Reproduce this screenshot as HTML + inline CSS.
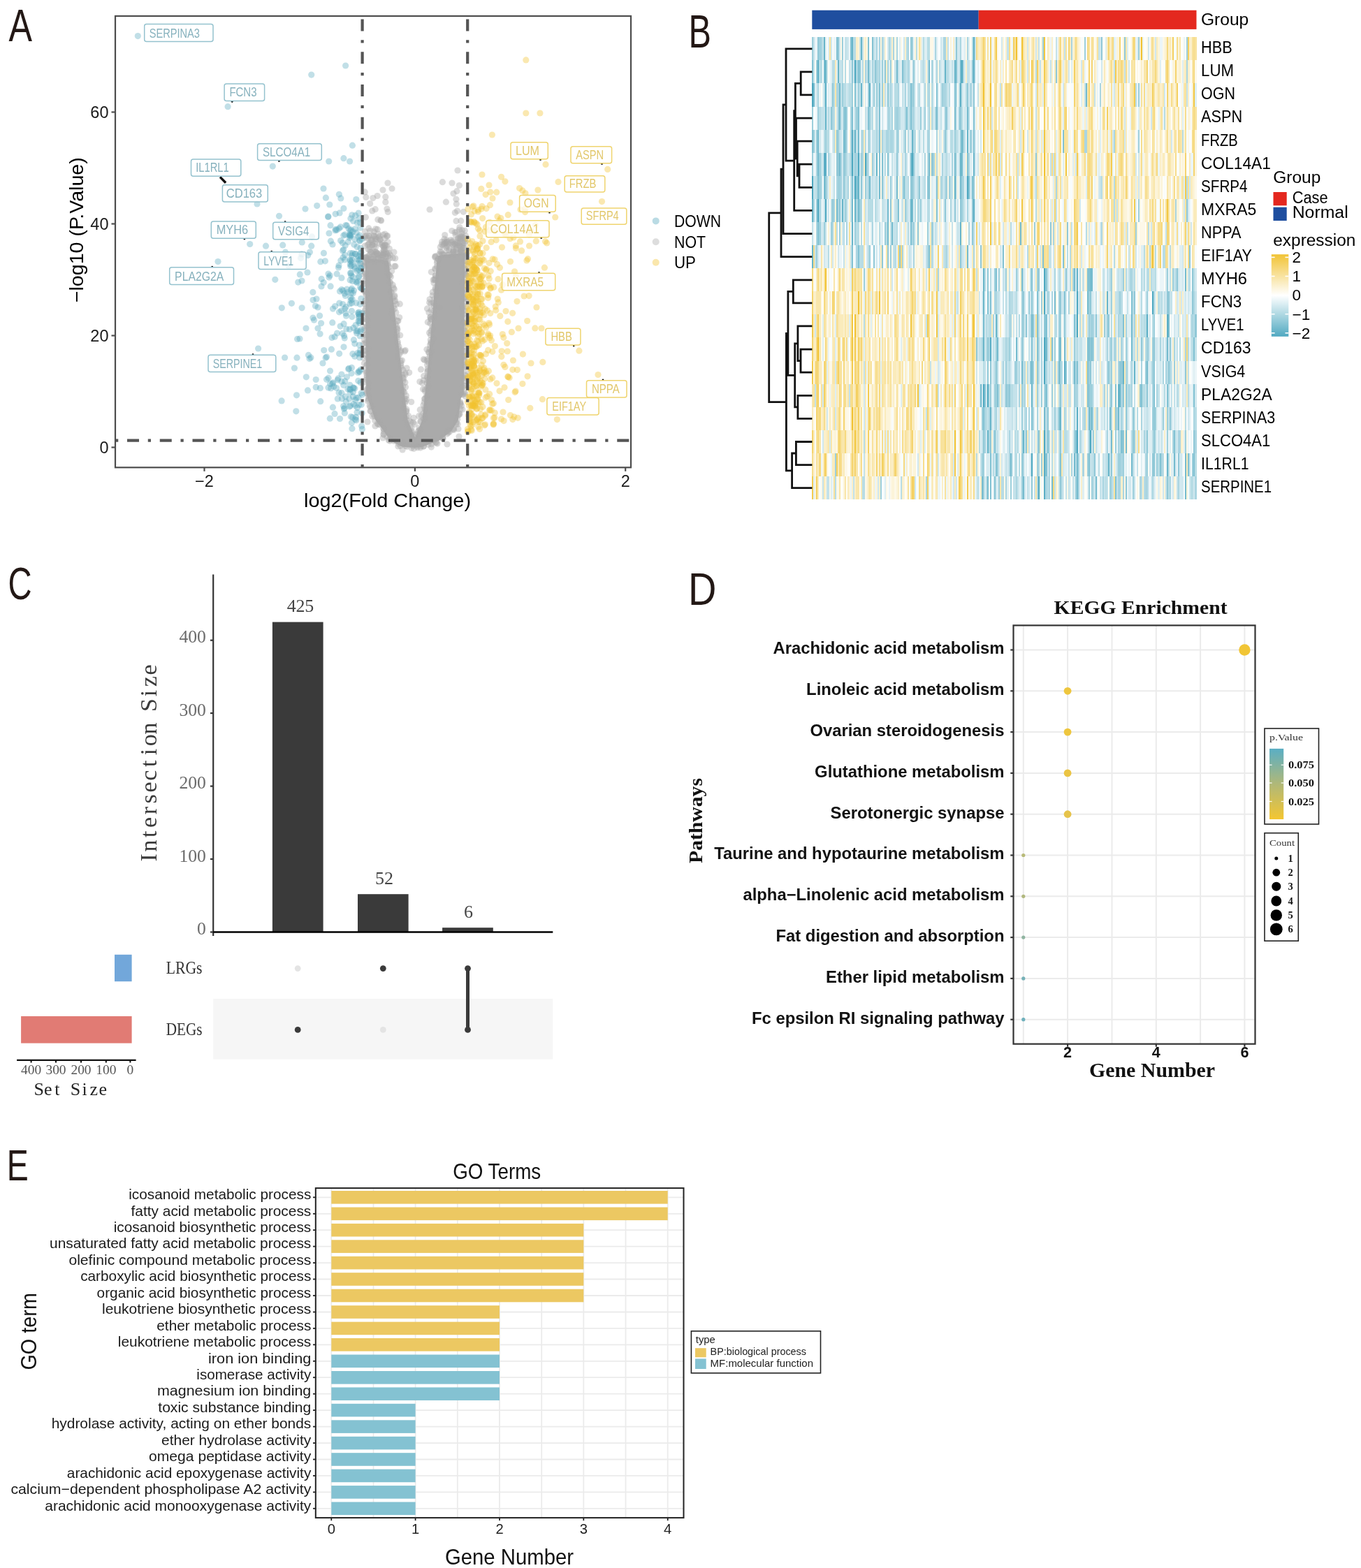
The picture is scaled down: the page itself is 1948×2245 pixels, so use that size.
<!DOCTYPE html>
<html><head><meta charset="utf-8"><title>Figure</title>
<style>html,body{margin:0;padding:0;background:#fff;}body{width:1948px;height:2245px;overflow:hidden;}svg{display:block;}</style>
</head><body>
<svg width="1948" height="2245" viewBox="0 0 1948 2245" font-family="'Liberation Sans', Arial, sans-serif">
<rect width="1948" height="2245" fill="#fff"/>
<g id="pa">
<text x="12.5" y="58.9" font-size="64.2" fill="#231815" textLength="33.5" lengthAdjust="spacingAndGlyphs">A</text>
<clipPath id="clipA"><rect x="165" y="23" width="738" height="646.3"/></clipPath>
<g clip-path="url(#clipA)">
<path d="M522.7 369.7 L530.1 370.5 L544.3 371.5 L553.7 373 L556.2 374.7 L573.5 518.7 L583.6 601 L594 626.5 L604.4 600.9 L613.1 518.5 L625.4 373.3 L627.7 366.1 L635.9 364.4 L650.2 363.5 L665.3 361.9 L663.9 563.5 L659.8 570.2 L655.8 601.7 L646.5 616.4 L629.8 630.2 L604.7 639.7 L593.9 641 L575.5 639.7 L558.6 630.9 L549 616.8 L536.7 600.4 L526.2 570.2 L524 564.1Z" fill="#aaaaaa"/>
<g fill="#a9a9a9" fill-opacity="0.42">
<circle cx="549.6" cy="354" r="4.6"/><circle cx="536.8" cy="602.2" r="4.6"/><circle cx="615.4" cy="509.9" r="4.6"/><circle cx="526.9" cy="554.9" r="4.6"/><circle cx="639.2" cy="358.9" r="4.6"/><circle cx="568" cy="475.5" r="4.6"/><circle cx="524.3" cy="368.9" r="4.6"/><circle cx="579.9" cy="547.6" r="4.6"/><circle cx="653.1" cy="358" r="4.6"/><circle cx="568.9" cy="471.9" r="4.6"/><circle cx="535.8" cy="595.9" r="4.6"/><circle cx="652" cy="336.6" r="4.6"/><circle cx="527.5" cy="572.4" r="4.6"/><circle cx="606.1" cy="639.1" r="4.6"/><circle cx="589" cy="613.1" r="4.6"/><circle cx="527.8" cy="326.9" r="4.6"/><circle cx="638.1" cy="347.4" r="4.6"/><circle cx="617.1" cy="503.6" r="4.6"/><circle cx="590" cy="618.2" r="4.6"/><circle cx="520" cy="377.7" r="4.6"/><circle cx="639.9" cy="621.3" r="4.6"/><circle cx="523.8" cy="282.4" r="4.6"/><circle cx="535.7" cy="337.4" r="4.6"/><circle cx="526" cy="604" r="4.6"/><circle cx="577.1" cy="545.3" r="4.6"/><circle cx="575.5" cy="633.1" r="4.6"/><circle cx="645.3" cy="343.6" r="4.6"/><circle cx="642.5" cy="358.5" r="4.6"/><circle cx="581.9" cy="588.5" r="4.6"/><circle cx="666" cy="474.2" r="4.6"/><circle cx="648" cy="614.9" r="4.6"/><circle cx="611.5" cy="441.9" r="4.6"/><circle cx="615.1" cy="499.4" r="4.6"/><circle cx="574.1" cy="526.5" r="4.6"/><circle cx="594.2" cy="622" r="4.6"/><circle cx="617.2" cy="456.8" r="4.6"/><circle cx="665.1" cy="462.9" r="4.6"/><circle cx="575.5" cy="516" r="4.6"/><circle cx="658.3" cy="347.4" r="4.6"/><circle cx="525" cy="540.4" r="4.6"/><circle cx="543.9" cy="348.9" r="4.6"/><circle cx="524.2" cy="533.8" r="4.6"/><circle cx="665.7" cy="341.9" r="4.6"/><circle cx="611.4" cy="516.8" r="4.6"/><circle cx="592.4" cy="642.3" r="4.6"/><circle cx="538.2" cy="361.2" r="4.6"/><circle cx="588.7" cy="575.5" r="4.6"/><circle cx="549.3" cy="614.3" r="4.6"/><circle cx="532.4" cy="581.3" r="4.6"/><circle cx="534.5" cy="360.8" r="4.6"/><circle cx="635.2" cy="364.5" r="4.6"/><circle cx="661" cy="338.5" r="4.6"/><circle cx="529.6" cy="291.6" r="4.6"/><circle cx="602.5" cy="528.9" r="4.6"/><circle cx="560.7" cy="388.1" r="4.6"/><circle cx="537.8" cy="353.5" r="4.6"/><circle cx="555.1" cy="346.5" r="4.6"/><circle cx="650.9" cy="349.6" r="4.6"/><circle cx="611.7" cy="540.6" r="4.6"/><circle cx="657.2" cy="592.3" r="4.6"/><circle cx="555.4" cy="366.8" r="4.6"/><circle cx="549.2" cy="361.9" r="4.6"/><circle cx="652.8" cy="607.4" r="4.6"/><circle cx="548" cy="272" r="4.6"/><circle cx="536.3" cy="374.2" r="4.6"/><circle cx="521.4" cy="520.3" r="4.6"/><circle cx="668.3" cy="531.1" r="4.6"/><circle cx="592.2" cy="598.4" r="4.6"/><circle cx="641.5" cy="619.6" r="4.6"/><circle cx="581.9" cy="585.9" r="4.6"/><circle cx="606.5" cy="638.9" r="4.6"/><circle cx="562.4" cy="369.4" r="4.6"/><circle cx="551" cy="374.4" r="4.6"/><circle cx="549.2" cy="359" r="4.6"/><circle cx="616.3" cy="486.7" r="4.6"/><circle cx="665.7" cy="563.6" r="4.6"/><circle cx="544.9" cy="367.8" r="4.6"/><circle cx="573.1" cy="638.6" r="4.6"/><circle cx="552.4" cy="367.7" r="4.6"/><circle cx="648.1" cy="344.6" r="4.6"/><circle cx="658.8" cy="360" r="4.6"/><circle cx="537.7" cy="369.4" r="4.6"/><circle cx="664.4" cy="391.3" r="4.6"/><circle cx="569.9" cy="459.5" r="4.6"/><circle cx="608.3" cy="586.2" r="4.6"/><circle cx="553.5" cy="351.7" r="4.6"/><circle cx="611.5" cy="555.4" r="4.6"/><circle cx="585.7" cy="533.6" r="4.6"/><circle cx="666.5" cy="386.1" r="4.6"/><circle cx="521.4" cy="416.8" r="4.6"/><circle cx="577.1" cy="560.8" r="4.6"/><circle cx="603.2" cy="595" r="4.6"/><circle cx="666.1" cy="404.6" r="4.6"/><circle cx="554.6" cy="363.8" r="4.6"/><circle cx="522.5" cy="501.5" r="4.6"/><circle cx="660.3" cy="361.2" r="4.6"/><circle cx="624.4" cy="422.3" r="4.6"/><circle cx="606.9" cy="600.2" r="4.6"/><circle cx="565.7" cy="369.8" r="4.6"/><circle cx="547.9" cy="365.4" r="4.6"/><circle cx="553.9" cy="299.1" r="4.6"/><circle cx="532.8" cy="351.3" r="4.6"/><circle cx="657.4" cy="363.3" r="4.6"/><circle cx="522.1" cy="445.2" r="4.6"/><circle cx="524.2" cy="395.7" r="4.6"/><circle cx="527" cy="357.1" r="4.6"/><circle cx="591.4" cy="625.3" r="4.6"/><circle cx="665.5" cy="445.2" r="4.6"/><circle cx="553.2" cy="363.2" r="4.6"/><circle cx="647.8" cy="346.6" r="4.6"/><circle cx="649.6" cy="613.5" r="4.6"/><circle cx="648.6" cy="360.8" r="4.6"/><circle cx="620.5" cy="485" r="4.6"/><circle cx="626" cy="635.1" r="4.6"/><circle cx="548.7" cy="613.5" r="4.6"/><circle cx="532.8" cy="596.1" r="4.6"/><circle cx="551" cy="363" r="4.6"/><circle cx="538.5" cy="360.9" r="4.6"/><circle cx="621.6" cy="400.5" r="4.6"/><circle cx="526.7" cy="499" r="4.6"/><circle cx="662.7" cy="348.7" r="4.6"/><circle cx="662.8" cy="564.8" r="4.6"/><circle cx="663.3" cy="426.8" r="4.6"/><circle cx="620.4" cy="454.6" r="4.6"/><circle cx="667.7" cy="365.9" r="4.6"/><circle cx="606.3" cy="544.6" r="4.6"/><circle cx="637.1" cy="348.4" r="4.6"/><circle cx="666.3" cy="345.5" r="4.6"/><circle cx="633.6" cy="627.5" r="4.6"/><circle cx="666.3" cy="510.3" r="4.6"/><circle cx="610.6" cy="568.5" r="4.6"/><circle cx="561.3" cy="449.2" r="4.6"/><circle cx="665.5" cy="492.6" r="4.6"/><circle cx="529.8" cy="330.5" r="4.6"/><circle cx="531.9" cy="360.9" r="4.6"/><circle cx="663.2" cy="490.7" r="4.6"/><circle cx="666.4" cy="337.6" r="4.6"/><circle cx="653.7" cy="348.4" r="4.6"/><circle cx="540.5" cy="369.2" r="4.6"/><circle cx="601.7" cy="603.6" r="4.6"/><circle cx="535.9" cy="365.6" r="4.6"/><circle cx="661" cy="334.1" r="4.6"/><circle cx="581.7" cy="571.4" r="4.6"/><circle cx="656" cy="614" r="4.6"/><circle cx="623.5" cy="385.5" r="4.6"/><circle cx="570.4" cy="635.1" r="4.6"/><circle cx="535.2" cy="331.7" r="4.6"/><circle cx="634.1" cy="628" r="4.6"/><circle cx="628.9" cy="364.1" r="4.6"/><circle cx="573.7" cy="502" r="4.6"/><circle cx="573.9" cy="523.8" r="4.6"/><circle cx="524.1" cy="399.3" r="4.6"/><circle cx="526" cy="532" r="4.6"/><circle cx="606.6" cy="538.4" r="4.6"/><circle cx="524.6" cy="523" r="4.6"/><circle cx="655.7" cy="341.3" r="4.6"/><circle cx="664.1" cy="420.3" r="4.6"/><circle cx="523.4" cy="311.1" r="4.6"/><circle cx="549.3" cy="357.5" r="4.6"/><circle cx="617.1" cy="444.1" r="4.6"/><circle cx="623.5" cy="394.7" r="4.6"/><circle cx="568.4" cy="470.6" r="4.6"/><circle cx="577.9" cy="583.2" r="4.6"/><circle cx="665.2" cy="518" r="4.6"/><circle cx="610.9" cy="500.3" r="4.6"/><circle cx="664.4" cy="355" r="4.6"/><circle cx="521.7" cy="456.1" r="4.6"/><circle cx="641" cy="349.6" r="4.6"/><circle cx="556.2" cy="630" r="4.6"/><circle cx="525.4" cy="521.6" r="4.6"/><circle cx="648.9" cy="358.4" r="4.6"/><circle cx="667.2" cy="481.7" r="4.6"/><circle cx="660.8" cy="564.7" r="4.6"/><circle cx="655" cy="244" r="4.6"/><circle cx="632.5" cy="363.8" r="4.6"/><circle cx="558.5" cy="405" r="4.6"/><circle cx="521.8" cy="381.1" r="4.6"/><circle cx="659.2" cy="339.4" r="4.6"/><circle cx="537.3" cy="339.3" r="4.6"/><circle cx="555" cy="373.6" r="4.6"/><circle cx="634" cy="364.5" r="4.6"/><circle cx="619.7" cy="433" r="4.6"/><circle cx="562.3" cy="427" r="4.6"/><circle cx="554.7" cy="337.7" r="4.6"/><circle cx="598.3" cy="621.3" r="4.6"/><circle cx="524.6" cy="467.5" r="4.6"/><circle cx="591.3" cy="604.9" r="4.6"/><circle cx="533.9" cy="283.6" r="4.6"/><circle cx="643.1" cy="354.5" r="4.6"/><circle cx="576.1" cy="644" r="4.6"/><circle cx="581.3" cy="566.6" r="4.6"/><circle cx="661.4" cy="360.5" r="4.6"/><circle cx="661" cy="354.6" r="4.6"/><circle cx="564.3" cy="414.1" r="4.6"/><circle cx="663.8" cy="415.1" r="4.6"/><circle cx="663.4" cy="495.9" r="4.6"/><circle cx="661.6" cy="440.1" r="4.6"/><circle cx="569.2" cy="488.9" r="4.6"/><circle cx="664.2" cy="454.5" r="4.6"/><circle cx="616.7" cy="490.3" r="4.6"/><circle cx="543.4" cy="338.2" r="4.6"/><circle cx="665.1" cy="347.9" r="4.6"/><circle cx="657.4" cy="351.3" r="4.6"/><circle cx="663.2" cy="481.5" r="4.6"/><circle cx="524.7" cy="421.4" r="4.6"/><circle cx="546.9" cy="347.6" r="4.6"/><circle cx="665.3" cy="400.9" r="4.6"/><circle cx="543.7" cy="608.1" r="4.6"/><circle cx="545.9" cy="372.6" r="4.6"/><circle cx="613.9" cy="505.1" r="4.6"/><circle cx="617" cy="491.8" r="4.6"/><circle cx="525.9" cy="458.3" r="4.6"/><circle cx="653.8" cy="346.2" r="4.6"/><circle cx="564.8" cy="424.9" r="4.6"/><circle cx="606" cy="579.9" r="4.6"/><circle cx="530.2" cy="368.8" r="4.6"/><circle cx="577.7" cy="541.9" r="4.6"/><circle cx="665.8" cy="536.9" r="4.6"/><circle cx="537" cy="610" r="4.6"/><circle cx="522.9" cy="417.2" r="4.6"/><circle cx="529.1" cy="580.8" r="4.6"/><circle cx="640.2" cy="346.2" r="4.6"/><circle cx="617.3" cy="640.1" r="4.6"/><circle cx="524.1" cy="507.3" r="4.6"/><circle cx="542.3" cy="340.2" r="4.6"/><circle cx="537.6" cy="345.2" r="4.6"/><circle cx="663.3" cy="303.3" r="4.6"/><circle cx="549.3" cy="622.6" r="4.6"/><circle cx="548.5" cy="336.2" r="4.6"/><circle cx="658.9" cy="342.2" r="4.6"/><circle cx="523.5" cy="430.4" r="4.6"/><circle cx="568.2" cy="480" r="4.6"/><circle cx="529.4" cy="353.4" r="4.6"/><circle cx="653.9" cy="273.7" r="4.6"/><circle cx="645.7" cy="346.9" r="4.6"/><circle cx="662.4" cy="418.9" r="4.6"/><circle cx="668" cy="379.8" r="4.6"/><circle cx="543.8" cy="343.3" r="4.6"/><circle cx="666.6" cy="467.2" r="4.6"/><circle cx="668" cy="374.5" r="4.6"/><circle cx="540.2" cy="606.4" r="4.6"/><circle cx="522.7" cy="490.8" r="4.6"/><circle cx="556.8" cy="394.4" r="4.6"/><circle cx="581.3" cy="589.6" r="4.6"/><circle cx="639.7" cy="346.9" r="4.6"/><circle cx="607.8" cy="583.9" r="4.6"/><circle cx="586.1" cy="602.7" r="4.6"/><circle cx="566.8" cy="447.5" r="4.6"/><circle cx="526.2" cy="372.8" r="4.6"/><circle cx="621.8" cy="427.8" r="4.6"/><circle cx="564.8" cy="381.1" r="4.6"/><circle cx="624.5" cy="634" r="4.6"/><circle cx="550.1" cy="352.5" r="4.6"/><circle cx="656.1" cy="594.6" r="4.6"/><circle cx="662" cy="345.8" r="4.6"/><circle cx="563.9" cy="361.1" r="4.6"/><circle cx="576.6" cy="540.7" r="4.6"/><circle cx="573.8" cy="520" r="4.6"/><circle cx="540.9" cy="314.4" r="4.6"/><circle cx="524.1" cy="437.7" r="4.6"/><circle cx="548" cy="627" r="4.6"/><circle cx="665.6" cy="392.4" r="4.6"/><circle cx="662.9" cy="444.7" r="4.6"/><circle cx="549.1" cy="363" r="4.6"/><circle cx="623.2" cy="414.2" r="4.6"/><circle cx="521.3" cy="473" r="4.6"/><circle cx="523.6" cy="421.4" r="4.6"/><circle cx="525.7" cy="556.7" r="4.6"/><circle cx="521.1" cy="406.5" r="4.6"/><circle cx="524.4" cy="337.5" r="4.6"/><circle cx="598.6" cy="617.8" r="4.6"/><circle cx="579.6" cy="576.9" r="4.6"/><circle cx="524.7" cy="478" r="4.6"/><circle cx="663.6" cy="471.7" r="4.6"/><circle cx="551.1" cy="335" r="4.6"/><circle cx="581.6" cy="595.9" r="4.6"/><circle cx="605.5" cy="557.2" r="4.6"/><circle cx="659.1" cy="338" r="4.6"/><circle cx="653.4" cy="332" r="4.6"/><circle cx="625.4" cy="376.4" r="4.6"/><circle cx="557.7" cy="627.7" r="4.6"/><circle cx="540.7" cy="371" r="4.6"/><circle cx="654.8" cy="361.9" r="4.6"/><circle cx="569.4" cy="492" r="4.6"/><circle cx="634.5" cy="351.7" r="4.6"/><circle cx="606.1" cy="591.8" r="4.6"/><circle cx="555" cy="262" r="4.6"/><circle cx="535" cy="593.5" r="4.6"/><circle cx="659.7" cy="316.2" r="4.6"/><circle cx="522" cy="340.4" r="4.6"/><circle cx="558.5" cy="365.1" r="4.6"/><circle cx="663" cy="354.7" r="4.6"/><circle cx="663.1" cy="339.7" r="4.6"/><circle cx="579.9" cy="534" r="4.6"/><circle cx="625.6" cy="373.4" r="4.6"/><circle cx="523" cy="391.7" r="4.6"/><circle cx="657.8" cy="325.6" r="4.6"/><circle cx="653" cy="316.4" r="4.6"/><circle cx="620.8" cy="445" r="4.6"/><circle cx="661.9" cy="351.5" r="4.6"/><circle cx="553.8" cy="625.3" r="4.6"/><circle cx="529.9" cy="582.4" r="4.6"/><circle cx="659.9" cy="341.7" r="4.6"/><circle cx="631.6" cy="361.2" r="4.6"/><circle cx="658.8" cy="353.2" r="4.6"/><circle cx="611.1" cy="548.5" r="4.6"/><circle cx="613" cy="636.4" r="4.6"/><circle cx="665.5" cy="542" r="4.6"/><circle cx="662.8" cy="461.4" r="4.6"/><circle cx="639.7" cy="351.9" r="4.6"/><circle cx="656" cy="340.8" r="4.6"/><circle cx="611.5" cy="522.2" r="4.6"/><circle cx="659" cy="575.8" r="4.6"/><circle cx="588.2" cy="604.4" r="4.6"/><circle cx="526.4" cy="574.2" r="4.6"/><circle cx="557.8" cy="369.6" r="4.6"/><circle cx="524.9" cy="543.6" r="4.6"/><circle cx="660.9" cy="357.5" r="4.6"/><circle cx="579.3" cy="502.9" r="4.6"/><circle cx="549.3" cy="617.7" r="4.6"/><circle cx="526.2" cy="512.7" r="4.6"/><circle cx="543.1" cy="603.7" r="4.6"/><circle cx="630.2" cy="359.9" r="4.6"/><circle cx="526" cy="563.2" r="4.6"/><circle cx="557.9" cy="631.3" r="4.6"/><circle cx="538.6" cy="342.7" r="4.6"/><circle cx="542.5" cy="370.1" r="4.6"/><circle cx="576.9" cy="529.8" r="4.6"/><circle cx="616.7" cy="435.1" r="4.6"/><circle cx="643.5" cy="618.2" r="4.6"/><circle cx="648.9" cy="360.8" r="4.6"/><circle cx="599.9" cy="612.8" r="4.6"/><circle cx="616.7" cy="473.7" r="4.6"/><circle cx="642.6" cy="363.9" r="4.6"/><circle cx="523.6" cy="369.6" r="4.6"/><circle cx="664.3" cy="383.5" r="4.6"/><circle cx="665.9" cy="365.1" r="4.6"/><circle cx="633.4" cy="260.7" r="4.6"/><circle cx="555.3" cy="380.1" r="4.6"/><circle cx="558.1" cy="403.8" r="4.6"/><circle cx="521.5" cy="486.5" r="4.6"/><circle cx="552.1" cy="371.6" r="4.6"/><circle cx="540.2" cy="328.3" r="4.6"/><circle cx="534.5" cy="337.7" r="4.6"/><circle cx="525.1" cy="537.7" r="4.6"/><circle cx="564.8" cy="423.1" r="4.6"/><circle cx="536.4" cy="349.2" r="4.6"/><circle cx="664.8" cy="523.2" r="4.6"/><circle cx="665.4" cy="502.6" r="4.6"/><circle cx="665.3" cy="330.3" r="4.6"/><circle cx="633.6" cy="627" r="4.6"/><circle cx="523.7" cy="448.3" r="4.6"/><circle cx="524.4" cy="562.9" r="4.6"/><circle cx="562.2" cy="444.5" r="4.6"/><circle cx="558" cy="394" r="4.6"/><circle cx="580.5" cy="638.4" r="4.6"/><circle cx="622.1" cy="451.1" r="4.6"/><circle cx="664.3" cy="462.5" r="4.6"/><circle cx="550.7" cy="356" r="4.6"/><circle cx="549.5" cy="371.3" r="4.6"/><circle cx="563" cy="456" r="4.6"/><circle cx="553.6" cy="338" r="4.6"/><circle cx="623.2" cy="411.7" r="4.6"/><circle cx="662.4" cy="437.6" r="4.6"/><circle cx="541.5" cy="335" r="4.6"/><circle cx="666.5" cy="486" r="4.6"/><circle cx="623.7" cy="366.6" r="4.6"/><circle cx="647.1" cy="363" r="4.6"/><circle cx="666.7" cy="538.1" r="4.6"/><circle cx="667" cy="428.1" r="4.6"/><circle cx="561" cy="270" r="4.6"/><circle cx="580.5" cy="574.4" r="4.6"/><circle cx="530.5" cy="588.8" r="4.6"/><circle cx="655.1" cy="607.2" r="4.6"/><circle cx="663" cy="509.8" r="4.6"/><circle cx="522" cy="368.8" r="4.6"/><circle cx="623.2" cy="401" r="4.6"/><circle cx="615.9" cy="454.4" r="4.6"/><circle cx="653.4" cy="353.9" r="4.6"/><circle cx="557.3" cy="356" r="4.6"/><circle cx="647" cy="262" r="4.6"/><circle cx="523.2" cy="442.5" r="4.6"/><circle cx="661.6" cy="405.2" r="4.6"/><circle cx="563.4" cy="454.9" r="4.6"/><circle cx="665.3" cy="373.3" r="4.6"/><circle cx="613.7" cy="519.8" r="4.6"/><circle cx="578.8" cy="561.7" r="4.6"/><circle cx="615" cy="300" r="4.6"/><circle cx="662.8" cy="449.9" r="4.6"/><circle cx="533" cy="350.4" r="4.6"/><circle cx="521.1" cy="392.9" r="4.6"/><circle cx="576.6" cy="552.9" r="4.6"/><circle cx="546.8" cy="350.4" r="4.6"/><circle cx="602.2" cy="639" r="4.6"/><circle cx="548.3" cy="352.7" r="4.6"/><circle cx="524.3" cy="482.5" r="4.6"/><circle cx="529.1" cy="357.7" r="4.6"/><circle cx="524.5" cy="491" r="4.6"/><circle cx="543.3" cy="365.4" r="4.6"/><circle cx="528.8" cy="347.6" r="4.6"/><circle cx="622.6" cy="367.5" r="4.6"/><circle cx="600.8" cy="546.5" r="4.6"/><circle cx="667.2" cy="524.7" r="4.6"/><circle cx="653.3" cy="604.9" r="4.6"/><circle cx="532.8" cy="301.9" r="4.6"/><circle cx="664.4" cy="552.4" r="4.6"/><circle cx="559.2" cy="418" r="4.6"/><circle cx="622.8" cy="368.4" r="4.6"/><circle cx="522.2" cy="375.4" r="4.6"/><circle cx="564.7" cy="431.6" r="4.6"/><circle cx="664.8" cy="510.5" r="4.6"/><circle cx="664.8" cy="551.8" r="4.6"/><circle cx="620" cy="400.7" r="4.6"/><circle cx="569.8" cy="639" r="4.6"/><circle cx="535.5" cy="352.6" r="4.6"/><circle cx="526.2" cy="350.3" r="4.6"/><circle cx="663.1" cy="502.8" r="4.6"/><circle cx="530.5" cy="360.8" r="4.6"/><circle cx="571" cy="496.6" r="4.6"/><circle cx="608.1" cy="557.8" r="4.6"/><circle cx="606.2" cy="599.7" r="4.6"/><circle cx="611.9" cy="514.1" r="4.6"/><circle cx="562.2" cy="407.9" r="4.6"/><circle cx="568.9" cy="459.4" r="4.6"/><circle cx="522.1" cy="502.8" r="4.6"/><circle cx="662.9" cy="540.7" r="4.6"/><circle cx="548.8" cy="621.4" r="4.6"/><circle cx="596.5" cy="638.9" r="4.6"/><circle cx="648.4" cy="350.2" r="4.6"/><circle cx="638.9" cy="354.4" r="4.6"/><circle cx="616.2" cy="453.4" r="4.6"/><circle cx="590.8" cy="638.6" r="4.6"/><circle cx="606.3" cy="514.4" r="4.6"/><circle cx="551" cy="351.1" r="4.6"/><circle cx="617.3" cy="389.5" r="4.6"/><circle cx="524.5" cy="406.6" r="4.6"/><circle cx="551.8" cy="281.9" r="4.6"/><circle cx="522.2" cy="352.1" r="4.6"/><circle cx="552.3" cy="361" r="4.6"/><circle cx="612.3" cy="461.2" r="4.6"/><circle cx="522.7" cy="390.1" r="4.6"/><circle cx="527.8" cy="548.7" r="4.6"/><circle cx="597.6" cy="640.8" r="4.6"/><circle cx="551.4" cy="350.4" r="4.6"/><circle cx="647.9" cy="350.7" r="4.6"/><circle cx="607.1" cy="575.7" r="4.6"/><circle cx="602.5" cy="603.8" r="4.6"/><circle cx="662.3" cy="554.5" r="4.6"/><circle cx="665.2" cy="425.9" r="4.6"/><circle cx="619.1" cy="423" r="4.6"/><circle cx="665.3" cy="525.4" r="4.6"/><circle cx="657.4" cy="329" r="4.6"/><circle cx="660" cy="358.2" r="4.6"/><circle cx="524.9" cy="559.4" r="4.6"/><circle cx="659.1" cy="586" r="4.6"/><circle cx="524.5" cy="368.1" r="4.6"/><circle cx="536.6" cy="341.9" r="4.6"/><circle cx="664.5" cy="561.7" r="4.6"/><circle cx="559.3" cy="396.3" r="4.6"/><circle cx="621.3" cy="438.3" r="4.6"/><circle cx="654.7" cy="600" r="4.6"/><circle cx="525" cy="371.9" r="4.6"/><circle cx="621.4" cy="434.4" r="4.6"/><circle cx="522.1" cy="547.2" r="4.6"/><circle cx="661.9" cy="586.3" r="4.6"/><circle cx="522.4" cy="331.5" r="4.6"/><circle cx="627.2" cy="370.7" r="4.6"/><circle cx="580.5" cy="554.2" r="4.6"/><circle cx="583.2" cy="607.6" r="4.6"/><circle cx="665.1" cy="363.3" r="4.6"/><circle cx="610.7" cy="566.1" r="4.6"/><circle cx="664.9" cy="545.5" r="4.6"/><circle cx="667.4" cy="393.9" r="4.6"/><circle cx="636" cy="342.2" r="4.6"/><circle cx="611.6" cy="538.9" r="4.6"/><circle cx="608.3" cy="596" r="4.6"/><circle cx="545.8" cy="364.8" r="4.6"/><circle cx="615" cy="428.5" r="4.6"/><circle cx="532.8" cy="345.9" r="4.6"/><circle cx="586.7" cy="613" r="4.6"/><circle cx="660.5" cy="580.8" r="4.6"/><circle cx="661.5" cy="329.7" r="4.6"/><circle cx="614.6" cy="433.2" r="4.6"/><circle cx="601.2" cy="586.7" r="4.6"/><circle cx="536.5" cy="360.6" r="4.6"/><circle cx="663.4" cy="412.5" r="4.6"/><circle cx="620.9" cy="405" r="4.6"/><circle cx="615.8" cy="463" r="4.6"/><circle cx="625.5" cy="381.6" r="4.6"/><circle cx="530.4" cy="343.8" r="4.6"/><circle cx="657.7" cy="341.9" r="4.6"/><circle cx="649.6" cy="615.3" r="4.6"/><circle cx="544.9" cy="315.3" r="4.6"/><circle cx="522.2" cy="274.9" r="4.6"/><circle cx="534.6" cy="370" r="4.6"/><circle cx="555.1" cy="377.5" r="4.6"/><circle cx="521.9" cy="469.6" r="4.6"/><circle cx="579.2" cy="571" r="4.6"/><circle cx="527.6" cy="366.8" r="4.6"/><circle cx="664.6" cy="515.6" r="4.6"/><circle cx="545.2" cy="362.9" r="4.6"/><circle cx="624.5" cy="416.6" r="4.6"/><circle cx="547.3" cy="367.8" r="4.6"/><circle cx="528.2" cy="338" r="4.6"/><circle cx="556.8" cy="382.2" r="4.6"/><circle cx="570.3" cy="499.6" r="4.6"/><circle cx="651.3" cy="304.4" r="4.6"/><circle cx="582.2" cy="527" r="4.6"/><circle cx="565.7" cy="430.5" r="4.6"/><circle cx="569.6" cy="511.1" r="4.6"/><circle cx="555.5" cy="392.2" r="4.6"/><circle cx="604.5" cy="548.6" r="4.6"/><circle cx="593.5" cy="607.3" r="4.6"/><circle cx="566.2" cy="464.1" r="4.6"/><circle cx="640.7" cy="365.5" r="4.6"/><circle cx="525.9" cy="450" r="4.6"/><circle cx="659.1" cy="360" r="4.6"/><circle cx="580.2" cy="501.5" r="4.6"/><circle cx="584.6" cy="595.4" r="4.6"/><circle cx="548.4" cy="365.7" r="4.6"/><circle cx="615.4" cy="493.9" r="4.6"/><circle cx="571.7" cy="454.6" r="4.6"/><circle cx="567.3" cy="435.4" r="4.6"/><circle cx="575.9" cy="536.9" r="4.6"/><circle cx="564.8" cy="442.1" r="4.6"/><circle cx="521.5" cy="434.7" r="4.6"/><circle cx="599.5" cy="595.7" r="4.6"/><circle cx="523.6" cy="531.1" r="4.6"/><circle cx="635.4" cy="349.5" r="4.6"/><circle cx="523.6" cy="479.2" r="4.6"/><circle cx="627.4" cy="370.9" r="4.6"/><circle cx="639.6" cy="343.9" r="4.6"/><circle cx="632.2" cy="350.2" r="4.6"/><circle cx="531.8" cy="343.1" r="4.6"/><circle cx="528.2" cy="338" r="4.6"/><circle cx="528.9" cy="364.9" r="4.6"/><circle cx="650.8" cy="349.6" r="4.6"/><circle cx="537.6" cy="364.2" r="4.6"/><circle cx="589" cy="641.6" r="4.6"/><circle cx="550.9" cy="341" r="4.6"/><circle cx="622.7" cy="399.2" r="4.6"/><circle cx="656.5" cy="351.5" r="4.6"/><circle cx="652.9" cy="355.9" r="4.6"/><circle cx="524" cy="417.6" r="4.6"/><circle cx="608.4" cy="560.3" r="4.6"/><circle cx="617.6" cy="635.8" r="4.6"/><circle cx="527.2" cy="370.2" r="4.6"/><circle cx="646.8" cy="330.5" r="4.6"/><circle cx="573.8" cy="504" r="4.6"/><circle cx="540.1" cy="280.5" r="4.6"/><circle cx="630.2" cy="353.8" r="4.6"/><circle cx="619.3" cy="418.2" r="4.6"/><circle cx="666.8" cy="392.9" r="4.6"/><circle cx="658.9" cy="578.2" r="4.6"/><circle cx="520.4" cy="512.7" r="4.6"/><circle cx="522.2" cy="338.4" r="4.6"/><circle cx="653.6" cy="350.8" r="4.6"/><circle cx="636.1" cy="346" r="4.6"/><circle cx="544.3" cy="342.6" r="4.6"/><circle cx="652.9" cy="285.3" r="4.6"/><circle cx="580.3" cy="536" r="4.6"/><circle cx="553.9" cy="385.3" r="4.6"/><circle cx="657" cy="625" r="4.6"/><circle cx="526.5" cy="341" r="4.6"/><circle cx="612.1" cy="528.3" r="4.6"/><circle cx="613.4" cy="504" r="4.6"/><circle cx="667.6" cy="431.8" r="4.6"/><circle cx="533.4" cy="367.8" r="4.6"/><circle cx="667.2" cy="368" r="4.6"/><circle cx="638.4" cy="289.2" r="4.6"/><circle cx="566" cy="381.3" r="4.6"/><circle cx="521.5" cy="402" r="4.6"/><circle cx="563.9" cy="631.5" r="4.6"/><circle cx="654.6" cy="302.1" r="4.6"/><circle cx="572.3" cy="435.2" r="4.6"/><circle cx="666.2" cy="567.4" r="4.6"/><circle cx="651.1" cy="332.8" r="4.6"/><circle cx="572.7" cy="480" r="4.6"/><circle cx="592.7" cy="625.2" r="4.6"/><circle cx="667.7" cy="439.5" r="4.6"/><circle cx="537.2" cy="299.7" r="4.6"/><circle cx="601.4" cy="615.2" r="4.6"/><circle cx="571.4" cy="507.8" r="4.6"/><circle cx="563.2" cy="412.2" r="4.6"/><circle cx="632.6" cy="346.3" r="4.6"/><circle cx="622.5" cy="384.7" r="4.6"/><circle cx="568" cy="467.7" r="4.6"/><circle cx="608.2" cy="571" r="4.6"/><circle cx="657.9" cy="593.3" r="4.6"/><circle cx="527.6" cy="567.8" r="4.6"/><circle cx="540" cy="363.1" r="4.6"/><circle cx="649.1" cy="359.7" r="4.6"/><circle cx="568.1" cy="483.3" r="4.6"/><circle cx="551.8" cy="289.5" r="4.6"/><circle cx="613.9" cy="447.6" r="4.6"/><circle cx="640" cy="636" r="4.6"/><circle cx="520.2" cy="492.4" r="4.6"/><circle cx="551" cy="374.5" r="4.6"/><circle cx="618.9" cy="468.1" r="4.6"/><circle cx="560.4" cy="418.8" r="4.6"/><circle cx="621.6" cy="630.8" r="4.6"/><circle cx="667" cy="476.1" r="4.6"/><circle cx="582.5" cy="639.6" r="4.6"/><circle cx="607.6" cy="570.9" r="4.6"/><circle cx="520.9" cy="380" r="4.6"/><circle cx="614.5" cy="476.6" r="4.6"/><circle cx="545.6" cy="315.9" r="4.6"/><circle cx="537.6" cy="327.8" r="4.6"/><circle cx="530.1" cy="588.6" r="4.6"/><circle cx="576.5" cy="558.8" r="4.6"/><circle cx="600.2" cy="616.1" r="4.6"/><circle cx="629" cy="440" r="4.6"/><circle cx="601.7" cy="641.1" r="4.6"/><circle cx="523.7" cy="457.6" r="4.6"/><circle cx="649.8" cy="364.7" r="4.6"/><circle cx="556.4" cy="362.3" r="4.6"/><circle cx="527.9" cy="349.6" r="4.6"/><circle cx="525.4" cy="466.3" r="4.6"/><circle cx="616.5" cy="456.9" r="4.6"/><circle cx="657.3" cy="265.5" r="4.6"/><circle cx="653.3" cy="291.9" r="4.6"/><circle cx="623.3" cy="633" r="4.6"/><circle cx="658.9" cy="577.7" r="4.6"/><circle cx="655.9" cy="348.2" r="4.6"/><circle cx="540.1" cy="362.9" r="4.6"/><circle cx="623.3" cy="394.3" r="4.6"/><circle cx="607.7" cy="515.5" r="4.6"/><circle cx="636.7" cy="336.6" r="4.6"/><circle cx="612.7" cy="552.6" r="4.6"/><circle cx="527.5" cy="570.4" r="4.6"/><circle cx="616.3" cy="479.7" r="4.6"/><circle cx="541.4" cy="607.7" r="4.6"/><circle cx="532" cy="370.9" r="4.6"/><circle cx="581.3" cy="600.7" r="4.6"/><circle cx="611.6" cy="531.9" r="4.6"/><circle cx="649" cy="277.1" r="4.6"/><circle cx="612" cy="544.6" r="4.6"/><circle cx="573.5" cy="516.7" r="4.6"/><circle cx="522.9" cy="429.8" r="4.6"/><circle cx="612.6" cy="531.1" r="4.6"/><circle cx="618.7" cy="471.3" r="4.6"/><circle cx="555.2" cy="303.4" r="4.6"/><circle cx="589.1" cy="620.1" r="4.6"/><circle cx="563.4" cy="438.7" r="4.6"/><circle cx="641.1" cy="617.3" r="4.6"/>
</g>
<g fill="#52a6bc" fill-opacity="0.36">
<circle cx="426.7" cy="404.1" r="4.6"/><circle cx="488.9" cy="397.9" r="4.6"/><circle cx="459.6" cy="462.8" r="4.6"/><circle cx="504.1" cy="428.5" r="4.6"/><circle cx="470" cy="555.1" r="4.6"/><circle cx="429" cy="485" r="4.6"/><circle cx="494.2" cy="351.4" r="4.6"/><circle cx="483.3" cy="570.9" r="4.6"/><circle cx="369.6" cy="499" r="4.6"/><circle cx="507.7" cy="556.1" r="4.6"/><circle cx="513.9" cy="447.1" r="4.6"/><circle cx="503.9" cy="613.7" r="4.6"/><circle cx="516" cy="547.7" r="4.6"/><circle cx="491.9" cy="298.4" r="4.6"/><circle cx="512.9" cy="339.1" r="4.6"/><circle cx="515.6" cy="371" r="4.6"/><circle cx="504.9" cy="331.7" r="4.6"/><circle cx="380.5" cy="352.2" r="4.6"/><circle cx="511.1" cy="353.6" r="4.6"/><circle cx="488.9" cy="536" r="4.6"/><circle cx="503.4" cy="605.3" r="4.6"/><circle cx="485" cy="380" r="4.6"/><circle cx="390.3" cy="238.1" r="4.6"/><circle cx="430.5" cy="369.6" r="4.6"/><circle cx="475" cy="483.4" r="4.6"/><circle cx="488.5" cy="444.8" r="4.6"/><circle cx="485.5" cy="446.8" r="4.6"/><circle cx="479.1" cy="482.2" r="4.6"/><circle cx="458.4" cy="555.7" r="4.6"/><circle cx="326.1" cy="152.7" r="4.6"/><circle cx="507.7" cy="492.1" r="4.6"/><circle cx="497.3" cy="418.5" r="4.6"/><circle cx="487.1" cy="467.1" r="4.6"/><circle cx="503.4" cy="526.4" r="4.6"/><circle cx="501.9" cy="312.8" r="4.6"/><circle cx="463.4" cy="362.4" r="4.6"/><circle cx="514.6" cy="512" r="4.6"/><circle cx="515.1" cy="505.5" r="4.6"/><circle cx="407.6" cy="512" r="4.6"/><circle cx="506.8" cy="350.2" r="4.6"/><circle cx="500.9" cy="551.3" r="4.6"/><circle cx="452.2" cy="554.4" r="4.6"/><circle cx="517.6" cy="610" r="4.6"/><circle cx="495" cy="448.7" r="4.6"/><circle cx="506.1" cy="578.5" r="4.6"/><circle cx="518" cy="448.6" r="4.6"/><circle cx="514.3" cy="453" r="4.6"/><circle cx="490.3" cy="347.7" r="4.6"/><circle cx="518.1" cy="591.6" r="4.6"/><circle cx="501.9" cy="426.3" r="4.6"/><circle cx="487.4" cy="324.9" r="4.6"/><circle cx="503.1" cy="534.6" r="4.6"/><circle cx="513.6" cy="454.4" r="4.6"/><circle cx="453.7" cy="294.6" r="4.6"/><circle cx="495.8" cy="471.1" r="4.6"/><circle cx="503" cy="380.3" r="4.6"/><circle cx="489" cy="414.6" r="4.6"/><circle cx="494.6" cy="94" r="4.6"/><circle cx="431.8" cy="363.9" r="4.6"/><circle cx="516.7" cy="529.1" r="4.6"/><circle cx="457.6" cy="452.1" r="4.6"/><circle cx="500.8" cy="371.8" r="4.6"/><circle cx="312" cy="374.5" r="4.6"/><circle cx="473.6" cy="556" r="4.6"/><circle cx="441.5" cy="508.4" r="4.6"/><circle cx="505.6" cy="554.9" r="4.6"/><circle cx="463.7" cy="501.5" r="4.6"/><circle cx="399.5" cy="309.3" r="4.6"/><circle cx="514" cy="579.6" r="4.6"/><circle cx="466.4" cy="283.2" r="4.6"/><circle cx="491.7" cy="337.1" r="4.6"/><circle cx="513" cy="460" r="4.6"/><circle cx="506.1" cy="555.5" r="4.6"/><circle cx="504.6" cy="597.6" r="4.6"/><circle cx="487.6" cy="344.6" r="4.6"/><circle cx="514.8" cy="344.9" r="4.6"/><circle cx="507.7" cy="510.2" r="4.6"/><circle cx="512.9" cy="569.4" r="4.6"/><circle cx="445.7" cy="352.2" r="4.6"/><circle cx="509.9" cy="433.8" r="4.6"/><circle cx="495.3" cy="575.1" r="4.6"/><circle cx="499.1" cy="327.4" r="4.6"/><circle cx="417.4" cy="434.3" r="4.6"/><circle cx="485.4" cy="278.3" r="4.6"/><circle cx="502.5" cy="391.1" r="4.6"/><circle cx="496.4" cy="322.9" r="4.6"/><circle cx="518" cy="412.9" r="4.6"/><circle cx="516.4" cy="383.5" r="4.6"/><circle cx="440.5" cy="558.9" r="4.6"/><circle cx="515.2" cy="481" r="4.6"/><circle cx="513.6" cy="372.5" r="4.6"/><circle cx="493.6" cy="442" r="4.6"/><circle cx="514" cy="507" r="4.6"/><circle cx="487.8" cy="283.9" r="4.6"/><circle cx="514.7" cy="459.5" r="4.6"/><circle cx="432" cy="402" r="4.6"/><circle cx="500.9" cy="337.8" r="4.6"/><circle cx="452.2" cy="543.5" r="4.6"/><circle cx="511.5" cy="583.8" r="4.6"/><circle cx="403.1" cy="573.9" r="4.6"/><circle cx="502.5" cy="336.3" r="4.6"/><circle cx="518.4" cy="614.4" r="4.6"/><circle cx="517.8" cy="342.6" r="4.6"/><circle cx="515.6" cy="363.4" r="4.6"/><circle cx="512.3" cy="533.4" r="4.6"/><circle cx="432.3" cy="346.9" r="4.6"/><circle cx="505.4" cy="561.3" r="4.6"/><circle cx="470" cy="392" r="4.6"/><circle cx="515.6" cy="501.5" r="4.6"/><circle cx="509.1" cy="465.6" r="4.6"/><circle cx="423.8" cy="588.8" r="4.6"/><circle cx="469.6" cy="310.5" r="4.6"/><circle cx="404.7" cy="350.9" r="4.6"/><circle cx="473.4" cy="345.2" r="4.6"/><circle cx="511" cy="387.8" r="4.6"/><circle cx="462" cy="520" r="4.6"/><circle cx="480" cy="330" r="4.6"/><circle cx="458.1" cy="478.1" r="4.6"/><circle cx="508" cy="384.4" r="4.6"/><circle cx="513.1" cy="305.1" r="4.6"/><circle cx="514.8" cy="344.2" r="4.6"/><circle cx="503.5" cy="365.9" r="4.6"/><circle cx="517.2" cy="579.4" r="4.6"/><circle cx="479.6" cy="438.6" r="4.6"/><circle cx="497.9" cy="557.1" r="4.6"/><circle cx="510.2" cy="333.2" r="4.6"/><circle cx="472.6" cy="549.4" r="4.6"/><circle cx="503.7" cy="372.4" r="4.6"/><circle cx="508.4" cy="580.8" r="4.6"/><circle cx="493.3" cy="591.4" r="4.6"/><circle cx="498.3" cy="346.4" r="4.6"/><circle cx="511.6" cy="377.4" r="4.6"/><circle cx="514.6" cy="532.6" r="4.6"/><circle cx="482.2" cy="392.2" r="4.6"/><circle cx="451.4" cy="438" r="4.6"/><circle cx="500.7" cy="335.9" r="4.6"/><circle cx="438.3" cy="539.8" r="4.6"/><circle cx="492" cy="496.8" r="4.6"/><circle cx="432.1" cy="440.8" r="4.6"/><circle cx="509.8" cy="403.4" r="4.6"/><circle cx="508.5" cy="363.6" r="4.6"/><circle cx="408.5" cy="361.1" r="4.6"/><circle cx="514.2" cy="313.1" r="4.6"/><circle cx="473.1" cy="409.9" r="4.6"/><circle cx="500.2" cy="336.3" r="4.6"/><circle cx="509.8" cy="285.6" r="4.6"/><circle cx="516.8" cy="427.6" r="4.6"/><circle cx="505.3" cy="567.9" r="4.6"/><circle cx="494.5" cy="567.9" r="4.6"/><circle cx="508.2" cy="327.8" r="4.6"/><circle cx="501.4" cy="362.6" r="4.6"/><circle cx="496.5" cy="414.2" r="4.6"/><circle cx="512.8" cy="545.3" r="4.6"/><circle cx="465.4" cy="373.8" r="4.6"/><circle cx="513.8" cy="395.3" r="4.6"/><circle cx="463" cy="270" r="4.6"/><circle cx="463.2" cy="404.5" r="4.6"/><circle cx="489" cy="546.2" r="4.6"/><circle cx="493.1" cy="584" r="4.6"/><circle cx="447.8" cy="418.4" r="4.6"/><circle cx="474.4" cy="500.2" r="4.6"/><circle cx="485.3" cy="327" r="4.6"/><circle cx="491" cy="368.7" r="4.6"/><circle cx="493.5" cy="371.9" r="4.6"/><circle cx="479" cy="592.4" r="4.6"/><circle cx="503.5" cy="413.1" r="4.6"/><circle cx="424.5" cy="565.8" r="4.6"/><circle cx="500.8" cy="557.2" r="4.6"/><circle cx="476.8" cy="547.9" r="4.6"/><circle cx="492.6" cy="480.7" r="4.6"/><circle cx="489.4" cy="570.8" r="4.6"/><circle cx="509.8" cy="474" r="4.6"/><circle cx="472.2" cy="394.5" r="4.6"/><circle cx="491.7" cy="357.3" r="4.6"/><circle cx="476" cy="350" r="4.6"/><circle cx="505.7" cy="316.5" r="4.6"/><circle cx="496.4" cy="539.8" r="4.6"/><circle cx="493.7" cy="335.9" r="4.6"/><circle cx="469.9" cy="309.9" r="4.6"/><circle cx="503.4" cy="445.3" r="4.6"/><circle cx="516.4" cy="366.9" r="4.6"/><circle cx="513.5" cy="397" r="4.6"/><circle cx="490.5" cy="359" r="4.6"/><circle cx="471" cy="397.1" r="4.6"/><circle cx="482.1" cy="329.2" r="4.6"/><circle cx="516.8" cy="361.6" r="4.6"/><circle cx="467.5" cy="543.3" r="4.6"/><circle cx="446.5" cy="338.9" r="4.6"/><circle cx="460" cy="410" r="4.6"/><circle cx="503.1" cy="375.3" r="4.6"/><circle cx="517.1" cy="412.9" r="4.6"/><circle cx="480.4" cy="328.3" r="4.6"/><circle cx="440" cy="390" r="4.6"/><circle cx="429.3" cy="392.9" r="4.6"/><circle cx="486.1" cy="304.9" r="4.6"/><circle cx="515.9" cy="377.6" r="4.6"/><circle cx="495.5" cy="452.2" r="4.6"/><circle cx="491" cy="416" r="4.6"/><circle cx="501.4" cy="580.9" r="4.6"/><circle cx="502.1" cy="430.1" r="4.6"/><circle cx="486.5" cy="599.5" r="4.6"/><circle cx="517" cy="563" r="4.6"/><circle cx="510.6" cy="476.9" r="4.6"/><circle cx="471" cy="334" r="4.6"/><circle cx="508.4" cy="363.5" r="4.6"/><circle cx="393.8" cy="400.3" r="4.6"/><circle cx="500.8" cy="434.9" r="4.6"/><circle cx="501.2" cy="330.2" r="4.6"/><circle cx="503.5" cy="434" r="4.6"/><circle cx="485.8" cy="434.1" r="4.6"/><circle cx="501.1" cy="561.9" r="4.6"/><circle cx="421.4" cy="527.1" r="4.6"/><circle cx="458.7" cy="574.7" r="4.6"/><circle cx="357.7" cy="349.5" r="4.6"/><circle cx="471.8" cy="293" r="4.6"/><circle cx="455" cy="470" r="4.6"/><circle cx="508.4" cy="600.5" r="4.6"/><circle cx="501.3" cy="557.7" r="4.6"/><circle cx="482.5" cy="477" r="4.6"/><circle cx="511" cy="590.6" r="4.6"/><circle cx="403.3" cy="440.8" r="4.6"/><circle cx="508.6" cy="572.7" r="4.6"/><circle cx="483.9" cy="541.9" r="4.6"/><circle cx="492.4" cy="585.5" r="4.6"/><circle cx="493.6" cy="365" r="4.6"/><circle cx="513.9" cy="531.2" r="4.6"/><circle cx="512.3" cy="448" r="4.6"/><circle cx="515" cy="337.1" r="4.6"/><circle cx="455" cy="440" r="4.6"/><circle cx="483.3" cy="544" r="4.6"/><circle cx="445.7" cy="107.1" r="4.6"/><circle cx="511.4" cy="319.1" r="4.6"/><circle cx="490.6" cy="435.5" r="4.6"/><circle cx="437" cy="299.1" r="4.6"/><circle cx="467.5" cy="511.1" r="4.6"/><circle cx="485.1" cy="562.2" r="4.6"/><circle cx="501.2" cy="378" r="4.6"/><circle cx="470.7" cy="231" r="4.6"/><circle cx="508.7" cy="308.6" r="4.6"/><circle cx="485.6" cy="506.3" r="4.6"/><circle cx="501.5" cy="373.5" r="4.6"/><circle cx="491.6" cy="581.5" r="4.6"/><circle cx="477.8" cy="553.4" r="4.6"/><circle cx="501.6" cy="338" r="4.6"/><circle cx="505.3" cy="419.7" r="4.6"/><circle cx="368" cy="291.9" r="4.6"/><circle cx="476.4" cy="583.2" r="4.6"/><circle cx="438" cy="470" r="4.6"/><circle cx="515.6" cy="388.6" r="4.6"/><circle cx="501.4" cy="390.9" r="4.6"/><circle cx="502.6" cy="419.8" r="4.6"/><circle cx="515.6" cy="411.5" r="4.6"/><circle cx="472.3" cy="599.2" r="4.6"/><circle cx="425" cy="512.2" r="4.6"/><circle cx="500.3" cy="340.3" r="4.6"/><circle cx="501.1" cy="400.9" r="4.6"/><circle cx="511.8" cy="505.6" r="4.6"/><circle cx="507.3" cy="381.9" r="4.6"/><circle cx="481.5" cy="555.5" r="4.6"/><circle cx="502.6" cy="329.1" r="4.6"/><circle cx="499.3" cy="527.4" r="4.6"/><circle cx="514.2" cy="450.1" r="4.6"/><circle cx="515.3" cy="435.6" r="4.6"/><circle cx="498.7" cy="528.6" r="4.6"/><circle cx="443" cy="513.6" r="4.6"/><circle cx="516" cy="355.3" r="4.6"/><circle cx="500.5" cy="471.5" r="4.6"/><circle cx="472.5" cy="531.1" r="4.6"/><circle cx="487.8" cy="373" r="4.6"/><circle cx="495.1" cy="439.6" r="4.6"/><circle cx="494.8" cy="322.5" r="4.6"/><circle cx="473" cy="322.7" r="4.6"/><circle cx="506.4" cy="486.7" r="4.6"/><circle cx="512.3" cy="402.8" r="4.6"/><circle cx="518.4" cy="565.3" r="4.6"/><circle cx="504.4" cy="208.2" r="4.6"/><circle cx="504.6" cy="362.7" r="4.6"/><circle cx="506.6" cy="416" r="4.6"/><circle cx="502.3" cy="596.7" r="4.6"/><circle cx="493.2" cy="420.3" r="4.6"/><circle cx="476.5" cy="442.1" r="4.6"/><circle cx="514.5" cy="494.1" r="4.6"/><circle cx="425.6" cy="485.4" r="4.6"/><circle cx="517.2" cy="471.9" r="4.6"/><circle cx="513.5" cy="386.4" r="4.6"/><circle cx="515.1" cy="318.5" r="4.6"/><circle cx="458.8" cy="374.7" r="4.6"/><circle cx="500.2" cy="582.1" r="4.6"/><circle cx="486.4" cy="417.1" r="4.6"/><circle cx="509.9" cy="601.8" r="4.6"/><circle cx="504.8" cy="506.7" r="4.6"/><circle cx="515.8" cy="326.1" r="4.6"/><circle cx="503.8" cy="307.8" r="4.6"/><circle cx="448" cy="429.6" r="4.6"/><circle cx="453" cy="428.1" r="4.6"/><circle cx="513.4" cy="450" r="4.6"/><circle cx="512" cy="473.7" r="4.6"/><circle cx="490.2" cy="477.4" r="4.6"/><circle cx="412.8" cy="380.5" r="4.6"/><circle cx="488.9" cy="562.7" r="4.6"/><circle cx="484.5" cy="383" r="4.6"/><circle cx="510.1" cy="569.7" r="4.6"/><circle cx="449.5" cy="458.2" r="4.6"/><circle cx="499.9" cy="570.9" r="4.6"/><circle cx="512.8" cy="366.7" r="4.6"/><circle cx="440.7" cy="365.6" r="4.6"/><circle cx="502.8" cy="394.8" r="4.6"/><circle cx="480.2" cy="306.3" r="4.6"/><circle cx="516.8" cy="384" r="4.6"/><circle cx="500.6" cy="231" r="4.6"/><circle cx="501.7" cy="381.3" r="4.6"/><circle cx="515.9" cy="474.6" r="4.6"/><circle cx="514.7" cy="462.4" r="4.6"/><circle cx="470" cy="541.2" r="4.6"/><circle cx="494.3" cy="423.4" r="4.6"/><circle cx="475.8" cy="461.9" r="4.6"/><circle cx="492.1" cy="463.7" r="4.6"/><circle cx="504.5" cy="402.6" r="4.6"/><circle cx="511.5" cy="371.1" r="4.6"/><circle cx="505.3" cy="396.5" r="4.6"/><circle cx="509.5" cy="597.3" r="4.6"/><circle cx="466.1" cy="512.2" r="4.6"/><circle cx="197.3" cy="51.6" r="4.6"/><circle cx="511.1" cy="404.7" r="4.6"/><circle cx="503.8" cy="453.6" r="4.6"/><circle cx="448" cy="455" r="4.6"/><circle cx="460.2" cy="399.4" r="4.6"/><circle cx="502.4" cy="415" r="4.6"/><circle cx="491.8" cy="551.4" r="4.6"/><circle cx="443.4" cy="361" r="4.6"/><circle cx="475.7" cy="549.2" r="4.6"/><circle cx="491.9" cy="226.7" r="4.6"/><circle cx="505.8" cy="469.4" r="4.6"/><circle cx="493.8" cy="545.9" r="4.6"/><circle cx="493.2" cy="484.1" r="4.6"/><circle cx="444.9" cy="511.9" r="4.6"/><circle cx="507.8" cy="342.6" r="4.6"/>
</g>
<g fill="#f2c230" fill-opacity="0.38">
<circle cx="689.8" cy="411.4" r="4.6"/><circle cx="677.2" cy="578.7" r="4.6"/><circle cx="697.3" cy="444.5" r="4.6"/><circle cx="690.4" cy="447.4" r="4.6"/><circle cx="678.6" cy="524.1" r="4.6"/><circle cx="674.3" cy="456.6" r="4.6"/><circle cx="676.6" cy="382.5" r="4.6"/><circle cx="683.6" cy="421.4" r="4.6"/><circle cx="695.4" cy="325.2" r="4.6"/><circle cx="708.3" cy="591.1" r="4.6"/><circle cx="673.1" cy="591.5" r="4.6"/><circle cx="679.6" cy="541.5" r="4.6"/><circle cx="686.4" cy="405.8" r="4.6"/><circle cx="684.5" cy="488.8" r="4.6"/><circle cx="671" cy="456.6" r="4.6"/><circle cx="673.8" cy="610.5" r="4.6"/><circle cx="699.4" cy="422.2" r="4.6"/><circle cx="678.3" cy="523.5" r="4.6"/><circle cx="676.7" cy="520.4" r="4.6"/><circle cx="672.7" cy="545.4" r="4.6"/><circle cx="681.9" cy="516.5" r="4.6"/><circle cx="747.9" cy="272.9" r="4.6"/><circle cx="673.9" cy="603.9" r="4.6"/><circle cx="675.2" cy="592.9" r="4.6"/><circle cx="744.5" cy="345.9" r="4.6"/><circle cx="769.9" cy="272.1" r="4.6"/><circle cx="669.6" cy="618.5" r="4.6"/><circle cx="686.1" cy="410.5" r="4.6"/><circle cx="726.3" cy="503" r="4.6"/><circle cx="752.8" cy="162" r="4.6"/><circle cx="678.5" cy="382.5" r="4.6"/><circle cx="682.1" cy="552.1" r="4.6"/><circle cx="699.4" cy="531.2" r="4.6"/><circle cx="741.2" cy="598.3" r="4.6"/><circle cx="685.7" cy="396.8" r="4.6"/><circle cx="680.7" cy="391.8" r="4.6"/><circle cx="767.3" cy="345.2" r="4.6"/><circle cx="695.1" cy="569.2" r="4.6"/><circle cx="688.1" cy="508.8" r="4.6"/><circle cx="670.2" cy="518.3" r="4.6"/><circle cx="676.5" cy="530.3" r="4.6"/><circle cx="671.7" cy="551.2" r="4.6"/><circle cx="685.6" cy="467.1" r="4.6"/><circle cx="689.1" cy="485.5" r="4.6"/><circle cx="669.8" cy="299.4" r="4.6"/><circle cx="765.8" cy="469.9" r="4.6"/><circle cx="678.7" cy="449.5" r="4.6"/><circle cx="674.9" cy="402" r="4.6"/><circle cx="675.3" cy="537.1" r="4.6"/><circle cx="682.5" cy="601.1" r="4.6"/><circle cx="673.9" cy="317.8" r="4.6"/><circle cx="700.8" cy="318.3" r="4.6"/><circle cx="691.8" cy="533.5" r="4.6"/><circle cx="670.5" cy="495.3" r="4.6"/><circle cx="678.1" cy="473.6" r="4.6"/><circle cx="869.7" cy="242.4" r="4.6"/><circle cx="682.4" cy="496.1" r="4.6"/><circle cx="679.6" cy="459.6" r="4.6"/><circle cx="676.8" cy="357.9" r="4.6"/><circle cx="709.2" cy="439" r="4.6"/><circle cx="755.1" cy="538.8" r="4.6"/><circle cx="738" cy="560" r="4.6"/><circle cx="689.5" cy="538.1" r="4.6"/><circle cx="681.3" cy="467.3" r="4.6"/><circle cx="732.3" cy="475.4" r="4.6"/><circle cx="727.4" cy="539.7" r="4.6"/><circle cx="678.3" cy="376.1" r="4.6"/><circle cx="701.8" cy="275.1" r="4.6"/><circle cx="681.4" cy="384.9" r="4.6"/><circle cx="673.9" cy="456.8" r="4.6"/><circle cx="675.2" cy="616.5" r="4.6"/><circle cx="758.8" cy="584.3" r="4.6"/><circle cx="698.5" cy="477.8" r="4.6"/><circle cx="690.6" cy="312.6" r="4.6"/><circle cx="683.7" cy="356.2" r="4.6"/><circle cx="683.3" cy="599.8" r="4.6"/><circle cx="677.4" cy="549.6" r="4.6"/><circle cx="733.8" cy="529.3" r="4.6"/><circle cx="678.6" cy="317.3" r="4.6"/><circle cx="672.7" cy="390.2" r="4.6"/><circle cx="671" cy="507.5" r="4.6"/><circle cx="679.7" cy="417.6" r="4.6"/><circle cx="688" cy="448.1" r="4.6"/><circle cx="671.3" cy="414.9" r="4.6"/><circle cx="690" cy="250" r="4.6"/><circle cx="675.2" cy="523.7" r="4.6"/><circle cx="684.2" cy="408.5" r="4.6"/><circle cx="799" cy="260.4" r="4.6"/><circle cx="730.5" cy="374.5" r="4.6"/><circle cx="708" cy="598" r="4.6"/><circle cx="678.5" cy="502" r="4.6"/><circle cx="671.1" cy="567.8" r="4.6"/><circle cx="685" cy="563" r="4.6"/><circle cx="703.1" cy="346.4" r="4.6"/><circle cx="677.6" cy="360.6" r="4.6"/><circle cx="680.1" cy="460.3" r="4.6"/><circle cx="696.2" cy="385.3" r="4.6"/><circle cx="686.3" cy="471.6" r="4.6"/><circle cx="684.4" cy="327.3" r="4.6"/><circle cx="669.7" cy="423.1" r="4.6"/><circle cx="677.6" cy="604.5" r="4.6"/><circle cx="678.7" cy="382.6" r="4.6"/><circle cx="688.2" cy="553.5" r="4.6"/><circle cx="673.2" cy="526.6" r="4.6"/><circle cx="675" cy="387" r="4.6"/><circle cx="737.1" cy="561.6" r="4.6"/><circle cx="671" cy="555.3" r="4.6"/><circle cx="676.7" cy="435.4" r="4.6"/><circle cx="704.8" cy="540.9" r="4.6"/><circle cx="780.5" cy="345.7" r="4.6"/><circle cx="681.3" cy="384.2" r="4.6"/><circle cx="680.2" cy="581" r="4.6"/><circle cx="687.5" cy="545.6" r="4.6"/><circle cx="681" cy="444.7" r="4.6"/><circle cx="690.6" cy="394.8" r="4.6"/><circle cx="679.4" cy="553.5" r="4.6"/><circle cx="677" cy="424.4" r="4.6"/><circle cx="693.2" cy="533.6" r="4.6"/><circle cx="708" cy="371.6" r="4.6"/><circle cx="688.4" cy="403.9" r="4.6"/><circle cx="671.5" cy="398.7" r="4.6"/><circle cx="700.1" cy="376.6" r="4.6"/><circle cx="678.8" cy="318.7" r="4.6"/><circle cx="743.6" cy="269.6" r="4.6"/><circle cx="678.9" cy="596.6" r="4.6"/><circle cx="754.7" cy="459.5" r="4.6"/><circle cx="757.1" cy="423.6" r="4.6"/><circle cx="676.6" cy="540.1" r="4.6"/><circle cx="679.1" cy="387.4" r="4.6"/><circle cx="676.2" cy="296" r="4.6"/><circle cx="674.5" cy="530.8" r="4.6"/><circle cx="718.5" cy="354.1" r="4.6"/><circle cx="694.1" cy="331.5" r="4.6"/><circle cx="677.7" cy="436.5" r="4.6"/><circle cx="711" cy="548.8" r="4.6"/><circle cx="701.8" cy="542.9" r="4.6"/><circle cx="688.8" cy="270.4" r="4.6"/><circle cx="672.1" cy="568.4" r="4.6"/><circle cx="671.1" cy="444.9" r="4.6"/><circle cx="670.1" cy="468.6" r="4.6"/><circle cx="675.7" cy="572.5" r="4.6"/><circle cx="691.4" cy="516.9" r="4.6"/><circle cx="730.1" cy="341.7" r="4.6"/><circle cx="760" cy="330" r="4.6"/><circle cx="678.1" cy="369.1" r="4.6"/><circle cx="678.5" cy="517.1" r="4.6"/><circle cx="717.5" cy="253.3" r="4.6"/><circle cx="686.6" cy="329.9" r="4.6"/><circle cx="715.8" cy="452.4" r="4.6"/><circle cx="678.5" cy="518.4" r="4.6"/><circle cx="684.7" cy="540.5" r="4.6"/><circle cx="679.1" cy="382.5" r="4.6"/><circle cx="675.6" cy="546.6" r="4.6"/><circle cx="689.1" cy="299.1" r="4.6"/><circle cx="738.4" cy="395.1" r="4.6"/><circle cx="721.1" cy="602.6" r="4.6"/><circle cx="719.3" cy="478.6" r="4.6"/><circle cx="691" cy="345" r="4.6"/><circle cx="672.6" cy="543.4" r="4.6"/><circle cx="669.8" cy="375.9" r="4.6"/><circle cx="861.5" cy="288.6" r="4.6"/><circle cx="695.2" cy="531.9" r="4.6"/><circle cx="727.7" cy="572.5" r="4.6"/><circle cx="683.9" cy="561.9" r="4.6"/><circle cx="669.5" cy="479.1" r="4.6"/><circle cx="671.2" cy="463.7" r="4.6"/><circle cx="669.3" cy="575.4" r="4.6"/><circle cx="677.1" cy="577.4" r="4.6"/><circle cx="727.2" cy="307.7" r="4.6"/><circle cx="692.8" cy="450.9" r="4.6"/><circle cx="701.8" cy="448.6" r="4.6"/><circle cx="717.5" cy="600" r="4.6"/><circle cx="687.2" cy="362.4" r="4.6"/><circle cx="674.3" cy="615.1" r="4.6"/><circle cx="670" cy="422.7" r="4.6"/><circle cx="750.1" cy="424" r="4.6"/><circle cx="688.3" cy="435" r="4.6"/><circle cx="675.8" cy="345.6" r="4.6"/><circle cx="724.3" cy="336" r="4.6"/><circle cx="686.7" cy="399.7" r="4.6"/><circle cx="698.6" cy="501.4" r="4.6"/><circle cx="684.7" cy="434.8" r="4.6"/><circle cx="706.3" cy="607.9" r="4.6"/><circle cx="676.5" cy="374.4" r="4.6"/><circle cx="674.5" cy="559.9" r="4.6"/><circle cx="686.5" cy="614.3" r="4.6"/><circle cx="673.5" cy="348.7" r="4.6"/><circle cx="674.2" cy="557.9" r="4.6"/><circle cx="678.4" cy="392" r="4.6"/><circle cx="706.8" cy="411.2" r="4.6"/><circle cx="700" cy="265" r="4.6"/><circle cx="690.1" cy="428" r="4.6"/><circle cx="679.1" cy="302.2" r="4.6"/><circle cx="678.1" cy="459.9" r="4.6"/><circle cx="695.5" cy="386.8" r="4.6"/><circle cx="687.5" cy="585.5" r="4.6"/><circle cx="742" cy="470" r="4.6"/><circle cx="690.2" cy="437.7" r="4.6"/><circle cx="722.6" cy="335.2" r="4.6"/><circle cx="681.9" cy="601.9" r="4.6"/><circle cx="669.9" cy="360.2" r="4.6"/><circle cx="676.4" cy="385.5" r="4.6"/><circle cx="684.7" cy="604.1" r="4.6"/><circle cx="738.4" cy="355.3" r="4.6"/><circle cx="686.3" cy="376.2" r="4.6"/><circle cx="690.1" cy="598.8" r="4.6"/><circle cx="674.8" cy="392.3" r="4.6"/><circle cx="684.3" cy="300.5" r="4.6"/><circle cx="680.6" cy="370.3" r="4.6"/><circle cx="675.2" cy="585.8" r="4.6"/><circle cx="693.8" cy="486.2" r="4.6"/><circle cx="677.6" cy="392.4" r="4.6"/><circle cx="708.3" cy="495.5" r="4.6"/><circle cx="686.8" cy="350.1" r="4.6"/><circle cx="684.8" cy="611.1" r="4.6"/><circle cx="672.2" cy="505.8" r="4.6"/><circle cx="755.5" cy="370.7" r="4.6"/><circle cx="700.8" cy="587.6" r="4.6"/><circle cx="703.5" cy="572.5" r="4.6"/><circle cx="669.4" cy="488.6" r="4.6"/><circle cx="717.5" cy="415.2" r="4.6"/><circle cx="680.3" cy="575.2" r="4.6"/><circle cx="672.8" cy="526.8" r="4.6"/><circle cx="671.9" cy="442.9" r="4.6"/><circle cx="689.3" cy="396.3" r="4.6"/><circle cx="696.1" cy="298.6" r="4.6"/><circle cx="760" cy="520" r="4.6"/><circle cx="681.8" cy="443.1" r="4.6"/><circle cx="678.3" cy="373.2" r="4.6"/><circle cx="672.8" cy="539" r="4.6"/><circle cx="682" cy="429.8" r="4.6"/><circle cx="747.9" cy="549.5" r="4.6"/><circle cx="679.6" cy="443" r="4.6"/><circle cx="692.5" cy="529.2" r="4.6"/><circle cx="673" cy="411.2" r="4.6"/><circle cx="710.2" cy="343.8" r="4.6"/><circle cx="678.7" cy="507.4" r="4.6"/><circle cx="694.3" cy="442.3" r="4.6"/><circle cx="705" cy="284" r="4.6"/><circle cx="673.9" cy="398.7" r="4.6"/><circle cx="670" cy="476.6" r="4.6"/><circle cx="676.4" cy="557.3" r="4.6"/><circle cx="698.9" cy="480.1" r="4.6"/><circle cx="674.3" cy="432.9" r="4.6"/><circle cx="669.5" cy="539.9" r="4.6"/><circle cx="683.8" cy="537.3" r="4.6"/><circle cx="677.2" cy="415" r="4.6"/><circle cx="715" cy="559.8" r="4.6"/><circle cx="675.8" cy="500.5" r="4.6"/><circle cx="673.1" cy="569.4" r="4.6"/><circle cx="717.8" cy="510.6" r="4.6"/><circle cx="696.3" cy="534.9" r="4.6"/><circle cx="719.4" cy="407.7" r="4.6"/><circle cx="680.8" cy="443.7" r="4.6"/><circle cx="669.3" cy="462.1" r="4.6"/><circle cx="674.5" cy="511" r="4.6"/><circle cx="672.6" cy="521.4" r="4.6"/><circle cx="671.1" cy="447.6" r="4.6"/><circle cx="670.1" cy="483.2" r="4.6"/><circle cx="685.9" cy="527.3" r="4.6"/><circle cx="794.7" cy="311" r="4.6"/><circle cx="681.3" cy="351.7" r="4.6"/><circle cx="677.2" cy="581.4" r="4.6"/><circle cx="696.2" cy="354.8" r="4.6"/><circle cx="678" cy="472.8" r="4.6"/><circle cx="681.1" cy="319.5" r="4.6"/><circle cx="775" cy="470" r="4.6"/><circle cx="677.5" cy="477.7" r="4.6"/><circle cx="675.2" cy="463.2" r="4.6"/><circle cx="700.2" cy="398.9" r="4.6"/><circle cx="672.4" cy="354" r="4.6"/><circle cx="693.5" cy="609" r="4.6"/><circle cx="672.5" cy="602.5" r="4.6"/><circle cx="730" cy="290" r="4.6"/><circle cx="683.9" cy="417.9" r="4.6"/><circle cx="706.3" cy="598.4" r="4.6"/><circle cx="697.8" cy="421.9" r="4.6"/><circle cx="683.7" cy="355.8" r="4.6"/><circle cx="669.5" cy="411.1" r="4.6"/><circle cx="781" cy="235.4" r="4.6"/><circle cx="683.4" cy="542.4" r="4.6"/><circle cx="679.7" cy="580.6" r="4.6"/><circle cx="669.3" cy="614.4" r="4.6"/><circle cx="672.4" cy="538" r="4.6"/><circle cx="669.5" cy="405.6" r="4.6"/><circle cx="670" cy="489.1" r="4.6"/><circle cx="685.3" cy="598.1" r="4.6"/><circle cx="703.4" cy="487.3" r="4.6"/><circle cx="757.5" cy="352" r="4.6"/><circle cx="682.1" cy="442.2" r="4.6"/><circle cx="706.4" cy="577.7" r="4.6"/><circle cx="686" cy="478.1" r="4.6"/><circle cx="683.3" cy="571.6" r="4.6"/><circle cx="681" cy="349.6" r="4.6"/><circle cx="678.2" cy="524.1" r="4.6"/><circle cx="693" cy="526.7" r="4.6"/><circle cx="681" cy="496.6" r="4.6"/><circle cx="687.2" cy="420.5" r="4.6"/><circle cx="676.4" cy="496.7" r="4.6"/><circle cx="673.6" cy="474.3" r="4.6"/><circle cx="720.8" cy="483.3" r="4.6"/><circle cx="697.3" cy="567.5" r="4.6"/><circle cx="687.2" cy="377.5" r="4.6"/><circle cx="691" cy="362.4" r="4.6"/><circle cx="678.6" cy="525.6" r="4.6"/><circle cx="685.6" cy="457.1" r="4.6"/><circle cx="674.2" cy="580.3" r="4.6"/><circle cx="677.4" cy="511" r="4.6"/><circle cx="779.4" cy="383.2" r="4.6"/><circle cx="674.8" cy="581.4" r="4.6"/><circle cx="733.6" cy="448.3" r="4.6"/><circle cx="676.3" cy="534.7" r="4.6"/><circle cx="684.4" cy="303" r="4.6"/><circle cx="672.1" cy="424.9" r="4.6"/><circle cx="669.3" cy="508.3" r="4.6"/><circle cx="687" cy="411.1" r="4.6"/><circle cx="683.1" cy="321.5" r="4.6"/><circle cx="682.8" cy="356.4" r="4.6"/><circle cx="684.3" cy="431" r="4.6"/><circle cx="720.9" cy="522.3" r="4.6"/><circle cx="674.2" cy="517.3" r="4.6"/><circle cx="722.9" cy="525.4" r="4.6"/><circle cx="678.5" cy="467" r="4.6"/><circle cx="689.3" cy="476.8" r="4.6"/><circle cx="672.6" cy="404.8" r="4.6"/><circle cx="683.7" cy="571.6" r="4.6"/><circle cx="687.6" cy="508.7" r="4.6"/><circle cx="722" cy="554.8" r="4.6"/><circle cx="679.1" cy="456.1" r="4.6"/><circle cx="692.4" cy="372.6" r="4.6"/><circle cx="677.4" cy="580.2" r="4.6"/><circle cx="682.2" cy="585.6" r="4.6"/><circle cx="671.4" cy="580.7" r="4.6"/><circle cx="681.5" cy="425.2" r="4.6"/><circle cx="693.4" cy="384.3" r="4.6"/><circle cx="702.2" cy="388.2" r="4.6"/><circle cx="681.9" cy="553" r="4.6"/><circle cx="720" cy="590" r="4.6"/><circle cx="738.3" cy="351.9" r="4.6"/><circle cx="748.4" cy="507.1" r="4.6"/><circle cx="694.4" cy="607.8" r="4.6"/><circle cx="681.3" cy="453.1" r="4.6"/><circle cx="676.9" cy="428.6" r="4.6"/><circle cx="670.3" cy="439" r="4.6"/><circle cx="722.9" cy="259.8" r="4.6"/><circle cx="702.4" cy="412" r="4.6"/><circle cx="687" cy="604.3" r="4.6"/><circle cx="676.2" cy="421.6" r="4.6"/><circle cx="703.3" cy="587.6" r="4.6"/><circle cx="684.1" cy="421.2" r="4.6"/><circle cx="752" cy="298.4" r="4.6"/><circle cx="675.4" cy="567.4" r="4.6"/><circle cx="687.1" cy="457.8" r="4.6"/><circle cx="752" cy="276.8" r="4.6"/><circle cx="701.3" cy="329.9" r="4.6"/><circle cx="674.4" cy="457.4" r="4.6"/><circle cx="701.1" cy="586.7" r="4.6"/><circle cx="671.4" cy="425.7" r="4.6"/><circle cx="704.7" cy="578.2" r="4.6"/><circle cx="736.5" cy="388.8" r="4.6"/><circle cx="679.6" cy="582.2" r="4.6"/><circle cx="700.7" cy="564.2" r="4.6"/><circle cx="726.8" cy="460.4" r="4.6"/><circle cx="766.3" cy="322.2" r="4.6"/><circle cx="673.7" cy="372.6" r="4.6"/><circle cx="678.8" cy="572.6" r="4.6"/><circle cx="688.8" cy="510.5" r="4.6"/><circle cx="740" cy="431.5" r="4.6"/><circle cx="695.5" cy="506.8" r="4.6"/><circle cx="735.8" cy="596.8" r="4.6"/><circle cx="714.7" cy="315.9" r="4.6"/><circle cx="856" cy="536.5" r="4.6"/><circle cx="671.6" cy="589.8" r="4.6"/><circle cx="753.9" cy="372.9" r="4.6"/><circle cx="679.7" cy="448.3" r="4.6"/><circle cx="682.8" cy="386.2" r="4.6"/><circle cx="708.1" cy="330.8" r="4.6"/><circle cx="689.5" cy="475.5" r="4.6"/><circle cx="694.8" cy="593.5" r="4.6"/><circle cx="680.5" cy="577.3" r="4.6"/><circle cx="677.1" cy="431.7" r="4.6"/><circle cx="699" cy="394.4" r="4.6"/><circle cx="751.6" cy="303.6" r="4.6"/><circle cx="671.8" cy="498" r="4.6"/><circle cx="701.9" cy="413.1" r="4.6"/><circle cx="691.3" cy="549.2" r="4.6"/><circle cx="713.3" cy="432.9" r="4.6"/><circle cx="678.3" cy="549.1" r="4.6"/><circle cx="682.4" cy="487.8" r="4.6"/><circle cx="686.9" cy="337.9" r="4.6"/><circle cx="675.9" cy="580.5" r="4.6"/><circle cx="701.4" cy="293.7" r="4.6"/><circle cx="690.2" cy="370.9" r="4.6"/><circle cx="701" cy="483.6" r="4.6"/><circle cx="734.4" cy="516" r="4.6"/><circle cx="693.5" cy="542.3" r="4.6"/><circle cx="693.8" cy="466" r="4.6"/><circle cx="718.1" cy="502.8" r="4.6"/><circle cx="684.3" cy="577.5" r="4.6"/><circle cx="683.7" cy="476.1" r="4.6"/><circle cx="681.7" cy="410.7" r="4.6"/><circle cx="699.9" cy="462.6" r="4.6"/><circle cx="677.8" cy="294.8" r="4.6"/><circle cx="690.9" cy="582.4" r="4.6"/><circle cx="733.8" cy="600.6" r="4.6"/><circle cx="690.1" cy="551.5" r="4.6"/><circle cx="677.7" cy="536.2" r="4.6"/><circle cx="677.1" cy="436.5" r="4.6"/><circle cx="740.3" cy="529.6" r="4.6"/><circle cx="698.6" cy="426.6" r="4.6"/><circle cx="686.1" cy="563.3" r="4.6"/><circle cx="684" cy="351.7" r="4.6"/><circle cx="670.5" cy="478.1" r="4.6"/><circle cx="757.4" cy="335.9" r="4.6"/><circle cx="735" cy="340" r="4.6"/><circle cx="686.9" cy="362.4" r="4.6"/><circle cx="686.4" cy="548.1" r="4.6"/><circle cx="682.4" cy="533.2" r="4.6"/><circle cx="682.6" cy="584.7" r="4.6"/><circle cx="680.5" cy="439.9" r="4.6"/><circle cx="716.8" cy="312.3" r="4.6"/><circle cx="669.5" cy="342.4" r="4.6"/><circle cx="670.2" cy="617" r="4.6"/><circle cx="679.3" cy="515.4" r="4.6"/><circle cx="680.5" cy="431.5" r="4.6"/><circle cx="776.4" cy="571.7" r="4.6"/><circle cx="724" cy="445.5" r="4.6"/><circle cx="672.8" cy="405.4" r="4.6"/><circle cx="680.4" cy="533.5" r="4.6"/><circle cx="684.4" cy="481.7" r="4.6"/><circle cx="690.9" cy="598.6" r="4.6"/><circle cx="675.1" cy="594.7" r="4.6"/><circle cx="686.8" cy="393.5" r="4.6"/><circle cx="680.2" cy="475.8" r="4.6"/><circle cx="692.4" cy="463.9" r="4.6"/><circle cx="670" cy="402" r="4.6"/><circle cx="670.4" cy="541.1" r="4.6"/><circle cx="772.9" cy="162" r="4.6"/><circle cx="678.8" cy="492.4" r="4.6"/><circle cx="683.7" cy="410.1" r="4.6"/><circle cx="710.7" cy="275.2" r="4.6"/><circle cx="672.7" cy="607.1" r="4.6"/><circle cx="672.4" cy="375.4" r="4.6"/><circle cx="674.9" cy="428.2" r="4.6"/><circle cx="676.2" cy="608" r="4.6"/><circle cx="690" cy="295.4" r="4.6"/><circle cx="687.5" cy="373.1" r="4.6"/><circle cx="704.8" cy="503.5" r="4.6"/><circle cx="699.7" cy="408.5" r="4.6"/><circle cx="674.4" cy="306.9" r="4.6"/><circle cx="729.2" cy="540.8" r="4.6"/><circle cx="701.6" cy="480.5" r="4.6"/><circle cx="687.3" cy="451.1" r="4.6"/><circle cx="690" cy="551.3" r="4.6"/><circle cx="686.2" cy="508.3" r="4.6"/><circle cx="671.1" cy="599.4" r="4.6"/><circle cx="672.4" cy="420.1" r="4.6"/><circle cx="686.4" cy="575.7" r="4.6"/><circle cx="674.2" cy="492.9" r="4.6"/><circle cx="670.3" cy="380.9" r="4.6"/><circle cx="730.5" cy="594.6" r="4.6"/><circle cx="725.7" cy="491.6" r="4.6"/><circle cx="695.7" cy="469" r="4.6"/><circle cx="685.7" cy="562" r="4.6"/><circle cx="689.1" cy="522.5" r="4.6"/><circle cx="706.5" cy="606.2" r="4.6"/><circle cx="677.1" cy="429.2" r="4.6"/><circle cx="674.7" cy="522.1" r="4.6"/><circle cx="726.8" cy="539.2" r="4.6"/><circle cx="677.3" cy="446.3" r="4.6"/><circle cx="679.4" cy="496.2" r="4.6"/><circle cx="683.1" cy="369.4" r="4.6"/><circle cx="712" cy="310" r="4.6"/><circle cx="669.7" cy="518.5" r="4.6"/><circle cx="706.1" cy="607.3" r="4.6"/><circle cx="746.6" cy="358.9" r="4.6"/><circle cx="690.7" cy="488.2" r="4.6"/><circle cx="688.8" cy="576" r="4.6"/><circle cx="676.1" cy="378.6" r="4.6"/><circle cx="694.9" cy="557.9" r="4.6"/><circle cx="712.2" cy="428.1" r="4.6"/><circle cx="686.8" cy="531.3" r="4.6"/><circle cx="683.7" cy="533.8" r="4.6"/><circle cx="677.3" cy="534.1" r="4.6"/><circle cx="685.6" cy="566" r="4.6"/><circle cx="675.8" cy="469.8" r="4.6"/><circle cx="672.2" cy="486.1" r="4.6"/><circle cx="677.4" cy="466.2" r="4.6"/><circle cx="700.6" cy="464.8" r="4.6"/><circle cx="672.1" cy="491.8" r="4.6"/><circle cx="690" cy="409.8" r="4.6"/><circle cx="682.2" cy="426.6" r="4.6"/><circle cx="688.9" cy="593.7" r="4.6"/><circle cx="686.8" cy="446.5" r="4.6"/><circle cx="685.4" cy="493.9" r="4.6"/><circle cx="745" cy="300" r="4.6"/><circle cx="688.2" cy="399.2" r="4.6"/><circle cx="695.1" cy="278.6" r="4.6"/><circle cx="715.4" cy="383.3" r="4.6"/><circle cx="686.9" cy="442.5" r="4.6"/><circle cx="690.7" cy="410.1" r="4.6"/><circle cx="797.4" cy="600.6" r="4.6"/><circle cx="689.9" cy="547.8" r="4.6"/><circle cx="709.7" cy="444.2" r="4.6"/><circle cx="670.7" cy="412.8" r="4.6"/><circle cx="670.4" cy="595.1" r="4.6"/><circle cx="677" cy="538.3" r="4.6"/><circle cx="704.4" cy="193" r="4.6"/><circle cx="752.8" cy="85.9" r="4.6"/><circle cx="713" cy="399.7" r="4.6"/><circle cx="674.7" cy="454.1" r="4.6"/><circle cx="679.3" cy="363.3" r="4.6"/><circle cx="686.7" cy="530.1" r="4.6"/><circle cx="711.6" cy="378.4" r="4.6"/><circle cx="782.7" cy="347.9" r="4.6"/><circle cx="679.7" cy="391.1" r="4.6"/><circle cx="670.7" cy="396.1" r="4.6"/><circle cx="678.7" cy="353.2" r="4.6"/><circle cx="776.8" cy="518.4" r="4.6"/><circle cx="677.5" cy="566.6" r="4.6"/><circle cx="677.6" cy="403.2" r="4.6"/><circle cx="681.9" cy="567.8" r="4.6"/><circle cx="676.2" cy="514.4" r="4.6"/><circle cx="677.4" cy="546.9" r="4.6"/><circle cx="683" cy="387" r="4.6"/><circle cx="683" cy="545.1" r="4.6"/><circle cx="672.9" cy="317.2" r="4.6"/><circle cx="828.9" cy="502.2" r="4.6"/><circle cx="680" cy="409.1" r="4.6"/><circle cx="674.9" cy="318.3" r="4.6"/><circle cx="681.7" cy="358.2" r="4.6"/><circle cx="768" cy="440" r="4.6"/><circle cx="688.7" cy="428.3" r="4.6"/><circle cx="680.4" cy="399.7" r="4.6"/><circle cx="705.1" cy="370.9" r="4.6"/><circle cx="671.4" cy="476.9" r="4.6"/><circle cx="673.1" cy="599" r="4.6"/><circle cx="692" cy="405.1" r="4.6"/><circle cx="675.9" cy="455.8" r="4.6"/><circle cx="685.9" cy="471.1" r="4.6"/><circle cx="677.4" cy="568.6" r="4.6"/><circle cx="677.5" cy="516.1" r="4.6"/><circle cx="670.3" cy="521.2" r="4.6"/><circle cx="674.8" cy="505.6" r="4.6"/><circle cx="694.2" cy="595.2" r="4.6"/><circle cx="671.5" cy="526.1" r="4.6"/>
</g>
<path d="M518.6 669.3V23M669.2 669.3V23" stroke="#555" stroke-width="4.2" fill="none" stroke-dasharray="4.25 12.75 17 12.75"/>
<path d="M165 630.6H903" stroke="#555" stroke-width="4.2" fill="none" stroke-dasharray="4.25 12.75 17 12.75"/>
</g>
<rect x="206.7" y="34.5" width="98.3" height="25.1" rx="3" fill="#fff" fill-opacity="0.75" stroke="#94c2ce" stroke-width="1.5"/>
<text x="213.7" y="53.6" font-size="17.5" fill="#86b1bd" textLength="72.3" lengthAdjust="spacingAndGlyphs">SERPINA3</text>
<line x1="333" y1="144.4" x2="331.5" y2="146.5" stroke="#111" stroke-width="2.4"/>
<rect x="321.1" y="119.9" width="57.5" height="24.5" rx="3" fill="#fff" fill-opacity="0.75" stroke="#94c2ce" stroke-width="1.5"/>
<text x="328.4" y="138.4" font-size="17.5" fill="#86b1bd" textLength="39.1" lengthAdjust="spacingAndGlyphs">FCN3</text>
<line x1="399.4" y1="229.5" x2="399.4" y2="231.8" stroke="#111" stroke-width="2.4"/>
<rect x="368.6" y="205.8" width="91.7" height="23.7" rx="3" fill="#fff" fill-opacity="0.75" stroke="#94c2ce" stroke-width="1.5"/>
<text x="376" y="223.5" font-size="17.5" fill="#86b1bd" textLength="68.3" lengthAdjust="spacingAndGlyphs">SLCO4A1</text>
<line x1="315" y1="253.4" x2="323.1" y2="261.8" stroke="#111" stroke-width="3.4"/>
<rect x="273.5" y="227.9" width="71.3" height="24.4" rx="3" fill="#fff" fill-opacity="0.75" stroke="#94c2ce" stroke-width="1.5"/>
<text x="280.2" y="246.3" font-size="17.5" fill="#86b1bd" textLength="47.6" lengthAdjust="spacingAndGlyphs">IL1RL1</text>
<rect x="318.4" y="264.7" width="64.9" height="24.4" rx="3" fill="#fff" fill-opacity="0.75" stroke="#94c2ce" stroke-width="1.5"/>
<text x="323.7" y="283.1" font-size="17.5" fill="#86b1bd" textLength="51.6" lengthAdjust="spacingAndGlyphs">CD163</text>
<line x1="349.9" y1="341.3" x2="349.9" y2="343.2" stroke="#111" stroke-width="2.4"/>
<rect x="302.3" y="317" width="64" height="24.3" rx="3" fill="#fff" fill-opacity="0.75" stroke="#94c2ce" stroke-width="1.5"/>
<text x="309.7" y="335.3" font-size="17.5" fill="#86b1bd" textLength="45.5" lengthAdjust="spacingAndGlyphs">MYH6</text>
<line x1="408.1" y1="318.3" x2="408.1" y2="316.3" stroke="#111" stroke-width="2.4"/>
<rect x="390.7" y="318.3" width="65.6" height="24.4" rx="3" fill="#fff" fill-opacity="0.75" stroke="#94c2ce" stroke-width="1.5"/>
<text x="398" y="336.7" font-size="17.5" fill="#86b1bd" textLength="44.3" lengthAdjust="spacingAndGlyphs">VSIG4</text>
<line x1="388.7" y1="360.8" x2="388.7" y2="358.9" stroke="#111" stroke-width="2.4"/>
<rect x="370" y="360.8" width="68.2" height="24.7" rx="3" fill="#fff" fill-opacity="0.75" stroke="#94c2ce" stroke-width="1.5"/>
<text x="377.3" y="379.5" font-size="17.5" fill="#86b1bd" textLength="42.9" lengthAdjust="spacingAndGlyphs">LYVE1</text>
<line x1="303.7" y1="382.8" x2="303.7" y2="380.9" stroke="#111" stroke-width="2.4"/>
<rect x="242.7" y="382.8" width="91.8" height="24.8" rx="3" fill="#fff" fill-opacity="0.75" stroke="#94c2ce" stroke-width="1.5"/>
<text x="250.1" y="401.6" font-size="17.5" fill="#86b1bd" textLength="70.3" lengthAdjust="spacingAndGlyphs">PLA2G2A</text>
<line x1="362" y1="508.3" x2="362" y2="506.3" stroke="#111" stroke-width="2.4"/>
<rect x="298" y="508.3" width="96.8" height="24.2" rx="3" fill="#fff" fill-opacity="0.75" stroke="#94c2ce" stroke-width="1.5"/>
<text x="304.7" y="526.5" font-size="17.5" fill="#86b1bd" textLength="70.6" lengthAdjust="spacingAndGlyphs">SERPINE1</text>
<line x1="773.5" y1="227.7" x2="773.5" y2="229.8" stroke="#111" stroke-width="2.4"/>
<rect x="731" y="203.8" width="53.3" height="23.9" rx="3" fill="#fff" fill-opacity="0.75" stroke="#efd46e" stroke-width="1.5"/>
<text x="738" y="221.7" font-size="17.5" fill="#e2c76a" textLength="34" lengthAdjust="spacingAndGlyphs">LUM</text>
<line x1="861.5" y1="233.7" x2="861.5" y2="235.8" stroke="#111" stroke-width="2.4"/>
<rect x="817" y="209.8" width="58.6" height="23.9" rx="3" fill="#fff" fill-opacity="0.75" stroke="#efd46e" stroke-width="1.5"/>
<text x="824.2" y="227.7" font-size="17.5" fill="#e2c76a" textLength="39.8" lengthAdjust="spacingAndGlyphs">ASPN</text>
<rect x="808.2" y="251.7" width="57.6" height="23.3" rx="3" fill="#fff" fill-opacity="0.75" stroke="#efd46e" stroke-width="1.5"/>
<text x="814.8" y="269" font-size="17.5" fill="#e2c76a" textLength="38.7" lengthAdjust="spacingAndGlyphs">FRZB</text>
<line x1="786.5" y1="303.3" x2="786.5" y2="305.4" stroke="#111" stroke-width="2.4"/>
<rect x="743.6" y="279.4" width="51.6" height="23.9" rx="3" fill="#fff" fill-opacity="0.75" stroke="#efd46e" stroke-width="1.5"/>
<text x="749.8" y="297.3" font-size="17.5" fill="#e2c76a" textLength="35.7" lengthAdjust="spacingAndGlyphs">OGN</text>
<rect x="832.2" y="297.9" width="64.6" height="23.3" rx="3" fill="#fff" fill-opacity="0.75" stroke="#efd46e" stroke-width="1.5"/>
<text x="838.8" y="315.2" font-size="17.5" fill="#e2c76a" textLength="46.9" lengthAdjust="spacingAndGlyphs">SFRP4</text>
<line x1="774.7" y1="339.7" x2="774.7" y2="341.8" stroke="#111" stroke-width="2.4"/>
<rect x="695.7" y="315.8" width="90.3" height="23.9" rx="3" fill="#fff" fill-opacity="0.75" stroke="#efd46e" stroke-width="1.5"/>
<text x="701.7" y="333.7" font-size="17.5" fill="#e2c76a" textLength="70.3" lengthAdjust="spacingAndGlyphs">COL14A1</text>
<line x1="771.5" y1="391.3" x2="771.5" y2="389.2" stroke="#111" stroke-width="2.4"/>
<rect x="718.6" y="391.3" width="76.1" height="24.5" rx="3" fill="#fff" fill-opacity="0.75" stroke="#efd46e" stroke-width="1.5"/>
<text x="725.2" y="409.8" font-size="17.5" fill="#e2c76a" textLength="52.7" lengthAdjust="spacingAndGlyphs">MXRA5</text>
<line x1="821.2" y1="494" x2="821.2" y2="496.2" stroke="#111" stroke-width="2.4"/>
<rect x="780.9" y="470.2" width="50" height="23.8" rx="3" fill="#fff" fill-opacity="0.75" stroke="#efd46e" stroke-width="1.5"/>
<text x="788.4" y="488" font-size="17.5" fill="#e2c76a" textLength="30.4" lengthAdjust="spacingAndGlyphs">HBB</text>
<line x1="863" y1="544.8" x2="863" y2="542.7" stroke="#111" stroke-width="2.4"/>
<rect x="839.5" y="544.8" width="57.5" height="24.2" rx="3" fill="#fff" fill-opacity="0.75" stroke="#efd46e" stroke-width="1.5"/>
<text x="847" y="563" font-size="17.5" fill="#e2c76a" textLength="39.8" lengthAdjust="spacingAndGlyphs">NPPA</text>
<rect x="782.9" y="569.4" width="74.2" height="24.6" rx="3" fill="#fff" fill-opacity="0.75" stroke="#efd46e" stroke-width="1.5"/>
<text x="790.3" y="588" font-size="17.5" fill="#e2c76a" textLength="48.8" lengthAdjust="spacingAndGlyphs">EIF1AY</text>
<rect x="165" y="23" width="738" height="646.3" fill="none" stroke="#4d4d4d" stroke-width="2.2"/>
<line x1="159.5" y1="640.5" x2="165" y2="640.5" stroke="#4d4d4d" stroke-width="2.2"/>
<text x="155.5" y="649" font-size="23.5" fill="#1a1a1a" text-anchor="end">0</text>
<line x1="159.5" y1="480.5" x2="165" y2="480.5" stroke="#4d4d4d" stroke-width="2.2"/>
<text x="155.5" y="489" font-size="23.5" fill="#1a1a1a" text-anchor="end">20</text>
<line x1="159.5" y1="320.5" x2="165" y2="320.5" stroke="#4d4d4d" stroke-width="2.2"/>
<text x="155.5" y="329" font-size="23.5" fill="#1a1a1a" text-anchor="end">40</text>
<line x1="159.5" y1="160.5" x2="165" y2="160.5" stroke="#4d4d4d" stroke-width="2.2"/>
<text x="155.5" y="169" font-size="23.5" fill="#1a1a1a" text-anchor="end">60</text>
<line x1="292.5" y1="669.3" x2="292.5" y2="674.8" stroke="#4d4d4d" stroke-width="2.2"/>
<text x="292.5" y="697" font-size="23.5" fill="#1a1a1a" text-anchor="middle">−2</text>
<line x1="593.9" y1="669.3" x2="593.9" y2="674.8" stroke="#4d4d4d" stroke-width="2.2"/>
<text x="593.9" y="697" font-size="23.5" fill="#1a1a1a" text-anchor="middle">0</text>
<line x1="895.2" y1="669.3" x2="895.2" y2="674.8" stroke="#4d4d4d" stroke-width="2.2"/>
<text x="895.2" y="697" font-size="23.5" fill="#1a1a1a" text-anchor="middle">2</text>
<text x="554.5" y="726.3" font-size="28" text-anchor="middle" textLength="239" lengthAdjust="spacingAndGlyphs">log2(Fold Change)</text>
<text transform="translate(119 329.2) rotate(-90)" font-size="28" text-anchor="middle" textLength="208" lengthAdjust="spacingAndGlyphs">−log10 (P.Value)</text>
<circle cx="938.7" cy="316.4" r="5" fill="#52a6bc" fill-opacity="0.4"/>
<circle cx="938.7" cy="346.2" r="5" fill="#a9a9a9" fill-opacity="0.4"/>
<circle cx="938.7" cy="375.7" r="5" fill="#f2c230" fill-opacity="0.4"/>
<text x="965" y="325" font-size="24.5" textLength="67" lengthAdjust="spacingAndGlyphs">DOWN</text>
<text x="965" y="354.8" font-size="24.5" textLength="45" lengthAdjust="spacingAndGlyphs">NOT</text>
<text x="965" y="384.2" font-size="24.5" textLength="31" lengthAdjust="spacingAndGlyphs">UP</text>
</g>
<g id="pb">
<text x="985.4" y="68.4" font-size="66" fill="#231815" textLength="32.4" lengthAdjust="spacingAndGlyphs">B</text>
<rect x="1162.3" y="14.7" width="238.4" height="27.2" fill="#1f4e9f"/>
<rect x="1400.7" y="14.7" width="311.8" height="27.2" fill="#e4281f"/>
<text x="1719" y="35.8" font-size="23" textLength="68.3" lengthAdjust="spacingAndGlyphs">Group</text>
<g transform="translate(1162.3 53.2) scale(2.03778 33.1)" shape-rendering="crispEdges">
<path fill="#4ea8c0" d="M30 1h1v1h-1zM105 1h1v1h-1zM0 2h1v1h-1zM28 5h1v1h-1zM32 5h1v1h-1zM37 5h1v1h-1zM70 5h1v1h-1zM0 6h1v1h-1zM30 6h1v1h-1zM109 6h1v1h-1zM4 7h1v1h-1zM9 7h1v1h-1zM163 10h1v1h-1zM163 11h1v1h-1zM186 11h1v1h-1zM239 11h1v1h-1zM186 12h1v1h-1zM163 13h1v1h-1zM163 14h1v1h-1zM120 15h1v1h-1zM123 15h1v1h-1zM163 17h1v1h-1zM186 17h1v1h-1zM195 17h1v1h-1zM154 18h1v1h-1zM159 19h1v1h-1z"/>
<path fill="#5baec5" d="M113 0h1v1h-1zM4 1h1v1h-1zM113 1h1v1h-1zM9 2h1v1h-1zM40 2h1v1h-1zM104 2h1v1h-1zM28 4h1v1h-1zM8 5h2v1h-2zM100 6h1v1h-1zM113 7h1v1h-1zM235 12h1v1h-1zM249 12h1v1h-1zM125 13h1v1h-1zM177 14h1v1h-1zM186 16h1v1h-1zM163 18h1v1h-1zM163 19h1v1h-1z"/>
<path fill="#68b5c9" d="M8 0h1v1h-1zM28 0h1v1h-1zM34 0h1v1h-1zM9 1h1v1h-1zM18 1h1v1h-1zM93 1h1v1h-1zM100 1h1v1h-1zM34 2h1v1h-1zM9 3h1v1h-1zM30 4h1v1h-1zM70 4h1v1h-1zM105 4h1v1h-1zM109 4h1v1h-1zM45 5h1v1h-1zM104 5h1v1h-1zM113 5h1v1h-1zM32 6h1v1h-1zM0 7h1v1h-1zM21 7h1v1h-1zM30 7h1v1h-1zM69 7h1v1h-1zM28 8h1v1h-1zM104 8h1v1h-1zM0 9h1v1h-1zM120 10h1v1h-1zM186 10h1v1h-1zM120 11h1v1h-1zM207 11h1v1h-1zM129 12h1v1h-1zM120 13h1v1h-1zM218 14h1v1h-1zM226 14h1v1h-1zM154 15h1v1h-1zM215 15h2v1h-2zM125 16h1v1h-1zM174 16h1v1h-1zM123 17h1v1h-1zM148 17h1v1h-1zM208 18h1v1h-1zM249 18h1v1h-1z"/>
<path fill="#75bbce" d="M8 1h1v1h-1zM39 1h1v1h-1zM59 1h1v1h-1zM82 1h1v1h-1zM104 1h1v1h-1zM1 2h1v1h-1zM19 2h1v1h-1zM192 2h1v1h-1zM19 3h1v1h-1zM87 3h1v1h-1zM100 3h1v1h-1zM109 3h1v1h-1zM4 4h1v1h-1zM22 4h1v1h-1zM32 4h1v1h-1zM4 5h1v1h-1zM19 5h1v1h-1zM69 5h1v1h-1zM82 5h1v1h-1zM100 5h1v1h-1zM105 5h1v1h-1zM8 6h1v1h-1zM40 6h1v1h-1zM47 6h1v1h-1zM59 6h1v1h-1zM104 6h1v1h-1zM17 7h1v1h-1zM28 7h1v1h-1zM32 7h1v1h-1zM53 7h1v1h-1zM70 7h1v1h-1zM53 8h1v1h-1zM56 8h1v1h-1zM146 8h1v1h-1zM109 9h1v1h-1zM147 10h1v1h-1zM184 10h1v1h-1zM195 10h2v1h-2zM262 10h1v1h-1zM170 11h1v1h-1zM193 11h1v1h-1zM120 12h1v1h-1zM154 12h1v1h-1zM224 12h1v1h-1zM250 12h1v1h-1zM130 13h1v1h-1zM143 13h1v1h-1zM164 13h1v1h-1zM174 13h1v1h-1zM177 13h1v1h-1zM224 13h1v1h-1zM249 13h1v1h-1zM147 14h1v1h-1zM154 14h1v1h-1zM173 14h1v1h-1zM184 14h1v1h-1zM235 14h1v1h-1zM118 15h1v1h-1zM163 16h1v1h-1zM194 16h1v1h-1zM196 16h1v1h-1zM209 16h1v1h-1zM215 16h1v1h-1zM210 17h1v1h-1zM220 17h1v1h-1zM139 18h1v1h-1zM184 18h1v1h-1zM186 18h1v1h-1zM224 18h1v1h-1zM254 18h1v1h-1zM262 18h1v1h-1zM119 19h1v1h-1zM123 19h1v1h-1zM148 19h1v1h-1zM168 19h1v1h-1zM186 19h1v1h-1zM199 19h1v1h-1zM262 19h1v1h-1z"/>
<path fill="#82c2d3" d="M17 0h1v1h-1zM27 0h1v1h-1zM39 0h1v1h-1zM42 0h1v1h-1zM0 1h1v1h-1zM32 1h1v1h-1zM63 1h1v1h-1zM101 1h1v1h-1zM30 2h1v1h-1zM47 2h1v1h-1zM69 2h1v1h-1zM87 2h1v1h-1zM100 2h1v1h-1zM23 3h1v1h-1zM28 3h1v1h-1zM32 3h1v1h-1zM39 3h1v1h-1zM47 3h1v1h-1zM66 3h1v1h-1zM69 3h1v1h-1zM113 3h1v1h-1zM0 4h1v1h-1zM23 4h1v1h-1zM47 4h1v1h-1zM113 4h1v1h-1zM176 4h1v1h-1zM47 5h1v1h-1zM49 5h1v1h-1zM53 5h1v1h-1zM109 5h1v1h-1zM4 6h1v1h-1zM28 6h1v1h-1zM31 6h1v1h-1zM64 6h1v1h-1zM82 6h1v1h-1zM87 6h1v1h-1zM110 6h1v1h-1zM112 6h1v1h-1zM60 7h1v1h-1zM87 7h1v1h-1zM4 8h1v1h-1zM69 8h1v1h-1zM28 9h1v1h-1zM32 9h1v1h-1zM82 9h1v1h-1zM134 9h1v1h-1zM162 9h1v1h-1zM176 9h1v1h-1zM129 10h1v1h-1zM154 10h1v1h-1zM193 10h2v1h-2zM123 11h1v1h-1zM125 11h1v1h-1zM158 11h1v1h-1zM177 11h1v1h-1zM224 11h1v1h-1zM158 12h1v1h-1zM164 12h1v1h-1zM184 12h1v1h-1zM218 12h1v1h-1zM154 13h1v1h-1zM158 13h1v1h-1zM168 13h1v1h-1zM173 13h1v1h-1zM193 13h2v1h-2zM196 13h1v1h-1zM268 13h1v1h-1zM186 14h1v1h-1zM193 14h1v1h-1zM130 15h1v1h-1zM164 15h1v1h-1zM193 15h1v1h-1zM213 15h1v1h-1zM231 15h1v1h-1zM240 15h1v1h-1zM249 15h1v1h-1zM268 15h1v1h-1zM120 16h1v1h-1zM154 16h1v1h-1zM173 16h1v1h-1zM128 17h1v1h-1zM159 17h1v1h-1zM165 17h1v1h-1zM185 17h1v1h-1zM217 17h1v1h-1zM254 17h1v1h-1zM125 18h1v1h-1zM129 18h1v1h-1zM164 18h1v1h-1zM174 18h1v1h-1zM194 18h1v1h-1zM244 18h1v1h-1zM264 18h1v1h-1zM268 18h1v1h-1zM125 19h1v1h-1zM128 19h1v1h-1zM213 19h1v1h-1z"/>
<path fill="#90c8d7" d="M4 0h1v1h-1zM18 0h1v1h-1zM69 0h1v1h-1zM101 0h1v1h-1zM203 0h1v1h-1zM219 0h1v1h-1zM28 1h1v1h-1zM33 1h1v1h-1zM44 1h1v1h-1zM51 1h1v1h-1zM71 1h1v1h-1zM112 1h1v1h-1zM171 1h1v1h-1zM14 2h1v1h-1zM53 2h1v1h-1zM109 2h1v1h-1zM113 2h1v1h-1zM13 3h1v1h-1zM22 3h1v1h-1zM94 3h1v1h-1zM104 3h1v1h-1zM17 4h1v1h-1zM93 4h1v1h-1zM17 5h2v1h-2zM22 5h1v1h-1zM59 5h1v1h-1zM71 5h1v1h-1zM84 5h1v1h-1zM157 5h1v1h-1zM9 6h1v1h-1zM22 6h1v1h-1zM34 6h1v1h-1zM49 6h1v1h-1zM69 6h2v1h-2zM75 6h1v1h-1zM81 6h1v1h-1zM113 6h1v1h-1zM14 7h1v1h-1zM19 7h1v1h-1zM55 7h1v1h-1zM93 7h1v1h-1zM100 7h1v1h-1zM104 7h1v1h-1zM112 7h1v1h-1zM263 7h1v1h-1zM74 8h1v1h-1zM112 8h1v1h-1zM167 8h1v1h-1zM179 8h1v1h-1zM43 9h1v1h-1zM49 9h1v1h-1zM53 9h1v1h-1zM61 9h1v1h-1zM104 9h1v1h-1zM118 9h1v1h-1zM265 9h1v1h-1zM123 10h1v1h-1zM159 10h1v1h-1zM164 10h1v1h-1zM178 10h1v1h-1zM256 10h1v1h-1zM267 10h1v1h-1zM148 11h1v1h-1zM154 11h1v1h-1zM174 11h1v1h-1zM195 11h1v1h-1zM226 11h1v1h-1zM249 11h2v1h-2zM267 11h1v1h-1zM150 12h1v1h-1zM155 12h1v1h-1zM163 12h1v1h-1zM177 12h1v1h-1zM199 12h1v1h-1zM208 12h1v1h-1zM269 12h1v1h-1zM115 13h1v1h-1zM123 13h1v1h-1zM147 13h1v1h-1zM195 13h1v1h-1zM231 13h1v1h-1zM240 13h1v1h-1zM251 13h1v1h-1zM123 14h1v1h-1zM125 14h1v1h-1zM129 14h1v1h-1zM153 14h1v1h-1zM158 14h1v1h-1zM178 14h1v1h-1zM195 14h1v1h-1zM208 14h1v1h-1zM216 14h2v1h-2zM240 14h1v1h-1zM250 14h1v1h-1zM262 14h1v1h-1zM121 15h1v1h-1zM136 15h1v1h-1zM138 15h1v1h-1zM174 15h1v1h-1zM194 15h1v1h-1zM210 15h1v1h-1zM218 15h1v1h-1zM220 15h1v1h-1zM230 15h1v1h-1zM235 15h1v1h-1zM165 16h1v1h-1zM195 16h1v1h-1zM213 16h1v1h-1zM220 16h1v1h-1zM225 16h1v1h-1zM240 16h1v1h-1zM251 16h1v1h-1zM120 17h1v1h-1zM125 17h1v1h-1zM150 17h1v1h-1zM174 17h1v1h-1zM218 17h1v1h-1zM225 17h1v1h-1zM235 17h1v1h-1zM240 17h1v1h-1zM268 17h1v1h-1zM147 18h1v1h-1zM198 18h1v1h-1zM210 18h1v1h-1zM239 18h2v1h-2zM257 18h1v1h-1zM154 19h1v1h-1zM174 19h1v1h-1zM220 19h1v1h-1zM249 19h1v1h-1z"/>
<path fill="#9dcfdc" d="M0 0h1v1h-1zM5 0h1v1h-1zM21 0h1v1h-1zM70 0h1v1h-1zM162 0h1v1h-1zM191 0h1v1h-1zM229 0h1v1h-1zM263 0h1v1h-1zM3 1h1v1h-1zM49 1h1v1h-1zM55 1h1v1h-1zM21 2h1v1h-1zM28 2h1v1h-1zM32 2h1v1h-1zM39 2h1v1h-1zM43 2h1v1h-1zM45 2h1v1h-1zM49 2h1v1h-1zM70 2h2v1h-2zM91 2h1v1h-1zM229 2h1v1h-1zM0 3h1v1h-1zM4 3h1v1h-1zM18 3h1v1h-1zM24 3h1v1h-1zM31 3h1v1h-1zM40 3h1v1h-1zM59 3h1v1h-1zM76 3h1v1h-1zM79 3h1v1h-1zM93 3h1v1h-1zM103 3h1v1h-1zM1 4h1v1h-1zM3 4h1v1h-1zM9 4h1v1h-1zM18 4h1v1h-1zM59 4h1v1h-1zM65 4h1v1h-1zM100 4h1v1h-1zM104 4h1v1h-1zM106 4h1v1h-1zM111 4h1v1h-1zM229 4h1v1h-1zM0 5h1v1h-1zM5 5h1v1h-1zM23 5h1v1h-1zM30 5h1v1h-1zM34 5h1v1h-1zM38 5h1v1h-1zM42 5h1v1h-1zM5 6h1v1h-1zM18 6h2v1h-2zM37 6h1v1h-1zM55 6h1v1h-1zM94 6h1v1h-1zM96 6h1v1h-1zM105 6h1v1h-1zM3 7h1v1h-1zM23 7h1v1h-1zM33 7h1v1h-1zM65 7h1v1h-1zM76 7h1v1h-1zM105 7h1v1h-1zM229 7h1v1h-1zM5 8h1v1h-1zM8 8h1v1h-1zM13 8h1v1h-1zM19 8h1v1h-1zM30 8h1v1h-1zM51 8h1v1h-1zM71 8h1v1h-1zM81 8h1v1h-1zM84 8h1v1h-1zM156 8h1v1h-1zM227 8h1v1h-1zM3 9h1v1h-1zM40 9h1v1h-1zM55 9h1v1h-1zM36 10h1v1h-1zM128 10h1v1h-1zM131 10h1v1h-1zM136 10h1v1h-1zM143 10h1v1h-1zM158 10h1v1h-1zM210 10h1v1h-1zM218 10h1v1h-1zM249 10h1v1h-1zM253 10h1v1h-1zM147 11h1v1h-1zM152 11h1v1h-1zM161 11h1v1h-1zM165 11h1v1h-1zM173 11h1v1h-1zM194 11h1v1h-1zM210 11h1v1h-1zM216 11h1v1h-1zM235 11h1v1h-1zM147 12h2v1h-2zM173 12h2v1h-2zM194 12h1v1h-1zM196 12h1v1h-1zM205 12h1v1h-1zM207 12h1v1h-1zM240 12h1v1h-1zM129 13h1v1h-1zM138 13h1v1h-1zM170 13h1v1h-1zM184 13h1v1h-1zM197 13h1v1h-1zM210 13h1v1h-1zM220 13h1v1h-1zM235 13h1v1h-1zM239 13h1v1h-1zM136 14h1v1h-1zM142 14h2v1h-2zM155 14h1v1h-1zM170 14h1v1h-1zM174 14h1v1h-1zM194 14h1v1h-1zM210 14h1v1h-1zM234 14h1v1h-1zM239 14h1v1h-1zM254 14h1v1h-1zM125 15h1v1h-1zM128 15h2v1h-2zM137 15h1v1h-1zM147 15h1v1h-1zM158 15h1v1h-1zM161 15h1v1h-1zM168 15h1v1h-1zM184 15h1v1h-1zM195 15h2v1h-2zM119 16h1v1h-1zM147 16h1v1h-1zM170 16h1v1h-1zM239 16h1v1h-1zM241 16h1v1h-1zM246 16h1v1h-1zM249 16h1v1h-1zM184 17h1v1h-1zM194 17h1v1h-1zM197 17h1v1h-1zM213 17h1v1h-1zM226 17h1v1h-1zM249 17h1v1h-1zM262 17h1v1h-1zM16 18h1v1h-1zM119 18h2v1h-2zM130 18h1v1h-1zM158 18h1v1h-1zM161 18h1v1h-1zM193 18h1v1h-1zM215 18h2v1h-2zM218 18h1v1h-1zM235 18h1v1h-1zM242 18h1v1h-1zM267 18h1v1h-1zM48 19h1v1h-1zM120 19h1v1h-1zM131 19h1v1h-1zM139 19h1v1h-1zM147 19h1v1h-1zM185 19h1v1h-1zM194 19h1v1h-1zM196 19h1v1h-1zM209 19h1v1h-1zM225 19h1v1h-1z"/>
<path fill="#aad5e1" d="M6 0h1v1h-1zM45 0h1v1h-1zM47 0h1v1h-1zM49 0h1v1h-1zM54 0h1v1h-1zM57 0h1v1h-1zM59 0h1v1h-1zM67 0h1v1h-1zM86 0h1v1h-1zM92 0h2v1h-2zM104 0h1v1h-1zM109 0h1v1h-1zM182 0h1v1h-1zM31 1h1v1h-1zM37 1h1v1h-1zM42 1h1v1h-1zM45 1h1v1h-1zM47 1h1v1h-1zM53 1h1v1h-1zM64 1h1v1h-1zM67 1h1v1h-1zM84 1h1v1h-1zM87 1h1v1h-1zM106 1h1v1h-1zM263 1h1v1h-1zM4 2h1v1h-1zM17 2h2v1h-2zM55 2h1v1h-1zM60 2h1v1h-1zM65 2h1v1h-1zM79 2h1v1h-1zM82 2h1v1h-1zM92 2h2v1h-2zM101 2h1v1h-1zM111 2h1v1h-1zM202 2h1v1h-1zM14 3h1v1h-1zM27 3h1v1h-1zM45 3h1v1h-1zM53 3h2v1h-2zM56 3h1v1h-1zM58 3h1v1h-1zM60 3h1v1h-1zM65 3h1v1h-1zM70 3h2v1h-2zM82 3h1v1h-1zM86 3h1v1h-1zM24 4h1v1h-1zM27 4h1v1h-1zM35 4h1v1h-1zM39 4h2v1h-2zM45 4h1v1h-1zM49 4h1v1h-1zM52 4h2v1h-2zM55 4h2v1h-2zM60 4h1v1h-1zM71 4h1v1h-1zM81 4h2v1h-2zM87 4h1v1h-1zM191 4h2v1h-2zM212 4h1v1h-1zM3 5h1v1h-1zM11 5h1v1h-1zM20 5h1v1h-1zM27 5h1v1h-1zM31 5h1v1h-1zM35 5h1v1h-1zM65 5h1v1h-1zM79 5h1v1h-1zM85 5h1v1h-1zM91 5h1v1h-1zM98 5h1v1h-1zM110 5h1v1h-1zM17 6h1v1h-1zM20 6h1v1h-1zM25 6h1v1h-1zM39 6h1v1h-1zM71 6h1v1h-1zM90 6h1v1h-1zM93 6h1v1h-1zM106 6h1v1h-1zM171 6h1v1h-1zM1 7h1v1h-1zM5 7h1v1h-1zM15 7h1v1h-1zM18 7h1v1h-1zM31 7h1v1h-1zM34 7h1v1h-1zM74 7h1v1h-1zM97 7h1v1h-1zM109 7h1v1h-1zM255 7h1v1h-1zM3 8h1v1h-1zM14 8h1v1h-1zM24 8h1v1h-1zM42 8h1v1h-1zM70 8h1v1h-1zM110 8h1v1h-1zM169 8h1v1h-1zM203 8h1v1h-1zM31 9h1v1h-1zM63 9h1v1h-1zM71 9h1v1h-1zM81 9h1v1h-1zM94 9h1v1h-1zM113 9h1v1h-1zM88 10h1v1h-1zM170 10h1v1h-1zM183 10h1v1h-1zM223 10h2v1h-2zM128 11h2v1h-2zM138 11h1v1h-1zM168 11h1v1h-1zM180 11h1v1h-1zM240 11h1v1h-1zM268 11h1v1h-1zM127 12h1v1h-1zM138 12h2v1h-2zM195 12h1v1h-1zM197 12h1v1h-1zM215 12h1v1h-1zM220 12h1v1h-1zM226 12h1v1h-1zM267 12h1v1h-1zM119 13h1v1h-1zM124 13h1v1h-1zM136 13h1v1h-1zM159 13h1v1h-1zM161 13h1v1h-1zM207 13h1v1h-1zM209 13h1v1h-1zM212 13h2v1h-2zM217 13h1v1h-1zM236 13h1v1h-1zM244 13h1v1h-1zM254 13h1v1h-1zM262 13h1v1h-1zM134 14h1v1h-1zM161 14h1v1h-1zM164 14h1v1h-1zM185 14h1v1h-1zM207 14h1v1h-1zM215 14h1v1h-1zM220 14h1v1h-1zM224 14h1v1h-1zM231 14h1v1h-1zM246 14h1v1h-1zM248 14h1v1h-1zM251 14h1v1h-1zM145 15h1v1h-1zM149 15h1v1h-1zM163 15h1v1h-1zM185 15h2v1h-2zM205 15h1v1h-1zM209 15h1v1h-1zM217 15h1v1h-1zM222 15h1v1h-1zM224 15h1v1h-1zM239 15h1v1h-1zM242 15h1v1h-1zM121 16h1v1h-1zM124 16h1v1h-1zM129 16h1v1h-1zM150 16h1v1h-1zM152 16h1v1h-1zM155 16h1v1h-1zM158 16h1v1h-1zM177 16h1v1h-1zM184 16h1v1h-1zM191 16h1v1h-1zM200 16h1v1h-1zM210 16h1v1h-1zM214 16h1v1h-1zM217 16h1v1h-1zM231 16h1v1h-1zM268 16h1v1h-1zM121 17h1v1h-1zM124 17h1v1h-1zM138 17h1v1h-1zM147 17h1v1h-1zM188 17h1v1h-1zM207 17h1v1h-1zM215 17h1v1h-1zM233 17h1v1h-1zM253 17h1v1h-1zM257 17h2v1h-2zM269 17h1v1h-1zM138 18h1v1h-1zM148 18h1v1h-1zM159 18h1v1h-1zM166 18h1v1h-1zM182 18h1v1h-1zM187 18h1v1h-1zM190 18h1v1h-1zM217 18h1v1h-1zM234 18h1v1h-1zM245 18h1v1h-1zM80 19h1v1h-1zM136 19h1v1h-1zM143 19h1v1h-1zM158 19h1v1h-1zM164 19h1v1h-1zM166 19h1v1h-1zM187 19h1v1h-1zM204 19h1v1h-1zM210 19h1v1h-1zM215 19h2v1h-2zM218 19h1v1h-1zM230 19h1v1h-1zM234 19h2v1h-2zM239 19h1v1h-1zM251 19h1v1h-1zM257 19h1v1h-1zM269 19h1v1h-1z"/>
<path fill="#b7dce5" d="M29 0h2v1h-2zM66 0h1v1h-1zM73 0h1v1h-1zM78 0h1v1h-1zM81 0h2v1h-2zM112 0h1v1h-1zM5 1h2v1h-2zM14 1h2v1h-2zM21 1h1v1h-1zM23 1h1v1h-1zM35 1h1v1h-1zM40 1h1v1h-1zM46 1h1v1h-1zM65 1h1v1h-1zM78 1h1v1h-1zM89 1h1v1h-1zM94 1h2v1h-2zM157 1h1v1h-1zM8 2h1v1h-1zM15 2h1v1h-1zM22 2h2v1h-2zM26 2h2v1h-2zM58 2h2v1h-2zM67 2h2v1h-2zM75 2h1v1h-1zM81 2h1v1h-1zM84 2h1v1h-1zM94 2h1v1h-1zM96 2h1v1h-1zM103 2h1v1h-1zM108 2h1v1h-1zM227 2h1v1h-1zM5 3h1v1h-1zM11 3h1v1h-1zM15 3h1v1h-1zM30 3h1v1h-1zM42 3h1v1h-1zM61 3h1v1h-1zM68 3h1v1h-1zM84 3h1v1h-1zM105 3h1v1h-1zM110 3h1v1h-1zM247 3h1v1h-1zM8 4h1v1h-1zM10 4h2v1h-2zM15 4h1v1h-1zM29 4h1v1h-1zM34 4h1v1h-1zM37 4h1v1h-1zM54 4h1v1h-1zM57 4h1v1h-1zM64 4h1v1h-1zM67 4h1v1h-1zM72 4h1v1h-1zM75 4h1v1h-1zM78 4h1v1h-1zM94 4h1v1h-1zM97 4h2v1h-2zM101 4h1v1h-1zM260 4h1v1h-1zM24 5h1v1h-1zM29 5h1v1h-1zM39 5h1v1h-1zM51 5h1v1h-1zM81 5h1v1h-1zM87 5h1v1h-1zM94 5h1v1h-1zM101 5h1v1h-1zM3 6h1v1h-1zM6 6h1v1h-1zM10 6h1v1h-1zM23 6h1v1h-1zM45 6h1v1h-1zM63 6h1v1h-1zM65 6h1v1h-1zM67 6h1v1h-1zM74 6h1v1h-1zM79 6h1v1h-1zM91 6h1v1h-1zM97 6h1v1h-1zM157 6h1v1h-1zM203 6h1v1h-1zM212 6h1v1h-1zM263 6h1v1h-1zM13 7h1v1h-1zM24 7h1v1h-1zM39 7h4v1h-4zM44 7h1v1h-1zM59 7h1v1h-1zM66 7h1v1h-1zM72 7h1v1h-1zM81 7h2v1h-2zM106 7h1v1h-1zM157 7h1v1h-1zM212 7h1v1h-1zM17 8h1v1h-1zM22 8h1v1h-1zM31 8h2v1h-2zM34 8h1v1h-1zM47 8h1v1h-1zM52 8h1v1h-1zM59 8h1v1h-1zM67 8h1v1h-1zM113 8h1v1h-1zM139 8h1v1h-1zM192 8h1v1h-1zM236 8h1v1h-1zM11 9h1v1h-1zM33 9h3v1h-3zM39 9h1v1h-1zM58 9h1v1h-1zM84 9h1v1h-1zM93 9h1v1h-1zM151 9h1v1h-1zM179 9h1v1h-1zM181 9h1v1h-1zM212 9h1v1h-1zM233 9h1v1h-1zM237 9h1v1h-1zM241 9h1v1h-1zM246 9h2v1h-2zM251 9h1v1h-1zM121 10h1v1h-1zM125 10h1v1h-1zM153 10h1v1h-1zM173 10h1v1h-1zM181 10h1v1h-1zM188 10h1v1h-1zM209 10h1v1h-1zM220 10h1v1h-1zM226 10h1v1h-1zM231 10h1v1h-1zM233 10h1v1h-1zM235 10h2v1h-2zM238 10h1v1h-1zM241 10h1v1h-1zM255 10h1v1h-1zM265 10h1v1h-1zM268 10h1v1h-1zM136 11h1v1h-1zM139 11h2v1h-2zM143 11h1v1h-1zM188 11h1v1h-1zM215 11h1v1h-1zM217 11h1v1h-1zM225 11h1v1h-1zM231 11h1v1h-1zM243 11h1v1h-1zM245 11h1v1h-1zM36 12h1v1h-1zM122 12h1v1h-1zM124 12h2v1h-2zM130 12h1v1h-1zM145 12h1v1h-1zM153 12h1v1h-1zM159 12h1v1h-1zM170 12h2v1h-2zM185 12h1v1h-1zM188 12h1v1h-1zM210 12h1v1h-1zM216 12h2v1h-2zM231 12h1v1h-1zM233 12h2v1h-2zM239 12h1v1h-1zM266 12h1v1h-1zM268 12h1v1h-1zM122 13h1v1h-1zM137 13h1v1h-1zM148 13h1v1h-1zM186 13h1v1h-1zM228 13h1v1h-1zM234 13h1v1h-1zM258 13h1v1h-1zM264 13h1v1h-1zM267 13h1v1h-1zM120 14h1v1h-1zM128 14h1v1h-1zM130 14h1v1h-1zM138 14h1v1h-1zM145 14h1v1h-1zM148 14h2v1h-2zM151 14h1v1h-1zM159 14h1v1h-1zM175 14h1v1h-1zM209 14h1v1h-1zM221 14h1v1h-1zM249 14h1v1h-1zM124 15h1v1h-1zM131 15h1v1h-1zM139 15h2v1h-2zM148 15h1v1h-1zM170 15h1v1h-1zM173 15h1v1h-1zM207 15h1v1h-1zM221 15h1v1h-1zM223 15h1v1h-1zM232 15h2v1h-2zM247 15h1v1h-1zM250 15h1v1h-1zM256 15h1v1h-1zM264 15h1v1h-1zM122 16h1v1h-1zM128 16h1v1h-1zM143 16h1v1h-1zM149 16h1v1h-1zM164 16h1v1h-1zM190 16h1v1h-1zM207 16h1v1h-1zM226 16h1v1h-1zM228 16h1v1h-1zM262 16h1v1h-1zM269 16h1v1h-1zM36 17h1v1h-1zM117 17h1v1h-1zM142 17h1v1h-1zM144 17h1v1h-1zM158 17h1v1h-1zM164 17h1v1h-1zM166 17h1v1h-1zM168 17h1v1h-1zM173 17h1v1h-1zM177 17h2v1h-2zM216 17h1v1h-1zM224 17h1v1h-1zM239 17h1v1h-1zM241 17h1v1h-1zM115 18h1v1h-1zM127 18h1v1h-1zM142 18h2v1h-2zM145 18h1v1h-1zM168 18h1v1h-1zM173 18h1v1h-1zM185 18h1v1h-1zM197 18h1v1h-1zM201 18h1v1h-1zM207 18h1v1h-1zM225 18h1v1h-1zM243 18h1v1h-1zM246 18h1v1h-1zM250 18h1v1h-1zM269 18h1v1h-1zM16 19h1v1h-1zM35 19h2v1h-2zM62 19h1v1h-1zM116 19h1v1h-1zM122 19h1v1h-1zM133 19h2v1h-2zM165 19h1v1h-1zM175 19h1v1h-1zM197 19h1v1h-1zM206 19h1v1h-1zM231 19h1v1h-1zM233 19h1v1h-1zM250 19h1v1h-1zM266 19h2v1h-2z"/>
<path fill="#c4e2ea" d="M1 0h1v1h-1zM7 0h1v1h-1zM23 0h2v1h-2zM33 0h1v1h-1zM35 0h1v1h-1zM43 0h1v1h-1zM50 0h1v1h-1zM55 0h1v1h-1zM95 0h1v1h-1zM114 0h1v1h-1zM137 0h1v1h-1zM159 0h1v1h-1zM171 0h1v1h-1zM177 0h1v1h-1zM201 0h1v1h-1zM1 1h1v1h-1zM10 1h1v1h-1zM19 1h2v1h-2zM26 1h1v1h-1zM38 1h1v1h-1zM43 1h1v1h-1zM58 1h1v1h-1zM60 1h1v1h-1zM66 1h1v1h-1zM68 1h1v1h-1zM77 1h1v1h-1zM81 1h1v1h-1zM98 1h1v1h-1zM109 1h2v1h-2zM160 1h1v1h-1zM167 1h1v1h-1zM212 1h1v1h-1zM219 1h1v1h-1zM20 2h1v1h-1zM25 2h1v1h-1zM33 2h1v1h-1zM46 2h1v1h-1zM51 2h1v1h-1zM54 2h1v1h-1zM56 2h1v1h-1zM63 2h1v1h-1zM74 2h1v1h-1zM90 2h1v1h-1zM105 2h1v1h-1zM116 2h1v1h-1zM132 2h1v1h-1zM191 2h1v1h-1zM198 2h1v1h-1zM263 2h1v1h-1zM6 3h3v1h-3zM20 3h1v1h-1zM37 3h1v1h-1zM41 3h1v1h-1zM55 3h1v1h-1zM67 3h1v1h-1zM90 3h1v1h-1zM101 3h1v1h-1zM157 3h1v1h-1zM19 4h1v1h-1zM31 4h1v1h-1zM42 4h3v1h-3zM46 4h1v1h-1zM50 4h2v1h-2zM92 4h1v1h-1zM102 4h1v1h-1zM107 4h1v1h-1zM157 4h1v1h-1zM6 5h1v1h-1zM12 5h1v1h-1zM26 5h1v1h-1zM43 5h1v1h-1zM56 5h1v1h-1zM63 5h1v1h-1zM66 5h1v1h-1zM93 5h1v1h-1zM103 5h1v1h-1zM144 5h1v1h-1zM167 5h1v1h-1zM169 5h1v1h-1zM1 6h2v1h-2zM15 6h1v1h-1zM24 6h1v1h-1zM27 6h1v1h-1zM38 6h1v1h-1zM42 6h1v1h-1zM44 6h1v1h-1zM50 6h1v1h-1zM66 6h1v1h-1zM78 6h1v1h-1zM98 6h1v1h-1zM101 6h1v1h-1zM144 6h1v1h-1zM202 6h1v1h-1zM8 7h1v1h-1zM22 7h1v1h-1zM27 7h1v1h-1zM37 7h1v1h-1zM45 7h1v1h-1zM49 7h2v1h-2zM58 7h1v1h-1zM63 7h1v1h-1zM75 7h1v1h-1zM171 7h1v1h-1zM214 7h1v1h-1zM0 8h1v1h-1zM9 8h1v1h-1zM55 8h1v1h-1zM57 8h2v1h-2zM86 8h1v1h-1zM93 8h1v1h-1zM98 8h1v1h-1zM102 8h1v1h-1zM182 8h1v1h-1zM221 8h1v1h-1zM248 8h1v1h-1zM2 9h1v1h-1zM22 9h1v1h-1zM27 9h1v1h-1zM57 9h1v1h-1zM68 9h1v1h-1zM80 9h1v1h-1zM92 9h1v1h-1zM105 9h1v1h-1zM157 9h1v1h-1zM166 9h2v1h-2zM222 9h1v1h-1zM115 10h1v1h-1zM134 10h1v1h-1zM138 10h1v1h-1zM144 10h1v1h-1zM148 10h1v1h-1zM165 10h1v1h-1zM174 10h1v1h-1zM190 10h1v1h-1zM204 10h1v1h-1zM207 10h1v1h-1zM215 10h1v1h-1zM217 10h1v1h-1zM222 10h1v1h-1zM225 10h1v1h-1zM239 10h2v1h-2zM251 10h1v1h-1zM254 10h1v1h-1zM264 10h1v1h-1zM102 11h1v1h-1zM130 11h2v1h-2zM134 11h1v1h-1zM142 11h1v1h-1zM155 11h1v1h-1zM159 11h1v1h-1zM166 11h1v1h-1zM176 11h1v1h-1zM184 11h1v1h-1zM199 11h1v1h-1zM204 11h1v1h-1zM213 11h2v1h-2zM221 11h1v1h-1zM244 11h1v1h-1zM247 11h1v1h-1zM251 11h2v1h-2zM269 11h1v1h-1zM80 12h1v1h-1zM123 12h1v1h-1zM136 12h1v1h-1zM143 12h1v1h-1zM152 12h1v1h-1zM161 12h1v1h-1zM166 12h1v1h-1zM190 12h1v1h-1zM193 12h1v1h-1zM213 12h1v1h-1zM225 12h1v1h-1zM232 12h1v1h-1zM244 12h1v1h-1zM257 12h1v1h-1zM117 13h2v1h-2zM127 13h1v1h-1zM134 13h2v1h-2zM139 13h1v1h-1zM152 13h1v1h-1zM165 13h1v1h-1zM185 13h1v1h-1zM188 13h2v1h-2zM215 13h1v1h-1zM221 13h1v1h-1zM225 13h2v1h-2zM232 13h1v1h-1zM246 13h1v1h-1zM248 13h1v1h-1zM256 13h1v1h-1zM266 13h1v1h-1zM269 13h1v1h-1zM36 14h1v1h-1zM83 14h1v1h-1zM121 14h1v1h-1zM137 14h1v1h-1zM144 14h1v1h-1zM166 14h1v1h-1zM168 14h1v1h-1zM172 14h1v1h-1zM183 14h1v1h-1zM213 14h1v1h-1zM238 14h1v1h-1zM252 14h1v1h-1zM264 14h1v1h-1zM2 15h1v1h-1zM26 15h1v1h-1zM88 15h1v1h-1zM133 15h1v1h-1zM141 15h3v1h-3zM180 15h2v1h-2zM197 15h1v1h-1zM226 15h1v1h-1zM234 15h1v1h-1zM243 15h1v1h-1zM252 15h1v1h-1zM254 15h1v1h-1zM257 15h1v1h-1zM80 16h1v1h-1zM123 16h1v1h-1zM140 16h1v1h-1zM168 16h1v1h-1zM172 16h1v1h-1zM178 16h1v1h-1zM188 16h1v1h-1zM197 16h1v1h-1zM199 16h1v1h-1zM205 16h1v1h-1zM221 16h1v1h-1zM235 16h1v1h-1zM250 16h1v1h-1zM252 16h1v1h-1zM119 17h1v1h-1zM127 17h1v1h-1zM129 17h2v1h-2zM143 17h1v1h-1zM149 17h1v1h-1zM152 17h1v1h-1zM154 17h1v1h-1zM170 17h1v1h-1zM179 17h1v1h-1zM189 17h1v1h-1zM199 17h1v1h-1zM234 17h1v1h-1zM245 17h1v1h-1zM255 17h1v1h-1zM36 18h1v1h-1zM118 18h1v1h-1zM136 18h1v1h-1zM140 18h1v1h-1zM180 18h1v1h-1zM195 18h2v1h-2zM204 18h1v1h-1zM206 18h1v1h-1zM209 18h1v1h-1zM214 18h1v1h-1zM228 18h1v1h-1zM265 18h1v1h-1zM7 19h1v1h-1zM10 19h2v1h-2zM29 19h1v1h-1zM141 19h2v1h-2zM144 19h1v1h-1zM151 19h1v1h-1zM156 19h1v1h-1zM170 19h1v1h-1zM173 19h1v1h-1zM178 19h1v1h-1zM180 19h1v1h-1zM183 19h1v1h-1zM202 19h1v1h-1zM205 19h1v1h-1zM207 19h1v1h-1zM211 19h1v1h-1zM214 19h1v1h-1zM226 19h1v1h-1zM248 19h1v1h-1zM256 19h1v1h-1z"/>
<path fill="#d1e8ef" d="M13 0h1v1h-1zM19 0h1v1h-1zM25 0h1v1h-1zM44 0h1v1h-1zM53 0h1v1h-1zM64 0h1v1h-1zM90 0h1v1h-1zM102 0h2v1h-2zM133 0h1v1h-1zM151 0h1v1h-1zM157 0h1v1h-1zM202 0h1v1h-1zM236 0h1v1h-1zM241 0h1v1h-1zM27 1h1v1h-1zM29 1h1v1h-1zM70 1h1v1h-1zM76 1h1v1h-1zM79 1h1v1h-1zM90 1h1v1h-1zM92 1h1v1h-1zM96 1h1v1h-1zM99 1h1v1h-1zM102 1h2v1h-2zM114 1h1v1h-1zM151 1h1v1h-1zM180 1h1v1h-1zM189 1h1v1h-1zM203 1h1v1h-1zM222 1h1v1h-1zM3 2h1v1h-1zM13 2h1v1h-1zM24 2h1v1h-1zM31 2h1v1h-1zM35 2h1v1h-1zM42 2h1v1h-1zM64 2h1v1h-1zM95 2h1v1h-1zM110 2h1v1h-1zM112 2h1v1h-1zM157 2h1v1h-1zM176 2h1v1h-1zM212 2h1v1h-1zM247 2h1v1h-1zM10 3h1v1h-1zM12 3h1v1h-1zM17 3h1v1h-1zM21 3h1v1h-1zM38 3h1v1h-1zM44 3h1v1h-1zM46 3h1v1h-1zM49 3h1v1h-1zM62 3h3v1h-3zM72 3h1v1h-1zM74 3h2v1h-2zM78 3h1v1h-1zM81 3h1v1h-1zM88 3h1v1h-1zM95 3h1v1h-1zM107 3h2v1h-2zM126 3h1v1h-1zM219 3h1v1h-1zM238 3h1v1h-1zM5 4h1v1h-1zM14 4h1v1h-1zM20 4h1v1h-1zM69 4h1v1h-1zM89 4h1v1h-1zM99 4h1v1h-1zM112 4h1v1h-1zM114 4h1v1h-1zM118 4h1v1h-1zM146 4h1v1h-1zM151 4h1v1h-1zM211 4h1v1h-1zM219 4h1v1h-1zM252 4h1v1h-1zM7 5h1v1h-1zM21 5h1v1h-1zM25 5h1v1h-1zM33 5h1v1h-1zM58 5h1v1h-1zM60 5h1v1h-1zM72 5h1v1h-1zM74 5h1v1h-1zM92 5h1v1h-1zM95 5h2v1h-2zM106 5h1v1h-1zM114 5h1v1h-1zM116 5h1v1h-1zM124 5h1v1h-1zM132 5h1v1h-1zM185 5h1v1h-1zM227 5h1v1h-1zM229 5h1v1h-1zM21 6h1v1h-1zM29 6h1v1h-1zM35 6h1v1h-1zM41 6h1v1h-1zM43 6h1v1h-1zM53 6h1v1h-1zM56 6h1v1h-1zM58 6h1v1h-1zM72 6h2v1h-2zM77 6h1v1h-1zM92 6h1v1h-1zM108 6h1v1h-1zM111 6h1v1h-1zM201 6h1v1h-1zM229 6h1v1h-1zM265 6h1v1h-1zM11 7h1v1h-1zM20 7h1v1h-1zM46 7h1v1h-1zM51 7h2v1h-2zM67 7h2v1h-2zM84 7h1v1h-1zM92 7h1v1h-1zM102 7h1v1h-1zM107 7h1v1h-1zM188 7h1v1h-1zM261 7h1v1h-1zM264 7h1v1h-1zM6 8h2v1h-2zM21 8h1v1h-1zM38 8h2v1h-2zM87 8h1v1h-1zM94 8h1v1h-1zM103 8h1v1h-1zM117 8h1v1h-1zM134 8h1v1h-1zM172 8h1v1h-1zM194 8h1v1h-1zM202 8h1v1h-1zM238 8h1v1h-1zM266 8h1v1h-1zM4 9h1v1h-1zM8 9h1v1h-1zM14 9h1v1h-1zM18 9h1v1h-1zM38 9h1v1h-1zM45 9h1v1h-1zM47 9h1v1h-1zM69 9h1v1h-1zM95 9h1v1h-1zM98 9h1v1h-1zM102 9h1v1h-1zM106 9h1v1h-1zM132 9h1v1h-1zM145 9h1v1h-1zM160 9h1v1h-1zM169 9h1v1h-1zM189 9h1v1h-1zM227 9h1v1h-1zM260 9h1v1h-1zM56 10h1v1h-1zM80 10h1v1h-1zM135 10h1v1h-1zM177 10h1v1h-1zM179 10h1v1h-1zM185 10h1v1h-1zM205 10h1v1h-1zM208 10h1v1h-1zM214 10h1v1h-1zM216 10h1v1h-1zM232 10h1v1h-1zM248 10h1v1h-1zM257 10h1v1h-1zM260 10h1v1h-1zM269 10h1v1h-1zM101 11h1v1h-1zM117 11h1v1h-1zM119 11h1v1h-1zM124 11h1v1h-1zM141 11h1v1h-1zM149 11h1v1h-1zM153 11h1v1h-1zM164 11h1v1h-1zM175 11h1v1h-1zM178 11h1v1h-1zM187 11h1v1h-1zM196 11h1v1h-1zM205 11h1v1h-1zM209 11h1v1h-1zM234 11h1v1h-1zM248 11h1v1h-1zM256 11h1v1h-1zM259 11h1v1h-1zM262 11h1v1h-1zM264 11h1v1h-1zM2 12h1v1h-1zM88 12h1v1h-1zM121 12h1v1h-1zM137 12h1v1h-1zM141 12h1v1h-1zM149 12h1v1h-1zM156 12h1v1h-1zM178 12h1v1h-1zM198 12h1v1h-1zM206 12h1v1h-1zM230 12h1v1h-1zM237 12h1v1h-1zM254 12h1v1h-1zM260 12h1v1h-1zM262 12h1v1h-1zM88 13h1v1h-1zM116 13h1v1h-1zM121 13h1v1h-1zM128 13h1v1h-1zM144 13h1v1h-1zM155 13h2v1h-2zM178 13h1v1h-1zM187 13h1v1h-1zM200 13h2v1h-2zM206 13h1v1h-1zM218 13h1v1h-1zM241 13h2v1h-2zM250 13h1v1h-1zM16 14h1v1h-1zM88 14h1v1h-1zM115 14h1v1h-1zM127 14h1v1h-1zM133 14h1v1h-1zM139 14h1v1h-1zM165 14h1v1h-1zM180 14h2v1h-2zM187 14h2v1h-2zM197 14h1v1h-1zM199 14h1v1h-1zM203 14h1v1h-1zM223 14h1v1h-1zM236 14h1v1h-1zM242 14h1v1h-1zM244 14h1v1h-1zM256 14h1v1h-1zM7 15h1v1h-1zM36 15h1v1h-1zM75 15h1v1h-1zM119 15h1v1h-1zM122 15h1v1h-1zM135 15h1v1h-1zM155 15h1v1h-1zM159 15h1v1h-1zM165 15h1v1h-1zM175 15h1v1h-1zM177 15h2v1h-2zM189 15h2v1h-2zM204 15h1v1h-1zM237 15h1v1h-1zM260 15h1v1h-1zM262 15h1v1h-1zM269 15h1v1h-1zM10 16h1v1h-1zM16 16h1v1h-1zM36 16h1v1h-1zM115 16h1v1h-1zM126 16h1v1h-1zM131 16h1v1h-1zM137 16h3v1h-3zM142 16h1v1h-1zM169 16h1v1h-1zM171 16h1v1h-1zM180 16h1v1h-1zM193 16h1v1h-1zM203 16h1v1h-1zM216 16h1v1h-1zM218 16h1v1h-1zM233 16h2v1h-2zM236 16h1v1h-1zM245 16h1v1h-1zM254 16h1v1h-1zM264 16h1v1h-1zM7 17h1v1h-1zM12 17h1v1h-1zM122 17h1v1h-1zM137 17h1v1h-1zM139 17h2v1h-2zM156 17h1v1h-1zM171 17h1v1h-1zM180 17h1v1h-1zM196 17h1v1h-1zM206 17h1v1h-1zM209 17h1v1h-1zM228 17h1v1h-1zM231 17h1v1h-1zM243 17h1v1h-1zM256 17h1v1h-1zM74 18h1v1h-1zM88 18h1v1h-1zM99 18h1v1h-1zM123 18h1v1h-1zM128 18h1v1h-1zM131 18h1v1h-1zM133 18h1v1h-1zM137 18h1v1h-1zM153 18h1v1h-1zM165 18h1v1h-1zM170 18h1v1h-1zM176 18h1v1h-1zM205 18h1v1h-1zM237 18h1v1h-1zM255 18h1v1h-1zM258 18h2v1h-2zM46 19h1v1h-1zM72 19h1v1h-1zM99 19h1v1h-1zM101 19h1v1h-1zM115 19h1v1h-1zM129 19h1v1h-1zM149 19h1v1h-1zM152 19h1v1h-1zM176 19h1v1h-1zM198 19h1v1h-1zM203 19h1v1h-1zM222 19h2v1h-2zM236 19h1v1h-1zM238 19h1v1h-1zM240 19h1v1h-1zM246 19h1v1h-1zM253 19h1v1h-1zM258 19h3v1h-3zM265 19h1v1h-1zM268 19h1v1h-1z"/>
<path fill="#deeff3" d="M9 0h1v1h-1zM11 0h1v1h-1zM61 0h1v1h-1zM77 0h1v1h-1zM79 0h2v1h-2zM87 0h1v1h-1zM91 0h1v1h-1zM100 0h1v1h-1zM107 0h1v1h-1zM110 0h1v1h-1zM206 0h1v1h-1zM212 0h1v1h-1zM221 0h1v1h-1zM228 0h1v1h-1zM13 1h1v1h-1zM17 1h1v1h-1zM34 1h1v1h-1zM41 1h1v1h-1zM48 1h1v1h-1zM50 1h1v1h-1zM54 1h1v1h-1zM61 1h2v1h-2zM72 1h1v1h-1zM74 1h1v1h-1zM86 1h1v1h-1zM91 1h1v1h-1zM97 1h1v1h-1zM107 1h1v1h-1zM111 1h1v1h-1zM116 1h1v1h-1zM146 1h1v1h-1zM176 1h1v1h-1zM182 1h1v1h-1zM244 1h1v1h-1zM260 1h1v1h-1zM2 2h1v1h-1zM7 2h1v1h-1zM11 2h1v1h-1zM37 2h1v1h-1zM44 2h1v1h-1zM48 2h1v1h-1zM52 2h1v1h-1zM72 2h1v1h-1zM78 2h1v1h-1zM88 2h1v1h-1zM106 2h2v1h-2zM162 2h1v1h-1zM189 2h1v1h-1zM269 2h1v1h-1zM73 3h1v1h-1zM85 3h1v1h-1zM89 3h1v1h-1zM96 3h1v1h-1zM106 3h1v1h-1zM114 3h1v1h-1zM146 3h1v1h-1zM176 3h1v1h-1zM192 3h1v1h-1zM202 3h1v1h-1zM229 3h1v1h-1zM260 3h1v1h-1zM2 4h1v1h-1zM21 4h1v1h-1zM58 4h1v1h-1zM62 4h2v1h-2zM68 4h1v1h-1zM74 4h1v1h-1zM76 4h1v1h-1zM90 4h1v1h-1zM103 4h1v1h-1zM110 4h1v1h-1zM116 4h1v1h-1zM132 4h1v1h-1zM162 4h1v1h-1zM171 4h1v1h-1zM202 4h1v1h-1zM13 5h1v1h-1zM15 5h1v1h-1zM44 5h1v1h-1zM50 5h1v1h-1zM54 5h1v1h-1zM57 5h1v1h-1zM64 5h1v1h-1zM68 5h1v1h-1zM73 5h1v1h-1zM77 5h1v1h-1zM99 5h1v1h-1zM107 5h1v1h-1zM111 5h1v1h-1zM171 5h1v1h-1zM176 5h1v1h-1zM183 5h1v1h-1zM201 5h1v1h-1zM11 6h1v1h-1zM14 6h1v1h-1zM33 6h1v1h-1zM46 6h1v1h-1zM61 6h1v1h-1zM76 6h1v1h-1zM84 6h1v1h-1zM86 6h1v1h-1zM103 6h1v1h-1zM107 6h1v1h-1zM132 6h1v1h-1zM156 6h1v1h-1zM169 6h1v1h-1zM175 6h1v1h-1zM192 6h1v1h-1zM227 6h1v1h-1zM261 6h1v1h-1zM6 7h1v1h-1zM10 7h1v1h-1zM38 7h1v1h-1zM47 7h1v1h-1zM62 7h1v1h-1zM71 7h1v1h-1zM77 7h1v1h-1zM79 7h1v1h-1zM90 7h1v1h-1zM94 7h1v1h-1zM98 7h2v1h-2zM101 7h1v1h-1zM110 7h1v1h-1zM114 7h1v1h-1zM160 7h1v1h-1zM167 7h1v1h-1zM169 7h1v1h-1zM227 7h1v1h-1zM37 8h1v1h-1zM41 8h1v1h-1zM44 8h2v1h-2zM48 8h2v1h-2zM61 8h1v1h-1zM64 8h1v1h-1zM66 8h1v1h-1zM68 8h1v1h-1zM72 8h1v1h-1zM82 8h1v1h-1zM85 8h1v1h-1zM89 8h1v1h-1zM101 8h1v1h-1zM126 8h1v1h-1zM198 8h1v1h-1zM219 8h1v1h-1zM263 8h1v1h-1zM9 9h2v1h-2zM67 9h1v1h-1zM78 9h1v1h-1zM107 9h1v1h-1zM133 9h1v1h-1zM231 9h2v1h-2zM258 9h2v1h-2zM27 10h1v1h-1zM67 10h1v1h-1zM86 10h1v1h-1zM102 10h1v1h-1zM149 10h1v1h-1zM156 10h1v1h-1zM169 10h1v1h-1zM172 10h1v1h-1zM221 10h1v1h-1zM258 10h2v1h-2zM36 11h1v1h-1zM41 11h1v1h-1zM88 11h1v1h-1zM121 11h1v1h-1zM137 11h1v1h-1zM144 11h1v1h-1zM185 11h1v1h-1zM197 11h1v1h-1zM208 11h1v1h-1zM230 11h1v1h-1zM241 11h1v1h-1zM246 11h1v1h-1zM257 11h1v1h-1zM261 11h1v1h-1zM265 11h2v1h-2zM7 12h1v1h-1zM16 12h1v1h-1zM26 12h1v1h-1zM41 12h1v1h-1zM99 12h1v1h-1zM115 12h1v1h-1zM119 12h1v1h-1zM176 12h1v1h-1zM200 12h2v1h-2zM214 12h1v1h-1zM221 12h3v1h-3zM236 12h1v1h-1zM245 12h1v1h-1zM255 12h2v1h-2zM261 12h1v1h-1zM264 12h1v1h-1zM7 13h1v1h-1zM16 13h1v1h-1zM36 13h1v1h-1zM62 13h1v1h-1zM96 13h1v1h-1zM126 13h1v1h-1zM131 13h1v1h-1zM133 13h1v1h-1zM141 13h1v1h-1zM146 13h1v1h-1zM153 13h1v1h-1zM166 13h1v1h-1zM169 13h1v1h-1zM181 13h1v1h-1zM190 13h2v1h-2zM204 13h1v1h-1zM208 13h1v1h-1zM211 13h1v1h-1zM230 13h1v1h-1zM237 13h1v1h-1zM243 13h1v1h-1zM245 13h1v1h-1zM252 13h1v1h-1zM255 13h1v1h-1zM10 14h1v1h-1zM48 14h1v1h-1zM89 14h1v1h-1zM117 14h3v1h-3zM126 14h1v1h-1zM135 14h1v1h-1zM152 14h1v1h-1zM167 14h1v1h-1zM190 14h1v1h-1zM196 14h1v1h-1zM201 14h1v1h-1zM204 14h1v1h-1zM225 14h1v1h-1zM227 14h2v1h-2zM237 14h1v1h-1zM243 14h1v1h-1zM245 14h1v1h-1zM258 14h2v1h-2zM261 14h1v1h-1zM268 14h1v1h-1zM16 15h1v1h-1zM62 15h1v1h-1zM108 15h1v1h-1zM117 15h1v1h-1zM127 15h1v1h-1zM134 15h1v1h-1zM152 15h1v1h-1zM187 15h1v1h-1zM236 15h1v1h-1zM246 15h1v1h-1zM261 15h1v1h-1zM265 15h1v1h-1zM267 15h1v1h-1zM83 16h1v1h-1zM106 16h1v1h-1zM127 16h1v1h-1zM130 16h1v1h-1zM135 16h1v1h-1zM141 16h1v1h-1zM145 16h1v1h-1zM148 16h1v1h-1zM185 16h1v1h-1zM204 16h1v1h-1zM222 16h1v1h-1zM224 16h1v1h-1zM237 16h1v1h-1zM242 16h1v1h-1zM255 16h1v1h-1zM257 16h1v1h-1zM265 16h1v1h-1zM52 17h1v1h-1zM76 17h1v1h-1zM79 17h1v1h-1zM118 17h1v1h-1zM131 17h1v1h-1zM134 17h2v1h-2zM175 17h1v1h-1zM183 17h1v1h-1zM190 17h1v1h-1zM193 17h1v1h-1zM200 17h1v1h-1zM232 17h1v1h-1zM236 17h3v1h-3zM244 17h1v1h-1zM251 17h1v1h-1zM261 17h1v1h-1zM102 18h1v1h-1zM122 18h1v1h-1zM124 18h1v1h-1zM126 18h1v1h-1zM135 18h1v1h-1zM150 18h1v1h-1zM177 18h2v1h-2zM213 18h1v1h-1zM220 18h1v1h-1zM226 18h1v1h-1zM231 18h1v1h-1zM241 18h1v1h-1zM252 18h2v1h-2zM1 19h1v1h-1zM13 19h1v1h-1zM51 19h1v1h-1zM121 19h1v1h-1zM127 19h1v1h-1zM130 19h1v1h-1zM137 19h1v1h-1zM145 19h2v1h-2zM181 19h1v1h-1zM184 19h1v1h-1zM190 19h1v1h-1zM193 19h1v1h-1zM243 19h1v1h-1z"/>
<path fill="#ebf5f8" d="M2 0h2v1h-2zM15 0h2v1h-2zM26 0h1v1h-1zM46 0h1v1h-1zM71 0h1v1h-1zM85 0h1v1h-1zM105 0h2v1h-2zM126 0h1v1h-1zM140 0h1v1h-1zM167 0h1v1h-1zM172 0h1v1h-1zM213 0h1v1h-1zM227 0h1v1h-1zM232 0h1v1h-1zM244 0h2v1h-2zM261 0h1v1h-1zM12 1h1v1h-1zM126 1h1v1h-1zM133 1h1v1h-1zM166 1h1v1h-1zM191 1h1v1h-1zM200 1h1v1h-1zM5 2h1v1h-1zM10 2h1v1h-1zM12 2h1v1h-1zM41 2h1v1h-1zM57 2h1v1h-1zM61 2h1v1h-1zM66 2h1v1h-1zM76 2h1v1h-1zM85 2h1v1h-1zM99 2h1v1h-1zM140 2h1v1h-1zM145 2h1v1h-1zM169 2h1v1h-1zM200 2h1v1h-1zM211 2h1v1h-1zM219 2h1v1h-1zM228 2h1v1h-1zM230 2h1v1h-1zM234 2h1v1h-1zM260 2h1v1h-1zM3 3h1v1h-1zM29 3h1v1h-1zM33 3h2v1h-2zM50 3h1v1h-1zM52 3h1v1h-1zM77 3h1v1h-1zM91 3h2v1h-2zM102 3h1v1h-1zM112 3h1v1h-1zM190 3h1v1h-1zM223 3h1v1h-1zM243 3h1v1h-1zM246 3h1v1h-1zM6 4h2v1h-2zM12 4h1v1h-1zM41 4h1v1h-1zM77 4h1v1h-1zM79 4h2v1h-2zM84 4h1v1h-1zM95 4h2v1h-2zM108 4h1v1h-1zM127 4h1v1h-1zM160 4h1v1h-1zM180 4h1v1h-1zM183 4h1v1h-1zM208 4h1v1h-1zM228 4h1v1h-1zM1 5h2v1h-2zM10 5h1v1h-1zM14 5h1v1h-1zM75 5h1v1h-1zM78 5h1v1h-1zM90 5h1v1h-1zM97 5h1v1h-1zM102 5h1v1h-1zM112 5h1v1h-1zM115 5h1v1h-1zM126 5h1v1h-1zM146 5h1v1h-1zM172 5h1v1h-1zM192 5h1v1h-1zM200 5h1v1h-1zM202 5h1v1h-1zM211 5h1v1h-1zM214 5h1v1h-1zM232 5h1v1h-1zM243 5h1v1h-1zM266 5h2v1h-2zM13 6h1v1h-1zM51 6h1v1h-1zM54 6h1v1h-1zM85 6h1v1h-1zM151 6h1v1h-1zM198 6h1v1h-1zM258 6h1v1h-1zM2 7h1v1h-1zM7 7h1v1h-1zM25 7h1v1h-1zM54 7h1v1h-1zM57 7h1v1h-1zM78 7h1v1h-1zM80 7h1v1h-1zM88 7h1v1h-1zM95 7h1v1h-1zM108 7h1v1h-1zM111 7h1v1h-1zM115 7h2v1h-2zM133 7h1v1h-1zM176 7h1v1h-1zM179 7h1v1h-1zM200 7h1v1h-1zM203 7h1v1h-1zM265 7h1v1h-1zM1 8h1v1h-1zM12 8h1v1h-1zM25 8h1v1h-1zM27 8h1v1h-1zM29 8h1v1h-1zM77 8h1v1h-1zM92 8h1v1h-1zM95 8h1v1h-1zM111 8h1v1h-1zM114 8h1v1h-1zM116 8h1v1h-1zM137 8h1v1h-1zM140 8h2v1h-2zM176 8h1v1h-1zM196 8h1v1h-1zM212 8h1v1h-1zM255 8h1v1h-1zM257 8h1v1h-1zM5 9h1v1h-1zM19 9h2v1h-2zM24 9h1v1h-1zM30 9h1v1h-1zM44 9h1v1h-1zM54 9h1v1h-1zM59 9h1v1h-1zM70 9h1v1h-1zM79 9h1v1h-1zM85 9h1v1h-1zM87 9h1v1h-1zM110 9h2v1h-2zM124 9h1v1h-1zM149 9h1v1h-1zM191 9h1v1h-1zM202 9h1v1h-1zM204 9h1v1h-1zM208 9h1v1h-1zM219 9h1v1h-1zM229 9h1v1h-1zM250 9h1v1h-1zM37 10h1v1h-1zM48 10h1v1h-1zM64 10h1v1h-1zM83 10h1v1h-1zM118 10h2v1h-2zM122 10h1v1h-1zM126 10h2v1h-2zM130 10h1v1h-1zM141 10h2v1h-2zM155 10h1v1h-1zM161 10h1v1h-1zM166 10h1v1h-1zM168 10h1v1h-1zM180 10h1v1h-1zM187 10h1v1h-1zM197 10h3v1h-3zM228 10h1v1h-1zM234 10h1v1h-1zM242 10h1v1h-1zM244 10h3v1h-3zM250 10h1v1h-1zM261 10h1v1h-1zM56 11h1v1h-1zM60 11h1v1h-1zM73 11h1v1h-1zM89 11h1v1h-1zM99 11h1v1h-1zM126 11h1v1h-1zM132 11h1v1h-1zM151 11h1v1h-1zM190 11h1v1h-1zM198 11h1v1h-1zM201 11h1v1h-1zM220 11h1v1h-1zM222 11h1v1h-1zM236 11h1v1h-1zM263 11h1v1h-1zM48 12h1v1h-1zM97 12h1v1h-1zM101 12h1v1h-1zM117 12h1v1h-1zM128 12h1v1h-1zM135 12h1v1h-1zM144 12h1v1h-1zM151 12h1v1h-1zM160 12h1v1h-1zM165 12h1v1h-1zM172 12h1v1h-1zM179 12h2v1h-2zM183 12h1v1h-1zM209 12h1v1h-1zM228 12h1v1h-1zM243 12h1v1h-1zM252 12h1v1h-1zM11 13h1v1h-1zM25 13h1v1h-1zM48 13h1v1h-1zM66 13h1v1h-1zM95 13h1v1h-1zM132 13h1v1h-1zM160 13h1v1h-1zM183 13h1v1h-1zM199 13h1v1h-1zM205 13h1v1h-1zM247 13h1v1h-1zM260 13h1v1h-1zM265 13h1v1h-1zM38 14h1v1h-1zM86 14h1v1h-1zM99 14h1v1h-1zM102 14h1v1h-1zM122 14h1v1h-1zM140 14h2v1h-2zM146 14h1v1h-1zM156 14h1v1h-1zM160 14h1v1h-1zM162 14h1v1h-1zM205 14h1v1h-1zM260 14h1v1h-1zM267 14h1v1h-1zM269 14h1v1h-1zM12 15h1v1h-1zM48 15h1v1h-1zM76 15h1v1h-1zM99 15h1v1h-1zM115 15h1v1h-1zM126 15h1v1h-1zM144 15h1v1h-1zM153 15h1v1h-1zM156 15h1v1h-1zM160 15h1v1h-1zM188 15h1v1h-1zM199 15h2v1h-2zM211 15h1v1h-1zM238 15h1v1h-1zM245 15h1v1h-1zM248 15h1v1h-1zM251 15h1v1h-1zM255 15h1v1h-1zM266 15h1v1h-1zM38 16h1v1h-1zM76 16h1v1h-1zM136 16h1v1h-1zM146 16h1v1h-1zM156 16h1v1h-1zM159 16h1v1h-1zM161 16h1v1h-1zM175 16h1v1h-1zM183 16h1v1h-1zM187 16h1v1h-1zM202 16h1v1h-1zM206 16h1v1h-1zM208 16h1v1h-1zM232 16h1v1h-1zM243 16h2v1h-2zM247 16h1v1h-1zM253 16h1v1h-1zM256 16h1v1h-1zM259 16h1v1h-1zM50 17h1v1h-1zM54 17h1v1h-1zM88 17h1v1h-1zM99 17h1v1h-1zM106 17h1v1h-1zM145 17h1v1h-1zM155 17h1v1h-1zM187 17h1v1h-1zM201 17h2v1h-2zM208 17h1v1h-1zM214 17h1v1h-1zM223 17h1v1h-1zM242 17h1v1h-1zM246 17h1v1h-1zM248 17h1v1h-1zM250 17h1v1h-1zM264 17h1v1h-1zM266 17h1v1h-1zM6 18h1v1h-1zM13 18h1v1h-1zM65 18h1v1h-1zM83 18h1v1h-1zM107 18h1v1h-1zM134 18h1v1h-1zM149 18h1v1h-1zM152 18h1v1h-1zM155 18h1v1h-1zM171 18h1v1h-1zM179 18h1v1h-1zM183 18h1v1h-1zM188 18h1v1h-1zM199 18h2v1h-2zM211 18h1v1h-1zM219 18h1v1h-1zM222 18h1v1h-1zM233 18h1v1h-1zM238 18h1v1h-1zM248 18h1v1h-1zM256 18h1v1h-1zM260 18h1v1h-1zM14 19h1v1h-1zM27 19h1v1h-1zM44 19h1v1h-1zM54 19h1v1h-1zM82 19h1v1h-1zM88 19h2v1h-2zM94 19h1v1h-1zM98 19h1v1h-1zM106 19h1v1h-1zM114 19h1v1h-1zM117 19h1v1h-1zM150 19h1v1h-1zM153 19h1v1h-1zM188 19h1v1h-1zM200 19h1v1h-1zM221 19h1v1h-1zM224 19h1v1h-1zM241 19h1v1h-1zM252 19h1v1h-1z"/>
<path fill="#f8fcfd" d="M10 0h1v1h-1zM14 0h1v1h-1zM22 0h1v1h-1zM40 0h1v1h-1zM63 0h1v1h-1zM68 0h1v1h-1zM88 0h2v1h-2zM96 0h1v1h-1zM98 0h1v1h-1zM122 0h1v1h-1zM124 0h1v1h-1zM135 0h1v1h-1zM146 0h1v1h-1zM169 0h1v1h-1zM179 0h1v1h-1zM189 0h1v1h-1zM192 0h1v1h-1zM237 0h1v1h-1zM254 0h2v1h-2zM7 1h1v1h-1zM25 1h1v1h-1zM73 1h1v1h-1zM83 1h1v1h-1zM85 1h1v1h-1zM115 1h1v1h-1zM117 1h1v1h-1zM169 1h1v1h-1zM192 1h1v1h-1zM197 1h1v1h-1zM201 1h2v1h-2zM207 1h1v1h-1zM223 1h1v1h-1zM236 1h1v1h-1zM247 1h1v1h-1zM252 1h1v1h-1zM38 2h1v1h-1zM62 2h1v1h-1zM73 2h1v1h-1zM77 2h1v1h-1zM86 2h1v1h-1zM89 2h1v1h-1zM97 2h2v1h-2zM114 2h2v1h-2zM126 2h1v1h-1zM134 2h1v1h-1zM156 2h1v1h-1zM167 2h1v1h-1zM171 2h1v1h-1zM175 2h1v1h-1zM179 2h1v1h-1zM182 2h2v1h-2zM188 2h1v1h-1zM201 2h1v1h-1zM248 2h1v1h-1zM258 2h1v1h-1zM265 2h2v1h-2zM1 3h2v1h-2zM25 3h1v1h-1zM35 3h1v1h-1zM48 3h1v1h-1zM51 3h1v1h-1zM80 3h1v1h-1zM98 3h1v1h-1zM111 3h1v1h-1zM116 3h1v1h-1zM119 3h1v1h-1zM132 3h1v1h-1zM166 3h1v1h-1zM181 3h2v1h-2zM199 3h1v1h-1zM201 3h1v1h-1zM206 3h1v1h-1zM212 3h1v1h-1zM221 3h1v1h-1zM228 3h1v1h-1zM263 3h1v1h-1zM266 3h1v1h-1zM13 4h1v1h-1zM25 4h1v1h-1zM33 4h1v1h-1zM38 4h1v1h-1zM85 4h2v1h-2zM115 4h1v1h-1zM187 4h1v1h-1zM200 4h1v1h-1zM221 4h1v1h-1zM232 4h1v1h-1zM241 4h1v1h-1zM263 4h1v1h-1zM265 4h1v1h-1zM40 5h1v1h-1zM55 5h1v1h-1zM61 5h1v1h-1zM67 5h1v1h-1zM76 5h1v1h-1zM135 5h1v1h-1zM139 5h1v1h-1zM179 5h1v1h-1zM188 5h1v1h-1zM205 5h1v1h-1zM212 5h1v1h-1zM237 5h1v1h-1zM257 5h1v1h-1zM7 6h1v1h-1zM16 6h1v1h-1zM68 6h1v1h-1zM80 6h1v1h-1zM116 6h1v1h-1zM127 6h1v1h-1zM133 6h1v1h-1zM140 6h1v1h-1zM145 6h1v1h-1zM162 6h1v1h-1zM181 6h2v1h-2zM197 6h1v1h-1zM247 6h1v1h-1zM252 6h1v1h-1zM43 7h1v1h-1zM83 7h1v1h-1zM126 7h1v1h-1zM132 7h1v1h-1zM156 7h1v1h-1zM175 7h1v1h-1zM180 7h1v1h-1zM191 7h1v1h-1zM228 7h1v1h-1zM242 7h2v1h-2zM266 7h1v1h-1zM18 8h1v1h-1zM23 8h1v1h-1zM43 8h1v1h-1zM50 8h1v1h-1zM60 8h1v1h-1zM63 8h1v1h-1zM76 8h1v1h-1zM78 8h1v1h-1zM106 8h1v1h-1zM118 8h1v1h-1zM130 8h1v1h-1zM133 8h1v1h-1zM142 8h1v1h-1zM151 8h1v1h-1zM175 8h1v1h-1zM180 8h1v1h-1zM183 8h1v1h-1zM187 8h1v1h-1zM191 8h1v1h-1zM197 8h1v1h-1zM246 8h1v1h-1zM21 9h1v1h-1zM29 9h1v1h-1zM37 9h1v1h-1zM41 9h2v1h-2zM46 9h1v1h-1zM50 9h1v1h-1zM89 9h2v1h-2zM99 9h1v1h-1zM117 9h1v1h-1zM139 9h1v1h-1zM150 9h1v1h-1zM168 9h1v1h-1zM175 9h1v1h-1zM178 9h1v1h-1zM192 9h2v1h-2zM203 9h1v1h-1zM211 9h1v1h-1zM214 9h1v1h-1zM221 9h1v1h-1zM224 9h1v1h-1zM228 9h1v1h-1zM242 9h1v1h-1zM245 9h1v1h-1zM255 9h1v1h-1zM263 9h1v1h-1zM266 9h1v1h-1zM269 9h1v1h-1zM2 10h1v1h-1zM12 10h2v1h-2zM43 10h2v1h-2zM57 10h1v1h-1zM61 10h1v1h-1zM76 10h1v1h-1zM99 10h1v1h-1zM106 10h1v1h-1zM124 10h1v1h-1zM133 10h1v1h-1zM139 10h1v1h-1zM150 10h1v1h-1zM160 10h1v1h-1zM162 10h1v1h-1zM175 10h1v1h-1zM203 10h1v1h-1zM206 10h1v1h-1zM213 10h1v1h-1zM229 10h2v1h-2zM243 10h1v1h-1zM266 10h1v1h-1zM11 11h1v1h-1zM16 11h1v1h-1zM62 11h1v1h-1zM83 11h1v1h-1zM96 11h1v1h-1zM118 11h1v1h-1zM122 11h1v1h-1zM133 11h1v1h-1zM135 11h1v1h-1zM145 11h1v1h-1zM150 11h1v1h-1zM156 11h2v1h-2zM167 11h1v1h-1zM169 11h1v1h-1zM172 11h1v1h-1zM179 11h1v1h-1zM218 11h2v1h-2zM223 11h1v1h-1zM227 11h1v1h-1zM232 11h2v1h-2zM238 11h1v1h-1zM253 11h2v1h-2zM13 12h1v1h-1zM47 12h1v1h-1zM50 12h1v1h-1zM57 12h1v1h-1zM61 12h1v1h-1zM68 12h1v1h-1zM73 12h1v1h-1zM78 12h1v1h-1zM134 12h1v1h-1zM146 12h1v1h-1zM162 12h1v1h-1zM182 12h1v1h-1zM191 12h1v1h-1zM211 12h1v1h-1zM238 12h1v1h-1zM241 12h2v1h-2zM253 12h1v1h-1zM265 12h1v1h-1zM13 13h1v1h-1zM20 13h1v1h-1zM73 13h1v1h-1zM83 13h1v1h-1zM99 13h1v1h-1zM140 13h1v1h-1zM142 13h1v1h-1zM150 13h1v1h-1zM162 13h1v1h-1zM172 13h1v1h-1zM203 13h1v1h-1zM222 13h2v1h-2zM257 13h1v1h-1zM7 14h1v1h-1zM64 14h1v1h-1zM67 14h1v1h-1zM78 14h1v1h-1zM96 14h1v1h-1zM107 14h1v1h-1zM131 14h1v1h-1zM176 14h1v1h-1zM179 14h1v1h-1zM191 14h1v1h-1zM206 14h1v1h-1zM222 14h1v1h-1zM230 14h1v1h-1zM232 14h2v1h-2zM241 14h1v1h-1zM247 14h1v1h-1zM266 14h1v1h-1zM38 15h1v1h-1zM66 15h1v1h-1zM89 15h1v1h-1zM91 15h1v1h-1zM183 15h1v1h-1zM198 15h1v1h-1zM201 15h1v1h-1zM225 15h1v1h-1zM227 15h1v1h-1zM241 15h1v1h-1zM259 15h1v1h-1zM56 16h1v1h-1zM75 16h1v1h-1zM77 16h1v1h-1zM88 16h1v1h-1zM97 16h1v1h-1zM117 16h1v1h-1zM134 16h1v1h-1zM151 16h1v1h-1zM153 16h1v1h-1zM167 16h1v1h-1zM182 16h1v1h-1zM189 16h1v1h-1zM223 16h1v1h-1zM229 16h1v1h-1zM238 16h1v1h-1zM258 16h1v1h-1zM263 16h1v1h-1zM266 16h2v1h-2zM2 17h1v1h-1zM6 17h1v1h-1zM48 17h1v1h-1zM62 17h1v1h-1zM73 17h1v1h-1zM133 17h1v1h-1zM136 17h1v1h-1zM161 17h1v1h-1zM205 17h1v1h-1zM212 17h1v1h-1zM230 17h1v1h-1zM265 17h1v1h-1zM267 17h1v1h-1zM12 18h1v1h-1zM35 18h1v1h-1zM62 18h2v1h-2zM67 18h1v1h-1zM73 18h1v1h-1zM77 18h1v1h-1zM121 18h1v1h-1zM141 18h1v1h-1zM144 18h1v1h-1zM151 18h1v1h-1zM156 18h1v1h-1zM172 18h1v1h-1zM202 18h1v1h-1zM221 18h1v1h-1zM227 18h1v1h-1zM230 18h1v1h-1zM232 18h1v1h-1zM266 18h1v1h-1zM5 19h1v1h-1zM49 19h2v1h-2zM68 19h1v1h-1zM73 19h2v1h-2zM83 19h1v1h-1zM90 19h1v1h-1zM92 19h1v1h-1zM108 19h1v1h-1zM126 19h1v1h-1zM140 19h1v1h-1zM155 19h1v1h-1zM161 19h1v1h-1zM227 19h1v1h-1zM237 19h1v1h-1zM261 19h1v1h-1zM264 19h1v1h-1z"/>
<path fill="#fefdf7" d="M41 0h1v1h-1zM52 0h1v1h-1zM60 0h1v1h-1zM111 0h1v1h-1zM131 0h2v1h-2zM145 0h1v1h-1zM160 0h1v1h-1zM164 0h1v1h-1zM170 0h1v1h-1zM190 0h1v1h-1zM198 0h1v1h-1zM204 0h2v1h-2zM217 0h1v1h-1zM222 0h2v1h-2zM233 0h2v1h-2zM259 0h2v1h-2zM262 0h1v1h-1zM2 1h1v1h-1zM11 1h1v1h-1zM22 1h1v1h-1zM24 1h1v1h-1zM57 1h1v1h-1zM69 1h1v1h-1zM75 1h1v1h-1zM131 1h1v1h-1zM135 1h1v1h-1zM137 1h1v1h-1zM144 1h1v1h-1zM153 1h1v1h-1zM181 1h1v1h-1zM227 1h1v1h-1zM229 1h1v1h-1zM245 1h2v1h-2zM251 1h1v1h-1zM266 1h1v1h-1zM6 2h1v1h-1zM29 2h1v1h-1zM102 2h1v1h-1zM127 2h1v1h-1zM146 2h1v1h-1zM150 2h1v1h-1zM165 2h2v1h-2zM180 2h2v1h-2zM206 2h1v1h-1zM221 2h2v1h-2zM257 2h1v1h-1zM26 3h1v1h-1zM36 3h1v1h-1zM43 3h1v1h-1zM57 3h1v1h-1zM99 3h1v1h-1zM130 3h1v1h-1zM135 3h1v1h-1zM150 3h1v1h-1zM156 3h1v1h-1zM160 3h3v1h-3zM167 3h1v1h-1zM171 3h1v1h-1zM179 3h1v1h-1zM214 3h1v1h-1zM222 3h1v1h-1zM232 3h1v1h-1zM242 3h1v1h-1zM252 3h1v1h-1zM258 3h1v1h-1zM61 4h1v1h-1zM66 4h1v1h-1zM73 4h1v1h-1zM83 4h1v1h-1zM117 4h1v1h-1zM119 4h1v1h-1zM140 4h1v1h-1zM143 4h1v1h-1zM150 4h1v1h-1zM167 4h1v1h-1zM169 4h1v1h-1zM175 4h1v1h-1zM182 4h1v1h-1zM227 4h1v1h-1zM230 4h1v1h-1zM238 4h1v1h-1zM246 4h1v1h-1zM266 4h1v1h-1zM16 5h1v1h-1zM46 5h1v1h-1zM48 5h1v1h-1zM52 5h1v1h-1zM80 5h1v1h-1zM122 5h1v1h-1zM134 5h1v1h-1zM149 5h3v1h-3zM162 5h1v1h-1zM175 5h1v1h-1zM219 5h1v1h-1zM228 5h1v1h-1zM248 5h1v1h-1zM256 5h1v1h-1zM263 5h2v1h-2zM26 6h1v1h-1zM57 6h1v1h-1zM114 6h1v1h-1zM122 6h1v1h-1zM124 6h1v1h-1zM142 6h1v1h-1zM167 6h1v1h-1zM180 6h1v1h-1zM208 6h1v1h-1zM222 6h1v1h-1zM232 6h1v1h-1zM237 6h1v1h-1zM246 6h1v1h-1zM248 6h1v1h-1zM255 6h1v1h-1zM12 7h1v1h-1zM29 7h1v1h-1zM35 7h1v1h-1zM48 7h1v1h-1zM61 7h1v1h-1zM73 7h1v1h-1zM91 7h1v1h-1zM96 7h1v1h-1zM103 7h1v1h-1zM117 7h1v1h-1zM127 7h1v1h-1zM129 7h1v1h-1zM139 7h1v1h-1zM146 7h1v1h-1zM150 7h2v1h-2zM166 7h1v1h-1zM174 7h1v1h-1zM181 7h1v1h-1zM183 7h1v1h-1zM189 7h2v1h-2zM201 7h2v1h-2zM209 7h1v1h-1zM231 7h1v1h-1zM245 7h1v1h-1zM258 7h2v1h-2zM2 8h1v1h-1zM10 8h1v1h-1zM33 8h1v1h-1zM35 8h1v1h-1zM40 8h1v1h-1zM46 8h1v1h-1zM79 8h2v1h-2zM91 8h1v1h-1zM97 8h1v1h-1zM99 8h2v1h-2zM107 8h1v1h-1zM109 8h1v1h-1zM122 8h1v1h-1zM124 8h1v1h-1zM153 8h1v1h-1zM162 8h1v1h-1zM166 8h1v1h-1zM188 8h1v1h-1zM190 8h1v1h-1zM201 8h1v1h-1zM205 8h2v1h-2zM215 8h1v1h-1zM222 8h1v1h-1zM229 8h1v1h-1zM234 8h1v1h-1zM251 8h1v1h-1zM258 8h1v1h-1zM260 8h1v1h-1zM12 9h1v1h-1zM17 9h1v1h-1zM51 9h1v1h-1zM65 9h1v1h-1zM97 9h1v1h-1zM126 9h3v1h-3zM131 9h1v1h-1zM135 9h1v1h-1zM156 9h1v1h-1zM180 9h1v1h-1zM198 9h1v1h-1zM218 9h1v1h-1zM14 10h1v1h-1zM16 10h2v1h-2zM35 10h1v1h-1zM54 10h1v1h-1zM60 10h1v1h-1zM65 10h2v1h-2zM73 10h1v1h-1zM96 10h1v1h-1zM108 10h1v1h-1zM111 10h1v1h-1zM117 10h1v1h-1zM145 10h1v1h-1zM152 10h1v1h-1zM171 10h1v1h-1zM247 10h1v1h-1zM7 11h1v1h-1zM26 11h1v1h-1zM54 11h2v1h-2zM76 11h1v1h-1zM80 11h1v1h-1zM108 11h1v1h-1zM146 11h1v1h-1zM160 11h1v1h-1zM191 11h2v1h-2zM200 11h1v1h-1zM228 11h1v1h-1zM237 11h1v1h-1zM29 12h1v1h-1zM43 12h1v1h-1zM45 12h1v1h-1zM74 12h1v1h-1zM86 12h1v1h-1zM111 12h1v1h-1zM114 12h1v1h-1zM118 12h1v1h-1zM131 12h1v1h-1zM133 12h1v1h-1zM142 12h1v1h-1zM169 12h1v1h-1zM175 12h1v1h-1zM181 12h1v1h-1zM251 12h1v1h-1zM259 12h1v1h-1zM12 13h1v1h-1zM26 13h1v1h-1zM41 13h1v1h-1zM52 13h1v1h-1zM57 13h1v1h-1zM61 13h1v1h-1zM72 13h1v1h-1zM75 13h1v1h-1zM80 13h1v1h-1zM101 13h1v1h-1zM145 13h1v1h-1zM149 13h1v1h-1zM151 13h1v1h-1zM171 13h1v1h-1zM176 13h1v1h-1zM219 13h1v1h-1zM259 13h1v1h-1zM26 14h1v1h-1zM42 14h1v1h-1zM76 14h1v1h-1zM92 14h1v1h-1zM116 14h1v1h-1zM124 14h1v1h-1zM182 14h1v1h-1zM198 14h1v1h-1zM200 14h1v1h-1zM265 14h1v1h-1zM21 15h1v1h-1zM61 15h1v1h-1zM79 15h1v1h-1zM83 15h1v1h-1zM101 15h2v1h-2zM106 15h1v1h-1zM150 15h1v1h-1zM162 15h1v1h-1zM166 15h2v1h-2zM171 15h1v1h-1zM191 15h1v1h-1zM214 15h1v1h-1zM244 15h1v1h-1zM253 15h1v1h-1zM2 16h1v1h-1zM26 16h1v1h-1zM35 16h1v1h-1zM60 16h1v1h-1zM62 16h1v1h-1zM74 16h1v1h-1zM86 16h1v1h-1zM108 16h1v1h-1zM110 16h1v1h-1zM114 16h1v1h-1zM118 16h1v1h-1zM144 16h1v1h-1zM157 16h1v1h-1zM162 16h1v1h-1zM166 16h1v1h-1zM227 16h1v1h-1zM230 16h1v1h-1zM260 16h1v1h-1zM56 17h1v1h-1zM60 17h1v1h-1zM80 17h1v1h-1zM102 17h1v1h-1zM141 17h1v1h-1zM153 17h1v1h-1zM181 17h2v1h-2zM192 17h1v1h-1zM204 17h1v1h-1zM222 17h1v1h-1zM252 17h1v1h-1zM11 18h1v1h-1zM25 18h2v1h-2zM32 18h1v1h-1zM79 18h2v1h-2zM85 18h1v1h-1zM96 18h1v1h-1zM108 18h1v1h-1zM117 18h1v1h-1zM146 18h1v1h-1zM167 18h1v1h-1zM203 18h1v1h-1zM223 18h1v1h-1zM229 18h1v1h-1zM236 18h1v1h-1zM247 18h1v1h-1zM261 18h1v1h-1zM20 19h2v1h-2zM24 19h1v1h-1zM33 19h1v1h-1zM53 19h1v1h-1zM61 19h1v1h-1zM65 19h1v1h-1zM85 19h1v1h-1zM124 19h1v1h-1zM138 19h1v1h-1zM162 19h1v1h-1zM167 19h1v1h-1zM177 19h1v1h-1zM182 19h1v1h-1zM191 19h2v1h-2zM195 19h1v1h-1zM201 19h1v1h-1zM208 19h1v1h-1zM229 19h1v1h-1z"/>
<path fill="#fdf8e8" d="M20 0h1v1h-1zM38 0h1v1h-1zM58 0h1v1h-1zM62 0h1v1h-1zM74 0h1v1h-1zM83 0h2v1h-2zM108 0h1v1h-1zM127 0h1v1h-1zM130 0h1v1h-1zM139 0h1v1h-1zM153 0h1v1h-1zM175 0h1v1h-1zM188 0h1v1h-1zM195 0h1v1h-1zM235 0h1v1h-1zM246 0h1v1h-1zM88 1h1v1h-1zM141 1h1v1h-1zM188 1h1v1h-1zM193 1h1v1h-1zM195 1h1v1h-1zM204 1h1v1h-1zM206 1h1v1h-1zM228 1h1v1h-1zM230 1h1v1h-1zM232 1h1v1h-1zM259 1h1v1h-1zM269 1h1v1h-1zM36 2h1v1h-1zM80 2h1v1h-1zM83 2h1v1h-1zM130 2h1v1h-1zM195 2h1v1h-1zM199 2h1v1h-1zM203 2h1v1h-1zM207 2h1v1h-1zM209 2h1v1h-1zM216 2h1v1h-1zM232 2h1v1h-1zM259 2h1v1h-1zM97 3h1v1h-1zM133 3h1v1h-1zM143 3h2v1h-2zM148 3h1v1h-1zM151 3h1v1h-1zM169 3h1v1h-1zM172 3h1v1h-1zM183 3h1v1h-1zM198 3h1v1h-1zM203 3h1v1h-1zM211 3h1v1h-1zM237 3h1v1h-1zM261 3h1v1h-1zM26 4h1v1h-1zM88 4h1v1h-1zM91 4h1v1h-1zM124 4h1v1h-1zM135 4h1v1h-1zM144 4h1v1h-1zM168 4h1v1h-1zM181 4h1v1h-1zM188 4h1v1h-1zM198 4h1v1h-1zM203 4h1v1h-1zM222 4h2v1h-2zM243 4h1v1h-1zM247 4h1v1h-1zM253 4h1v1h-1zM256 4h1v1h-1zM264 4h1v1h-1zM137 5h1v1h-1zM140 5h1v1h-1zM159 5h1v1h-1zM166 5h1v1h-1zM181 5h2v1h-2zM222 5h1v1h-1zM236 5h1v1h-1zM254 5h1v1h-1zM259 5h1v1h-1zM261 5h1v1h-1zM36 6h1v1h-1zM48 6h1v1h-1zM60 6h1v1h-1zM83 6h1v1h-1zM95 6h1v1h-1zM99 6h1v1h-1zM102 6h1v1h-1zM134 6h1v1h-1zM137 6h1v1h-1zM146 6h1v1h-1zM150 6h1v1h-1zM152 6h1v1h-1zM168 6h1v1h-1zM183 6h1v1h-1zM191 6h1v1h-1zM199 6h2v1h-2zM205 6h1v1h-1zM216 6h1v1h-1zM223 6h1v1h-1zM244 6h1v1h-1zM269 6h1v1h-1zM130 7h1v1h-1zM144 7h1v1h-1zM162 7h1v1h-1zM172 7h1v1h-1zM182 7h1v1h-1zM192 7h1v1h-1zM197 7h1v1h-1zM216 7h1v1h-1zM221 7h2v1h-2zM225 7h1v1h-1zM230 7h1v1h-1zM232 7h1v1h-1zM236 7h1v1h-1zM247 7h1v1h-1zM251 7h1v1h-1zM267 7h1v1h-1zM54 8h1v1h-1zM73 8h1v1h-1zM75 8h1v1h-1zM88 8h1v1h-1zM144 8h1v1h-1zM155 8h1v1h-1zM157 8h1v1h-1zM160 8h1v1h-1zM171 8h1v1h-1zM230 8h4v1h-4zM241 8h1v1h-1zM247 8h1v1h-1zM267 8h1v1h-1zM7 9h1v1h-1zM15 9h1v1h-1zM25 9h1v1h-1zM56 9h1v1h-1zM72 9h1v1h-1zM74 9h2v1h-2zM100 9h1v1h-1zM114 9h1v1h-1zM159 9h1v1h-1zM171 9h1v1h-1zM187 9h1v1h-1zM205 9h1v1h-1zM217 9h1v1h-1zM230 9h1v1h-1zM254 9h1v1h-1zM257 9h1v1h-1zM1 10h1v1h-1zM7 10h1v1h-1zM10 10h1v1h-1zM23 10h1v1h-1zM25 10h1v1h-1zM46 10h1v1h-1zM74 10h1v1h-1zM90 10h1v1h-1zM92 10h1v1h-1zM132 10h1v1h-1zM189 10h1v1h-1zM191 10h1v1h-1zM200 10h1v1h-1zM227 10h1v1h-1zM6 11h1v1h-1zM13 11h1v1h-1zM21 11h1v1h-1zM24 11h1v1h-1zM35 11h1v1h-1zM48 11h1v1h-1zM52 11h1v1h-1zM58 11h1v1h-1zM64 11h1v1h-1zM75 11h1v1h-1zM103 11h1v1h-1zM127 11h1v1h-1zM171 11h1v1h-1zM182 11h2v1h-2zM203 11h1v1h-1zM6 12h1v1h-1zM10 12h1v1h-1zM33 12h1v1h-1zM38 12h1v1h-1zM51 12h1v1h-1zM54 12h1v1h-1zM65 12h1v1h-1zM83 12h1v1h-1zM90 12h2v1h-2zM105 12h1v1h-1zM108 12h1v1h-1zM110 12h1v1h-1zM140 12h1v1h-1zM187 12h1v1h-1zM204 12h1v1h-1zM246 12h1v1h-1zM248 12h1v1h-1zM6 13h1v1h-1zM8 13h1v1h-1zM46 13h1v1h-1zM55 13h1v1h-1zM102 13h1v1h-1zM175 13h1v1h-1zM180 13h1v1h-1zM192 13h1v1h-1zM198 13h1v1h-1zM233 13h1v1h-1zM238 13h1v1h-1zM1 14h1v1h-1zM12 14h2v1h-2zM21 14h1v1h-1zM29 14h1v1h-1zM43 14h1v1h-1zM56 14h1v1h-1zM90 14h2v1h-2zM114 14h1v1h-1zM132 14h1v1h-1zM189 14h1v1h-1zM214 14h1v1h-1zM253 14h1v1h-1zM5 15h1v1h-1zM10 15h1v1h-1zM40 15h1v1h-1zM52 15h1v1h-1zM58 15h1v1h-1zM77 15h2v1h-2zM80 15h1v1h-1zM112 15h1v1h-1zM116 15h1v1h-1zM169 15h1v1h-1zM182 15h1v1h-1zM208 15h1v1h-1zM212 15h1v1h-1zM228 15h1v1h-1zM258 15h1v1h-1zM1 16h1v1h-1zM11 16h1v1h-1zM13 16h1v1h-1zM21 16h1v1h-1zM24 16h2v1h-2zM50 16h1v1h-1zM55 16h1v1h-1zM57 16h1v1h-1zM65 16h1v1h-1zM72 16h2v1h-2zM85 16h1v1h-1zM89 16h1v1h-1zM91 16h1v1h-1zM101 16h1v1h-1zM111 16h1v1h-1zM133 16h1v1h-1zM179 16h1v1h-1zM201 16h1v1h-1zM211 16h1v1h-1zM219 16h1v1h-1zM261 16h1v1h-1zM14 17h1v1h-1zM17 17h1v1h-1zM38 17h1v1h-1zM40 17h2v1h-2zM83 17h1v1h-1zM85 17h1v1h-1zM89 17h1v1h-1zM101 17h1v1h-1zM132 17h1v1h-1zM146 17h1v1h-1zM167 17h1v1h-1zM172 17h1v1h-1zM221 17h1v1h-1zM263 17h1v1h-1zM2 18h1v1h-1zM23 18h2v1h-2zM38 18h1v1h-1zM54 18h1v1h-1zM61 18h1v1h-1zM70 18h1v1h-1zM76 18h1v1h-1zM89 18h1v1h-1zM101 18h1v1h-1zM106 18h1v1h-1zM157 18h1v1h-1zM160 18h1v1h-1zM181 18h1v1h-1zM191 18h2v1h-2zM251 18h1v1h-1zM6 19h1v1h-1zM12 19h1v1h-1zM17 19h2v1h-2zM37 19h1v1h-1zM42 19h1v1h-1zM52 19h1v1h-1zM55 19h1v1h-1zM58 19h1v1h-1zM66 19h1v1h-1zM96 19h1v1h-1zM102 19h1v1h-1zM110 19h1v1h-1zM112 19h1v1h-1zM135 19h1v1h-1zM160 19h1v1h-1zM172 19h1v1h-1zM179 19h1v1h-1zM219 19h1v1h-1zM228 19h1v1h-1zM242 19h1v1h-1zM245 19h1v1h-1zM255 19h1v1h-1z"/>
<path fill="#fcf4d9" d="M32 0h1v1h-1zM36 0h1v1h-1zM48 0h1v1h-1zM51 0h1v1h-1zM72 0h1v1h-1zM97 0h1v1h-1zM134 0h1v1h-1zM144 0h1v1h-1zM161 0h1v1h-1zM166 0h1v1h-1zM183 0h1v1h-1zM187 0h1v1h-1zM199 0h1v1h-1zM214 0h2v1h-2zM218 0h1v1h-1zM224 0h1v1h-1zM243 0h1v1h-1zM247 0h1v1h-1zM252 0h1v1h-1zM257 0h1v1h-1zM36 1h1v1h-1zM56 1h1v1h-1zM80 1h1v1h-1zM118 1h1v1h-1zM122 1h1v1h-1zM124 1h1v1h-1zM150 1h1v1h-1zM156 1h1v1h-1zM161 1h2v1h-2zM183 1h1v1h-1zM187 1h1v1h-1zM199 1h1v1h-1zM208 1h1v1h-1zM221 1h1v1h-1zM238 1h1v1h-1zM243 1h1v1h-1zM253 1h2v1h-2zM256 1h2v1h-2zM265 1h1v1h-1zM117 2h1v1h-1zM122 2h2v1h-2zM131 2h1v1h-1zM141 2h2v1h-2zM155 2h1v1h-1zM168 2h1v1h-1zM172 2h1v1h-1zM190 2h1v1h-1zM204 2h1v1h-1zM241 2h1v1h-1zM251 2h1v1h-1zM254 2h1v1h-1zM16 3h1v1h-1zM115 3h1v1h-1zM122 3h1v1h-1zM127 3h1v1h-1zM134 3h1v1h-1zM136 3h1v1h-1zM164 3h1v1h-1zM175 3h1v1h-1zM180 3h1v1h-1zM185 3h1v1h-1zM189 3h1v1h-1zM197 3h1v1h-1zM200 3h1v1h-1zM208 3h1v1h-1zM216 3h1v1h-1zM227 3h1v1h-1zM241 3h1v1h-1zM248 3h1v1h-1zM251 3h1v1h-1zM255 3h2v1h-2zM259 3h1v1h-1zM264 3h2v1h-2zM122 4h1v1h-1zM134 4h1v1h-1zM137 4h3v1h-3zM149 4h1v1h-1zM153 4h1v1h-1zM156 4h1v1h-1zM172 4h1v1h-1zM206 4h1v1h-1zM215 4h1v1h-1zM236 4h2v1h-2zM250 4h1v1h-1zM261 4h1v1h-1zM269 4h1v1h-1zM41 5h1v1h-1zM62 5h1v1h-1zM88 5h1v1h-1zM108 5h1v1h-1zM117 5h1v1h-1zM142 5h1v1h-1zM153 5h1v1h-1zM177 5h1v1h-1zM189 5h1v1h-1zM197 5h2v1h-2zM204 5h1v1h-1zM223 5h1v1h-1zM233 5h1v1h-1zM245 5h1v1h-1zM260 5h1v1h-1zM269 5h1v1h-1zM62 6h1v1h-1zM89 6h1v1h-1zM118 6h1v1h-1zM126 6h1v1h-1zM128 6h1v1h-1zM136 6h1v1h-1zM149 6h1v1h-1zM160 6h2v1h-2zM165 6h1v1h-1zM173 6h1v1h-1zM176 6h1v1h-1zM189 6h2v1h-2zM233 6h1v1h-1zM241 6h2v1h-2zM245 6h1v1h-1zM268 6h1v1h-1zM16 7h1v1h-1zM26 7h1v1h-1zM56 7h1v1h-1zM64 7h1v1h-1zM85 7h2v1h-2zM118 7h1v1h-1zM137 7h1v1h-1zM145 7h1v1h-1zM149 7h1v1h-1zM204 7h1v1h-1zM206 7h1v1h-1zM219 7h2v1h-2zM233 7h1v1h-1zM256 7h2v1h-2zM11 8h1v1h-1zM15 8h1v1h-1zM20 8h1v1h-1zM90 8h1v1h-1zM96 8h1v1h-1zM105 8h1v1h-1zM108 8h1v1h-1zM127 8h1v1h-1zM164 8h1v1h-1zM168 8h1v1h-1zM177 8h1v1h-1zM193 8h1v1h-1zM195 8h1v1h-1zM208 8h1v1h-1zM210 8h1v1h-1zM228 8h1v1h-1zM237 8h1v1h-1zM254 8h1v1h-1zM23 9h1v1h-1zM64 9h1v1h-1zM73 9h1v1h-1zM76 9h2v1h-2zM86 9h1v1h-1zM183 9h1v1h-1zM190 9h1v1h-1zM200 9h1v1h-1zM213 9h1v1h-1zM256 9h1v1h-1zM11 10h1v1h-1zM20 10h1v1h-1zM24 10h1v1h-1zM26 10h1v1h-1zM50 10h1v1h-1zM52 10h1v1h-1zM62 10h1v1h-1zM68 10h1v1h-1zM77 10h1v1h-1zM79 10h1v1h-1zM81 10h1v1h-1zM84 10h1v1h-1zM89 10h1v1h-1zM91 10h1v1h-1zM97 10h1v1h-1zM103 10h1v1h-1zM137 10h1v1h-1zM140 10h1v1h-1zM151 10h1v1h-1zM201 10h2v1h-2zM211 10h2v1h-2zM252 10h1v1h-1zM263 10h1v1h-1zM20 11h1v1h-1zM25 11h1v1h-1zM27 11h1v1h-1zM43 11h1v1h-1zM65 11h1v1h-1zM85 11h2v1h-2zM93 11h1v1h-1zM107 11h1v1h-1zM162 11h1v1h-1zM181 11h1v1h-1zM206 11h1v1h-1zM211 11h1v1h-1zM229 11h1v1h-1zM242 11h1v1h-1zM11 12h1v1h-1zM15 12h1v1h-1zM35 12h1v1h-1zM40 12h1v1h-1zM42 12h1v1h-1zM56 12h1v1h-1zM62 12h1v1h-1zM72 12h1v1h-1zM85 12h1v1h-1zM89 12h1v1h-1zM96 12h1v1h-1zM102 12h1v1h-1zM107 12h1v1h-1zM258 12h1v1h-1zM17 13h1v1h-1zM63 13h1v1h-1zM76 13h2v1h-2zM89 13h2v1h-2zM94 13h1v1h-1zM98 13h1v1h-1zM108 13h1v1h-1zM157 13h1v1h-1zM214 13h1v1h-1zM216 13h1v1h-1zM23 14h1v1h-1zM33 14h1v1h-1zM52 14h1v1h-1zM66 14h1v1h-1zM73 14h2v1h-2zM80 14h1v1h-1zM84 14h2v1h-2zM87 14h1v1h-1zM97 14h1v1h-1zM108 14h1v1h-1zM169 14h1v1h-1zM211 14h1v1h-1zM229 14h1v1h-1zM255 14h1v1h-1zM257 14h1v1h-1zM11 15h1v1h-1zM34 15h2v1h-2zM41 15h1v1h-1zM43 15h1v1h-1zM46 15h1v1h-1zM56 15h1v1h-1zM60 15h1v1h-1zM73 15h1v1h-1zM82 15h1v1h-1zM85 15h1v1h-1zM172 15h1v1h-1zM206 15h1v1h-1zM219 15h1v1h-1zM20 16h1v1h-1zM23 16h1v1h-1zM42 16h1v1h-1zM52 16h3v1h-3zM64 16h1v1h-1zM90 16h1v1h-1zM92 16h1v1h-1zM95 16h2v1h-2zM99 16h1v1h-1zM102 16h1v1h-1zM176 16h1v1h-1zM181 16h1v1h-1zM15 17h2v1h-2zM25 17h3v1h-3zM35 17h1v1h-1zM43 17h2v1h-2zM46 17h1v1h-1zM71 17h1v1h-1zM74 17h1v1h-1zM77 17h1v1h-1zM97 17h1v1h-1zM116 17h1v1h-1zM126 17h1v1h-1zM157 17h1v1h-1zM191 17h1v1h-1zM198 17h1v1h-1zM203 17h1v1h-1zM219 17h1v1h-1zM260 17h1v1h-1zM7 18h1v1h-1zM10 18h1v1h-1zM37 18h1v1h-1zM41 18h1v1h-1zM44 18h1v1h-1zM46 18h1v1h-1zM52 18h1v1h-1zM68 18h1v1h-1zM71 18h2v1h-2zM86 18h1v1h-1zM95 18h1v1h-1zM116 18h1v1h-1zM132 18h1v1h-1zM169 18h1v1h-1zM189 18h1v1h-1zM2 19h1v1h-1zM9 19h1v1h-1zM22 19h1v1h-1zM26 19h1v1h-1zM38 19h1v1h-1zM45 19h1v1h-1zM56 19h2v1h-2zM59 19h1v1h-1zM64 19h1v1h-1zM79 19h1v1h-1zM95 19h1v1h-1zM107 19h1v1h-1zM244 19h1v1h-1zM247 19h1v1h-1zM254 19h1v1h-1zM263 19h1v1h-1z"/>
<path fill="#fbefca" d="M31 0h1v1h-1zM37 0h1v1h-1zM56 0h1v1h-1zM65 0h1v1h-1zM76 0h1v1h-1zM99 0h1v1h-1zM117 0h1v1h-1zM136 0h1v1h-1zM149 0h2v1h-2zM152 0h1v1h-1zM156 0h1v1h-1zM158 0h1v1h-1zM168 0h1v1h-1zM209 0h1v1h-1zM230 0h1v1h-1zM240 0h1v1h-1zM248 0h1v1h-1zM250 0h1v1h-1zM265 0h2v1h-2zM52 1h1v1h-1zM108 1h1v1h-1zM123 1h1v1h-1zM132 1h1v1h-1zM134 1h1v1h-1zM165 1h1v1h-1zM168 1h1v1h-1zM172 1h1v1h-1zM175 1h1v1h-1zM177 1h1v1h-1zM211 1h1v1h-1zM214 1h1v1h-1zM231 1h1v1h-1zM237 1h1v1h-1zM258 1h1v1h-1zM261 1h1v1h-1zM264 1h1v1h-1zM135 2h1v1h-1zM152 2h1v1h-1zM159 2h1v1h-1zM161 2h1v1h-1zM178 2h1v1h-1zM187 2h1v1h-1zM208 2h1v1h-1zM214 2h1v1h-1zM220 2h1v1h-1zM235 2h1v1h-1zM237 2h2v1h-2zM242 2h1v1h-1zM244 2h2v1h-2zM250 2h1v1h-1zM264 2h1v1h-1zM267 2h1v1h-1zM83 3h1v1h-1zM117 3h1v1h-1zM124 3h1v1h-1zM137 3h1v1h-1zM139 3h1v1h-1zM153 3h1v1h-1zM168 3h1v1h-1zM187 3h2v1h-2zM191 3h1v1h-1zM193 3h1v1h-1zM218 3h1v1h-1zM231 3h1v1h-1zM234 3h1v1h-1zM250 3h1v1h-1zM48 4h1v1h-1zM152 4h1v1h-1zM159 4h1v1h-1zM165 4h2v1h-2zM195 4h1v1h-1zM199 4h1v1h-1zM201 4h1v1h-1zM205 4h1v1h-1zM209 4h1v1h-1zM214 4h1v1h-1zM224 4h1v1h-1zM226 4h1v1h-1zM242 4h1v1h-1zM245 4h1v1h-1zM36 5h1v1h-1zM83 5h1v1h-1zM89 5h1v1h-1zM130 5h1v1h-1zM141 5h1v1h-1zM156 5h1v1h-1zM160 5h1v1h-1zM164 5h1v1h-1zM180 5h1v1h-1zM184 5h1v1h-1zM187 5h1v1h-1zM203 5h1v1h-1zM206 5h1v1h-1zM221 5h1v1h-1zM224 5h1v1h-1zM230 5h1v1h-1zM240 5h1v1h-1zM244 5h1v1h-1zM247 5h1v1h-1zM249 5h1v1h-1zM252 5h2v1h-2zM258 5h1v1h-1zM12 6h1v1h-1zM52 6h1v1h-1zM115 6h1v1h-1zM117 6h1v1h-1zM131 6h1v1h-1zM166 6h1v1h-1zM204 6h1v1h-1zM211 6h1v1h-1zM219 6h1v1h-1zM228 6h1v1h-1zM230 6h1v1h-1zM238 6h1v1h-1zM243 6h1v1h-1zM250 6h2v1h-2zM253 6h1v1h-1zM267 6h1v1h-1zM134 7h1v1h-1zM140 7h2v1h-2zM148 7h1v1h-1zM153 7h1v1h-1zM158 7h1v1h-1zM164 7h1v1h-1zM198 7h1v1h-1zM205 7h1v1h-1zM218 7h1v1h-1zM223 7h1v1h-1zM235 7h1v1h-1zM240 7h1v1h-1zM260 7h1v1h-1zM62 8h1v1h-1zM65 8h1v1h-1zM129 8h1v1h-1zM132 8h1v1h-1zM135 8h2v1h-2zM138 8h1v1h-1zM148 8h1v1h-1zM152 8h1v1h-1zM178 8h1v1h-1zM200 8h1v1h-1zM204 8h1v1h-1zM209 8h1v1h-1zM211 8h1v1h-1zM216 8h1v1h-1zM242 8h1v1h-1zM252 8h1v1h-1zM259 8h1v1h-1zM265 8h1v1h-1zM269 8h1v1h-1zM16 9h1v1h-1zM26 9h1v1h-1zM66 9h1v1h-1zM96 9h1v1h-1zM101 9h1v1h-1zM116 9h1v1h-1zM119 9h1v1h-1zM122 9h1v1h-1zM125 9h1v1h-1zM136 9h2v1h-2zM140 9h3v1h-3zM144 9h1v1h-1zM146 9h1v1h-1zM148 9h1v1h-1zM153 9h1v1h-1zM195 9h1v1h-1zM199 9h1v1h-1zM201 9h1v1h-1zM206 9h1v1h-1zM209 9h1v1h-1zM234 9h1v1h-1zM236 9h1v1h-1zM252 9h1v1h-1zM261 9h1v1h-1zM38 10h1v1h-1zM41 10h1v1h-1zM58 10h1v1h-1zM63 10h1v1h-1zM71 10h1v1h-1zM95 10h1v1h-1zM98 10h1v1h-1zM146 10h1v1h-1zM167 10h1v1h-1zM176 10h1v1h-1zM192 10h1v1h-1zM219 10h1v1h-1zM1 11h2v1h-2zM12 11h1v1h-1zM22 11h1v1h-1zM29 11h1v1h-1zM38 11h1v1h-1zM46 11h1v1h-1zM57 11h1v1h-1zM63 11h1v1h-1zM68 11h1v1h-1zM74 11h1v1h-1zM81 11h1v1h-1zM94 11h1v1h-1zM110 11h1v1h-1zM114 11h3v1h-3zM202 11h1v1h-1zM212 11h1v1h-1zM255 11h1v1h-1zM260 11h1v1h-1zM12 12h1v1h-1zM22 12h1v1h-1zM24 12h1v1h-1zM52 12h2v1h-2zM67 12h1v1h-1zM75 12h1v1h-1zM84 12h1v1h-1zM92 12h1v1h-1zM94 12h1v1h-1zM98 12h1v1h-1zM167 12h2v1h-2zM189 12h1v1h-1zM219 12h1v1h-1zM247 12h1v1h-1zM2 13h1v1h-1zM23 13h1v1h-1zM29 13h1v1h-1zM31 13h1v1h-1zM38 13h1v1h-1zM42 13h2v1h-2zM45 13h1v1h-1zM50 13h1v1h-1zM54 13h1v1h-1zM56 13h1v1h-1zM60 13h1v1h-1zM65 13h1v1h-1zM74 13h1v1h-1zM79 13h1v1h-1zM84 13h1v1h-1zM92 13h1v1h-1zM110 13h1v1h-1zM182 13h1v1h-1zM202 13h1v1h-1zM227 13h1v1h-1zM229 13h1v1h-1zM253 13h1v1h-1zM6 14h1v1h-1zM11 14h1v1h-1zM24 14h1v1h-1zM27 14h1v1h-1zM35 14h1v1h-1zM59 14h1v1h-1zM62 14h1v1h-1zM65 14h1v1h-1zM95 14h1v1h-1zM98 14h1v1h-1zM101 14h1v1h-1zM103 14h1v1h-1zM150 14h1v1h-1zM171 14h1v1h-1zM202 14h1v1h-1zM212 14h1v1h-1zM13 15h1v1h-1zM18 15h1v1h-1zM24 15h1v1h-1zM29 15h1v1h-1zM57 15h1v1h-1zM65 15h1v1h-1zM92 15h1v1h-1zM95 15h1v1h-1zM97 15h1v1h-1zM103 15h1v1h-1zM114 15h1v1h-1zM132 15h1v1h-1zM146 15h1v1h-1zM176 15h1v1h-1zM179 15h1v1h-1zM192 15h1v1h-1zM202 15h2v1h-2zM229 15h1v1h-1zM6 16h1v1h-1zM9 16h1v1h-1zM14 16h1v1h-1zM33 16h1v1h-1zM41 16h1v1h-1zM49 16h1v1h-1zM61 16h1v1h-1zM79 16h1v1h-1zM84 16h1v1h-1zM160 16h1v1h-1zM198 16h1v1h-1zM248 16h1v1h-1zM8 17h2v1h-2zM24 17h1v1h-1zM33 17h1v1h-1zM58 17h1v1h-1zM61 17h1v1h-1zM64 17h1v1h-1zM68 17h1v1h-1zM72 17h1v1h-1zM75 17h1v1h-1zM98 17h1v1h-1zM103 17h1v1h-1zM107 17h1v1h-1zM114 17h1v1h-1zM162 17h1v1h-1zM211 17h1v1h-1zM227 17h1v1h-1zM247 17h1v1h-1zM259 17h1v1h-1zM1 18h1v1h-1zM21 18h1v1h-1zM33 18h1v1h-1zM48 18h1v1h-1zM51 18h1v1h-1zM56 18h1v1h-1zM60 18h1v1h-1zM66 18h1v1h-1zM69 18h1v1h-1zM75 18h1v1h-1zM93 18h1v1h-1zM105 18h1v1h-1zM111 18h1v1h-1zM162 18h1v1h-1zM212 18h1v1h-1zM28 19h1v1h-1zM30 19h1v1h-1zM43 19h1v1h-1zM47 19h1v1h-1zM60 19h1v1h-1zM63 19h1v1h-1zM77 19h1v1h-1zM86 19h1v1h-1zM91 19h1v1h-1zM118 19h1v1h-1zM171 19h1v1h-1zM189 19h1v1h-1zM217 19h1v1h-1zM232 19h1v1h-1z"/>
<path fill="#faebbb" d="M94 0h1v1h-1zM116 0h1v1h-1zM118 0h1v1h-1zM154 0h1v1h-1zM165 0h1v1h-1zM176 0h1v1h-1zM181 0h1v1h-1zM184 0h1v1h-1zM186 0h1v1h-1zM207 0h1v1h-1zM242 0h1v1h-1zM251 0h1v1h-1zM16 1h1v1h-1zM127 1h2v1h-2zM130 1h1v1h-1zM138 1h1v1h-1zM142 1h1v1h-1zM145 1h1v1h-1zM159 1h1v1h-1zM170 1h1v1h-1zM179 1h1v1h-1zM185 1h1v1h-1zM198 1h1v1h-1zM205 1h1v1h-1zM262 1h1v1h-1zM50 2h1v1h-1zM118 2h1v1h-1zM121 2h1v1h-1zM124 2h1v1h-1zM143 2h1v1h-1zM147 2h1v1h-1zM151 2h1v1h-1zM160 2h1v1h-1zM164 2h1v1h-1zM185 2h1v1h-1zM196 2h1v1h-1zM205 2h1v1h-1zM213 2h1v1h-1zM223 2h1v1h-1zM236 2h1v1h-1zM253 2h1v1h-1zM255 2h1v1h-1zM118 3h1v1h-1zM138 3h1v1h-1zM142 3h1v1h-1zM145 3h1v1h-1zM149 3h1v1h-1zM155 3h1v1h-1zM158 3h1v1h-1zM209 3h2v1h-2zM220 3h1v1h-1zM230 3h1v1h-1zM236 3h1v1h-1zM244 3h1v1h-1zM253 3h1v1h-1zM16 4h1v1h-1zM36 4h1v1h-1zM121 4h1v1h-1zM123 4h1v1h-1zM131 4h1v1h-1zM136 4h1v1h-1zM141 4h1v1h-1zM145 4h1v1h-1zM147 4h1v1h-1zM155 4h1v1h-1zM161 4h1v1h-1zM164 4h1v1h-1zM197 4h1v1h-1zM204 4h1v1h-1zM220 4h1v1h-1zM225 4h1v1h-1zM235 4h1v1h-1zM244 4h1v1h-1zM248 4h1v1h-1zM251 4h1v1h-1zM86 5h1v1h-1zM118 5h1v1h-1zM145 5h1v1h-1zM155 5h1v1h-1zM158 5h1v1h-1zM190 5h1v1h-1zM218 5h1v1h-1zM234 5h2v1h-2zM238 5h1v1h-1zM241 5h1v1h-1zM246 5h1v1h-1zM265 5h1v1h-1zM155 6h1v1h-1zM159 6h1v1h-1zM177 6h2v1h-2zM184 6h2v1h-2zM187 6h2v1h-2zM195 6h1v1h-1zM214 6h1v1h-1zM217 6h1v1h-1zM225 6h2v1h-2zM231 6h1v1h-1zM236 6h1v1h-1zM239 6h1v1h-1zM259 6h1v1h-1zM266 6h1v1h-1zM36 7h1v1h-1zM89 7h1v1h-1zM119 7h1v1h-1zM124 7h1v1h-1zM131 7h1v1h-1zM155 7h1v1h-1zM159 7h1v1h-1zM168 7h1v1h-1zM196 7h1v1h-1zM199 7h1v1h-1zM215 7h1v1h-1zM234 7h1v1h-1zM238 7h1v1h-1zM252 7h1v1h-1zM254 7h1v1h-1zM268 7h2v1h-2zM83 8h1v1h-1zM121 8h1v1h-1zM123 8h1v1h-1zM147 8h1v1h-1zM150 8h1v1h-1zM161 8h1v1h-1zM170 8h1v1h-1zM173 8h1v1h-1zM181 8h1v1h-1zM223 8h3v1h-3zM261 8h1v1h-1zM13 9h1v1h-1zM36 9h1v1h-1zM48 9h1v1h-1zM91 9h1v1h-1zM108 9h1v1h-1zM112 9h1v1h-1zM123 9h1v1h-1zM129 9h2v1h-2zM154 9h1v1h-1zM161 9h1v1h-1zM188 9h1v1h-1zM197 9h1v1h-1zM210 9h1v1h-1zM223 9h1v1h-1zM240 9h1v1h-1zM253 9h1v1h-1zM268 9h1v1h-1zM3 10h1v1h-1zM5 10h1v1h-1zM18 10h1v1h-1zM51 10h1v1h-1zM55 10h1v1h-1zM75 10h1v1h-1zM85 10h1v1h-1zM101 10h1v1h-1zM157 10h1v1h-1zM182 10h1v1h-1zM237 10h1v1h-1zM10 11h1v1h-1zM19 11h1v1h-1zM23 11h1v1h-1zM30 11h2v1h-2zM33 11h1v1h-1zM49 11h2v1h-2zM61 11h1v1h-1zM67 11h1v1h-1zM77 11h1v1h-1zM79 11h1v1h-1zM90 11h3v1h-3zM97 11h2v1h-2zM189 11h1v1h-1zM258 11h1v1h-1zM1 12h1v1h-1zM5 12h1v1h-1zM19 12h3v1h-3zM25 12h1v1h-1zM34 12h1v1h-1zM55 12h1v1h-1zM60 12h1v1h-1zM64 12h1v1h-1zM76 12h2v1h-2zM79 12h1v1h-1zM95 12h1v1h-1zM116 12h1v1h-1zM126 12h1v1h-1zM132 12h1v1h-1zM192 12h1v1h-1zM202 12h1v1h-1zM1 13h1v1h-1zM10 13h1v1h-1zM14 13h1v1h-1zM35 13h1v1h-1zM39 13h1v1h-1zM44 13h1v1h-1zM64 13h1v1h-1zM69 13h1v1h-1zM81 13h1v1h-1zM111 13h1v1h-1zM179 13h1v1h-1zM261 13h1v1h-1zM5 14h1v1h-1zM25 14h1v1h-1zM54 14h1v1h-1zM57 14h2v1h-2zM60 14h1v1h-1zM68 14h2v1h-2zM71 14h2v1h-2zM75 14h1v1h-1zM79 14h1v1h-1zM81 14h1v1h-1zM100 14h1v1h-1zM105 14h2v1h-2zM110 14h2v1h-2zM157 14h1v1h-1zM219 14h1v1h-1zM263 14h1v1h-1zM14 15h2v1h-2zM17 15h1v1h-1zM37 15h1v1h-1zM42 15h1v1h-1zM51 15h1v1h-1zM53 15h2v1h-2zM63 15h1v1h-1zM90 15h1v1h-1zM107 15h1v1h-1zM157 15h1v1h-1zM263 15h1v1h-1zM0 16h1v1h-1zM7 16h1v1h-1zM12 16h1v1h-1zM17 16h1v1h-1zM27 16h1v1h-1zM37 16h1v1h-1zM44 16h1v1h-1zM48 16h1v1h-1zM51 16h1v1h-1zM58 16h1v1h-1zM68 16h1v1h-1zM70 16h2v1h-2zM82 16h1v1h-1zM94 16h1v1h-1zM103 16h1v1h-1zM107 16h1v1h-1zM192 16h1v1h-1zM212 16h1v1h-1zM1 17h1v1h-1zM10 17h1v1h-1zM37 17h1v1h-1zM47 17h1v1h-1zM67 17h1v1h-1zM82 17h1v1h-1zM94 17h1v1h-1zM108 17h1v1h-1zM110 17h1v1h-1zM112 17h1v1h-1zM115 17h1v1h-1zM151 17h1v1h-1zM160 17h1v1h-1zM169 17h1v1h-1zM4 18h1v1h-1zM14 18h2v1h-2zM18 18h1v1h-1zM22 18h1v1h-1zM40 18h1v1h-1zM43 18h1v1h-1zM55 18h1v1h-1zM90 18h1v1h-1zM97 18h1v1h-1zM103 18h1v1h-1zM114 18h1v1h-1zM263 18h1v1h-1zM4 19h1v1h-1zM8 19h1v1h-1zM25 19h1v1h-1zM34 19h1v1h-1zM39 19h1v1h-1zM41 19h1v1h-1zM76 19h1v1h-1zM84 19h1v1h-1zM97 19h1v1h-1zM100 19h1v1h-1zM111 19h1v1h-1z"/>
<path fill="#f9e6ab" d="M173 0h1v1h-1zM197 0h1v1h-1zM210 0h1v1h-1zM220 0h1v1h-1zM238 0h1v1h-1zM258 0h1v1h-1zM121 1h1v1h-1zM136 1h1v1h-1zM139 1h1v1h-1zM149 1h1v1h-1zM152 1h1v1h-1zM186 1h1v1h-1zM190 1h1v1h-1zM209 1h1v1h-1zM218 1h1v1h-1zM225 1h1v1h-1zM233 1h2v1h-2zM239 1h2v1h-2zM242 1h1v1h-1zM250 1h1v1h-1zM267 1h1v1h-1zM16 2h1v1h-1zM149 2h1v1h-1zM170 2h1v1h-1zM177 2h1v1h-1zM193 2h1v1h-1zM197 2h1v1h-1zM217 2h1v1h-1zM224 2h1v1h-1zM243 2h1v1h-1zM246 2h1v1h-1zM261 2h1v1h-1zM121 3h1v1h-1zM131 3h1v1h-1zM141 3h1v1h-1zM184 3h1v1h-1zM213 3h1v1h-1zM226 3h1v1h-1zM267 3h1v1h-1zM130 4h1v1h-1zM133 4h1v1h-1zM142 4h1v1h-1zM158 4h1v1h-1zM170 4h1v1h-1zM173 4h1v1h-1zM179 4h1v1h-1zM216 4h2v1h-2zM233 4h2v1h-2zM240 4h1v1h-1zM254 4h1v1h-1zM259 4h1v1h-1zM120 5h1v1h-1zM127 5h2v1h-2zM138 5h1v1h-1zM152 5h1v1h-1zM174 5h1v1h-1zM209 5h1v1h-1zM213 5h1v1h-1zM215 5h1v1h-1zM225 5h1v1h-1zM251 5h1v1h-1zM88 6h1v1h-1zM119 6h1v1h-1zM123 6h1v1h-1zM129 6h1v1h-1zM135 6h1v1h-1zM139 6h1v1h-1zM147 6h2v1h-2zM170 6h1v1h-1zM172 6h1v1h-1zM179 6h1v1h-1zM215 6h1v1h-1zM218 6h1v1h-1zM221 6h1v1h-1zM240 6h1v1h-1zM249 6h1v1h-1zM256 6h2v1h-2zM123 7h1v1h-1zM136 7h1v1h-1zM138 7h1v1h-1zM152 7h1v1h-1zM161 7h1v1h-1zM173 7h1v1h-1zM178 7h1v1h-1zM187 7h1v1h-1zM193 7h1v1h-1zM207 7h2v1h-2zM213 7h1v1h-1zM246 7h1v1h-1zM119 8h1v1h-1zM189 8h1v1h-1zM214 8h1v1h-1zM218 8h1v1h-1zM220 8h1v1h-1zM235 8h1v1h-1zM239 8h1v1h-1zM253 8h1v1h-1zM6 9h1v1h-1zM52 9h1v1h-1zM103 9h1v1h-1zM147 9h1v1h-1zM155 9h1v1h-1zM170 9h1v1h-1zM172 9h1v1h-1zM177 9h1v1h-1zM182 9h1v1h-1zM185 9h1v1h-1zM215 9h1v1h-1zM220 9h1v1h-1zM226 9h1v1h-1zM243 9h1v1h-1zM262 9h1v1h-1zM267 9h1v1h-1zM6 10h1v1h-1zM15 10h1v1h-1zM21 10h2v1h-2zM29 10h1v1h-1zM31 10h1v1h-1zM33 10h1v1h-1zM45 10h1v1h-1zM49 10h1v1h-1zM70 10h1v1h-1zM72 10h1v1h-1zM78 10h1v1h-1zM94 10h1v1h-1zM112 10h1v1h-1zM114 10h1v1h-1zM116 10h1v1h-1zM3 11h3v1h-3zM9 11h1v1h-1zM17 11h1v1h-1zM40 11h1v1h-1zM44 11h1v1h-1zM66 11h1v1h-1zM95 11h1v1h-1zM106 11h1v1h-1zM109 11h1v1h-1zM111 11h1v1h-1zM9 12h1v1h-1zM14 12h1v1h-1zM18 12h1v1h-1zM23 12h1v1h-1zM27 12h1v1h-1zM31 12h2v1h-2zM37 12h1v1h-1zM46 12h1v1h-1zM49 12h1v1h-1zM63 12h1v1h-1zM66 12h1v1h-1zM70 12h1v1h-1zM103 12h1v1h-1zM227 12h1v1h-1zM229 12h1v1h-1zM263 12h1v1h-1zM5 13h1v1h-1zM15 13h1v1h-1zM37 13h1v1h-1zM49 13h1v1h-1zM51 13h1v1h-1zM58 13h1v1h-1zM67 13h1v1h-1zM85 13h3v1h-3zM100 13h1v1h-1zM103 13h1v1h-1zM105 13h1v1h-1zM107 13h1v1h-1zM114 13h1v1h-1zM14 14h2v1h-2zM34 14h1v1h-1zM40 14h1v1h-1zM46 14h1v1h-1zM49 14h2v1h-2zM63 14h1v1h-1zM0 15h1v1h-1zM25 15h1v1h-1zM30 15h1v1h-1zM33 15h1v1h-1zM44 15h1v1h-1zM50 15h1v1h-1zM68 15h1v1h-1zM70 15h2v1h-2zM84 15h1v1h-1zM86 15h1v1h-1zM94 15h1v1h-1zM104 15h1v1h-1zM110 15h2v1h-2zM151 15h1v1h-1zM29 16h1v1h-1zM31 16h1v1h-1zM63 16h1v1h-1zM93 16h1v1h-1zM98 16h1v1h-1zM100 16h1v1h-1zM112 16h1v1h-1zM116 16h1v1h-1zM132 16h1v1h-1zM5 17h1v1h-1zM11 17h1v1h-1zM13 17h1v1h-1zM21 17h2v1h-2zM29 17h1v1h-1zM34 17h1v1h-1zM55 17h1v1h-1zM57 17h1v1h-1zM59 17h1v1h-1zM66 17h1v1h-1zM81 17h1v1h-1zM86 17h1v1h-1zM95 17h2v1h-2zM176 17h1v1h-1zM27 18h1v1h-1zM31 18h1v1h-1zM42 18h1v1h-1zM57 18h1v1h-1zM59 18h1v1h-1zM91 18h2v1h-2zM94 18h1v1h-1zM98 18h1v1h-1zM109 18h1v1h-1zM112 18h1v1h-1zM175 18h1v1h-1zM19 19h1v1h-1zM23 19h1v1h-1zM31 19h2v1h-2zM78 19h1v1h-1zM87 19h1v1h-1zM132 19h1v1h-1zM157 19h1v1h-1z"/>
<path fill="#f8e29c" d="M12 0h1v1h-1zM75 0h1v1h-1zM119 0h1v1h-1zM121 0h1v1h-1zM123 0h1v1h-1zM128 0h1v1h-1zM142 0h1v1h-1zM148 0h1v1h-1zM155 0h1v1h-1zM178 0h1v1h-1zM194 0h1v1h-1zM200 0h1v1h-1zM267 0h1v1h-1zM269 0h1v1h-1zM164 1h1v1h-1zM178 1h1v1h-1zM216 1h1v1h-1zM224 1h1v1h-1zM226 1h1v1h-1zM119 2h1v1h-1zM128 2h1v1h-1zM133 2h1v1h-1zM153 2h1v1h-1zM174 2h1v1h-1zM186 2h1v1h-1zM210 2h1v1h-1zM225 2h1v1h-1zM231 2h1v1h-1zM240 2h1v1h-1zM262 2h1v1h-1zM128 3h2v1h-2zM147 3h1v1h-1zM159 3h1v1h-1zM170 3h1v1h-1zM194 3h2v1h-2zM205 3h1v1h-1zM215 3h1v1h-1zM224 3h2v1h-2zM233 3h1v1h-1zM235 3h1v1h-1zM239 3h1v1h-1zM245 3h1v1h-1zM249 3h1v1h-1zM254 3h1v1h-1zM257 3h1v1h-1zM269 3h1v1h-1zM125 4h1v1h-1zM177 4h2v1h-2zM185 4h2v1h-2zM189 4h1v1h-1zM193 4h2v1h-2zM207 4h1v1h-1zM239 4h1v1h-1zM255 4h1v1h-1zM258 4h1v1h-1zM262 4h1v1h-1zM119 5h1v1h-1zM121 5h1v1h-1zM133 5h1v1h-1zM143 5h1v1h-1zM148 5h1v1h-1zM161 5h1v1h-1zM173 5h1v1h-1zM196 5h1v1h-1zM199 5h1v1h-1zM226 5h1v1h-1zM250 5h1v1h-1zM121 6h1v1h-1zM141 6h1v1h-1zM143 6h1v1h-1zM158 6h1v1h-1zM164 6h1v1h-1zM174 6h1v1h-1zM210 6h1v1h-1zM224 6h1v1h-1zM235 6h1v1h-1zM260 6h1v1h-1zM264 6h1v1h-1zM122 7h1v1h-1zM128 7h1v1h-1zM142 7h1v1h-1zM165 7h1v1h-1zM186 7h1v1h-1zM194 7h1v1h-1zM210 7h2v1h-2zM217 7h1v1h-1zM237 7h1v1h-1zM241 7h1v1h-1zM248 7h1v1h-1zM250 7h1v1h-1zM253 7h1v1h-1zM262 7h1v1h-1zM16 8h1v1h-1zM26 8h1v1h-1zM36 8h1v1h-1zM120 8h1v1h-1zM143 8h1v1h-1zM149 8h1v1h-1zM154 8h1v1h-1zM163 8h1v1h-1zM165 8h1v1h-1zM213 8h1v1h-1zM268 8h1v1h-1zM83 9h1v1h-1zM115 9h1v1h-1zM121 9h1v1h-1zM152 9h1v1h-1zM164 9h1v1h-1zM184 9h1v1h-1zM194 9h1v1h-1zM216 9h1v1h-1zM249 9h1v1h-1zM8 10h1v1h-1zM32 10h1v1h-1zM34 10h1v1h-1zM42 10h1v1h-1zM53 10h1v1h-1zM107 10h1v1h-1zM110 10h1v1h-1zM18 11h1v1h-1zM42 11h1v1h-1zM51 11h1v1h-1zM59 11h1v1h-1zM69 11h1v1h-1zM71 11h1v1h-1zM78 11h1v1h-1zM82 11h1v1h-1zM105 11h1v1h-1zM112 11h1v1h-1zM3 12h1v1h-1zM8 12h1v1h-1zM44 12h1v1h-1zM59 12h1v1h-1zM71 12h1v1h-1zM93 12h1v1h-1zM157 12h1v1h-1zM203 12h1v1h-1zM212 12h1v1h-1zM21 13h1v1h-1zM33 13h1v1h-1zM40 13h1v1h-1zM53 13h1v1h-1zM71 13h1v1h-1zM91 13h1v1h-1zM167 13h1v1h-1zM19 14h2v1h-2zM37 14h1v1h-1zM41 14h1v1h-1zM44 14h1v1h-1zM47 14h1v1h-1zM51 14h1v1h-1zM53 14h1v1h-1zM55 14h1v1h-1zM61 14h1v1h-1zM82 14h1v1h-1zM192 14h1v1h-1zM1 15h1v1h-1zM6 15h1v1h-1zM9 15h1v1h-1zM20 15h1v1h-1zM49 15h1v1h-1zM55 15h1v1h-1zM59 15h1v1h-1zM67 15h1v1h-1zM98 15h1v1h-1zM15 16h1v1h-1zM18 16h1v1h-1zM34 16h1v1h-1zM43 16h1v1h-1zM46 16h1v1h-1zM78 16h1v1h-1zM3 17h1v1h-1zM20 17h1v1h-1zM31 17h1v1h-1zM42 17h1v1h-1zM51 17h1v1h-1zM65 17h1v1h-1zM78 17h1v1h-1zM84 17h1v1h-1zM90 17h3v1h-3zM3 18h1v1h-1zM29 18h1v1h-1zM82 18h1v1h-1zM84 18h1v1h-1zM15 19h1v1h-1zM40 19h1v1h-1zM67 19h1v1h-1zM69 19h1v1h-1zM93 19h1v1h-1zM105 19h1v1h-1zM212 19h1v1h-1z"/>
<path fill="#f7dd8d" d="M115 0h1v1h-1zM138 0h1v1h-1zM196 0h1v1h-1zM239 0h1v1h-1zM256 0h1v1h-1zM268 0h1v1h-1zM119 1h1v1h-1zM129 1h1v1h-1zM140 1h1v1h-1zM143 1h1v1h-1zM155 1h1v1h-1zM210 1h1v1h-1zM215 1h1v1h-1zM220 1h1v1h-1zM248 1h1v1h-1zM129 2h1v1h-1zM137 2h1v1h-1zM139 2h1v1h-1zM233 2h1v1h-1zM252 2h1v1h-1zM152 3h1v1h-1zM165 3h1v1h-1zM173 3h1v1h-1zM204 3h1v1h-1zM262 3h1v1h-1zM210 4h1v1h-1zM213 4h1v1h-1zM218 4h1v1h-1zM231 4h1v1h-1zM249 4h1v1h-1zM257 4h1v1h-1zM267 4h1v1h-1zM125 5h1v1h-1zM136 5h1v1h-1zM154 5h1v1h-1zM165 5h1v1h-1zM168 5h1v1h-1zM191 5h1v1h-1zM193 5h1v1h-1zM195 5h1v1h-1zM216 5h1v1h-1zM220 5h1v1h-1zM231 5h1v1h-1zM239 5h1v1h-1zM255 5h1v1h-1zM130 6h1v1h-1zM206 6h1v1h-1zM234 6h1v1h-1zM254 6h1v1h-1zM135 7h1v1h-1zM177 7h1v1h-1zM185 7h1v1h-1zM224 7h1v1h-1zM244 7h1v1h-1zM128 8h1v1h-1zM145 8h1v1h-1zM199 8h1v1h-1zM217 8h1v1h-1zM226 8h1v1h-1zM240 8h1v1h-1zM243 8h2v1h-2zM256 8h1v1h-1zM264 8h1v1h-1zM1 9h1v1h-1zM120 9h1v1h-1zM143 9h1v1h-1zM163 9h1v1h-1zM165 9h1v1h-1zM196 9h1v1h-1zM235 9h1v1h-1zM238 9h1v1h-1zM248 9h1v1h-1zM264 9h1v1h-1zM40 10h1v1h-1zM47 10h1v1h-1zM59 10h1v1h-1zM87 10h1v1h-1zM93 10h1v1h-1zM100 10h1v1h-1zM104 10h2v1h-2zM109 10h1v1h-1zM34 11h1v1h-1zM39 11h1v1h-1zM72 11h1v1h-1zM84 11h1v1h-1zM113 11h1v1h-1zM17 12h1v1h-1zM39 12h1v1h-1zM58 12h1v1h-1zM82 12h1v1h-1zM19 13h1v1h-1zM24 13h1v1h-1zM27 13h1v1h-1zM47 13h1v1h-1zM68 13h1v1h-1zM70 13h1v1h-1zM97 13h1v1h-1zM104 13h1v1h-1zM106 13h1v1h-1zM2 14h1v1h-1zM17 14h1v1h-1zM31 14h1v1h-1zM39 14h1v1h-1zM45 14h1v1h-1zM70 14h1v1h-1zM94 14h1v1h-1zM112 14h1v1h-1zM22 15h2v1h-2zM27 15h2v1h-2zM32 15h1v1h-1zM45 15h1v1h-1zM64 15h1v1h-1zM69 15h1v1h-1zM96 15h1v1h-1zM4 16h1v1h-1zM8 16h1v1h-1zM45 16h1v1h-1zM59 16h1v1h-1zM67 16h1v1h-1zM87 16h1v1h-1zM105 16h1v1h-1zM49 17h1v1h-1zM53 17h1v1h-1zM63 17h1v1h-1zM69 17h1v1h-1zM105 17h1v1h-1zM109 17h1v1h-1zM229 17h1v1h-1zM0 18h1v1h-1zM20 18h1v1h-1zM34 18h1v1h-1zM39 18h1v1h-1zM47 18h1v1h-1zM53 18h1v1h-1zM78 18h1v1h-1zM87 18h1v1h-1zM75 19h1v1h-1zM113 19h1v1h-1z"/>
<path fill="#f6d97e" d="M174 0h1v1h-1zM185 0h1v1h-1zM193 0h1v1h-1zM211 0h1v1h-1zM225 0h2v1h-2zM249 0h1v1h-1zM148 1h1v1h-1zM173 1h1v1h-1zM217 1h1v1h-1zM241 1h1v1h-1zM268 1h1v1h-1zM138 2h1v1h-1zM144 2h1v1h-1zM158 2h1v1h-1zM173 2h1v1h-1zM215 2h1v1h-1zM218 2h1v1h-1zM123 3h1v1h-1zM125 3h1v1h-1zM174 3h1v1h-1zM177 3h1v1h-1zM186 3h1v1h-1zM196 3h1v1h-1zM217 3h1v1h-1zM240 3h1v1h-1zM268 3h1v1h-1zM126 4h1v1h-1zM128 4h2v1h-2zM190 4h1v1h-1zM196 4h1v1h-1zM268 4h1v1h-1zM123 5h1v1h-1zM170 5h1v1h-1zM194 5h1v1h-1zM207 5h2v1h-2zM217 5h1v1h-1zM242 5h1v1h-1zM153 6h1v1h-1zM186 6h1v1h-1zM193 6h2v1h-2zM209 6h1v1h-1zM213 6h1v1h-1zM120 7h2v1h-2zM195 7h1v1h-1zM239 7h1v1h-1zM131 8h1v1h-1zM158 8h1v1h-1zM174 8h1v1h-1zM184 8h2v1h-2zM245 8h1v1h-1zM250 8h1v1h-1zM60 9h1v1h-1zM62 9h1v1h-1zM138 9h1v1h-1zM173 9h2v1h-2zM186 9h1v1h-1zM225 9h1v1h-1zM0 10h1v1h-1zM4 10h1v1h-1zM19 10h1v1h-1zM30 10h1v1h-1zM39 10h1v1h-1zM8 11h1v1h-1zM15 11h1v1h-1zM37 11h1v1h-1zM45 11h1v1h-1zM100 11h1v1h-1zM106 12h1v1h-1zM3 13h1v1h-1zM9 13h1v1h-1zM18 13h1v1h-1zM59 13h1v1h-1zM78 13h1v1h-1zM113 13h1v1h-1zM263 13h1v1h-1zM4 14h1v1h-1zM9 14h1v1h-1zM22 14h1v1h-1zM77 14h1v1h-1zM104 14h1v1h-1zM109 14h1v1h-1zM3 15h1v1h-1zM19 15h1v1h-1zM47 15h1v1h-1zM72 15h1v1h-1zM81 15h1v1h-1zM105 15h1v1h-1zM5 16h1v1h-1zM19 16h1v1h-1zM30 16h1v1h-1zM39 16h1v1h-1zM47 16h1v1h-1zM66 16h1v1h-1zM104 16h1v1h-1zM109 16h1v1h-1zM4 17h1v1h-1zM18 17h1v1h-1zM23 17h1v1h-1zM28 17h1v1h-1zM32 17h1v1h-1zM45 17h1v1h-1zM93 17h1v1h-1zM5 18h1v1h-1zM8 18h1v1h-1zM19 18h1v1h-1zM50 18h1v1h-1zM64 18h1v1h-1zM110 18h1v1h-1zM169 19h1v1h-1z"/>
<path fill="#f5d46f" d="M120 0h1v1h-1zM180 0h1v1h-1zM208 0h1v1h-1zM216 0h1v1h-1zM125 1h1v1h-1zM147 1h1v1h-1zM194 1h1v1h-1zM196 1h1v1h-1zM235 1h1v1h-1zM249 1h1v1h-1zM255 1h1v1h-1zM136 2h1v1h-1zM154 2h1v1h-1zM184 2h1v1h-1zM194 2h1v1h-1zM249 2h1v1h-1zM178 3h1v1h-1zM148 4h1v1h-1zM154 4h1v1h-1zM174 4h1v1h-1zM184 4h1v1h-1zM131 5h1v1h-1zM262 5h1v1h-1zM268 5h1v1h-1zM138 6h1v1h-1zM196 6h1v1h-1zM207 6h1v1h-1zM220 6h1v1h-1zM143 7h1v1h-1zM170 7h1v1h-1zM184 7h1v1h-1zM115 8h1v1h-1zM159 8h1v1h-1zM207 8h1v1h-1zM249 8h1v1h-1zM262 8h1v1h-1zM88 9h1v1h-1zM158 9h1v1h-1zM207 9h1v1h-1zM244 9h1v1h-1zM0 11h1v1h-1zM14 11h1v1h-1zM53 11h1v1h-1zM70 11h1v1h-1zM100 12h1v1h-1zM104 12h1v1h-1zM109 12h1v1h-1zM112 12h1v1h-1zM0 13h1v1h-1zM22 13h1v1h-1zM34 13h1v1h-1zM82 13h1v1h-1zM112 13h1v1h-1zM3 14h1v1h-1zM8 14h1v1h-1zM30 14h1v1h-1zM32 14h1v1h-1zM93 14h1v1h-1zM113 14h1v1h-1zM93 15h1v1h-1zM100 15h1v1h-1zM3 16h1v1h-1zM22 16h1v1h-1zM69 16h1v1h-1zM81 16h1v1h-1zM0 17h1v1h-1zM19 17h1v1h-1zM70 17h1v1h-1zM111 17h1v1h-1zM28 18h1v1h-1zM30 18h1v1h-1zM45 18h1v1h-1zM58 18h1v1h-1zM81 18h1v1h-1zM113 18h1v1h-1zM71 19h1v1h-1zM104 19h1v1h-1z"/>
<path fill="#f4d060" d="M125 0h1v1h-1zM141 0h1v1h-1zM253 0h1v1h-1zM264 0h1v1h-1zM158 1h1v1h-1zM174 1h1v1h-1zM184 1h1v1h-1zM148 2h1v1h-1zM163 2h1v1h-1zM239 2h1v1h-1zM256 2h1v1h-1zM140 3h1v1h-1zM163 3h1v1h-1zM207 3h1v1h-1zM129 5h1v1h-1zM125 6h1v1h-1zM125 7h1v1h-1zM163 7h1v1h-1zM28 10h1v1h-1zM69 10h1v1h-1zM82 10h1v1h-1zM28 11h1v1h-1zM104 11h1v1h-1zM4 12h1v1h-1zM32 13h1v1h-1zM109 13h1v1h-1zM18 14h1v1h-1zM4 15h1v1h-1zM8 15h1v1h-1zM31 15h1v1h-1zM87 15h1v1h-1zM109 15h1v1h-1zM32 16h1v1h-1zM40 16h1v1h-1zM39 17h1v1h-1zM113 17h1v1h-1zM9 18h1v1h-1zM17 18h1v1h-1zM49 18h1v1h-1zM104 18h1v1h-1zM3 19h1v1h-1zM70 19h1v1h-1zM81 19h1v1h-1z"/>
<path fill="#f3cb50" d="M129 0h1v1h-1zM120 1h1v1h-1zM154 1h1v1h-1zM163 1h1v1h-1zM213 1h1v1h-1zM226 2h1v1h-1zM154 3h1v1h-1zM120 4h1v1h-1zM147 5h1v1h-1zM186 5h1v1h-1zM210 5h1v1h-1zM120 6h1v1h-1zM163 6h1v1h-1zM262 6h1v1h-1zM154 7h1v1h-1zM226 7h1v1h-1zM186 8h1v1h-1zM113 10h1v1h-1zM87 11h1v1h-1zM0 12h1v1h-1zM81 12h1v1h-1zM30 13h1v1h-1zM93 13h1v1h-1zM0 14h1v1h-1zM28 14h1v1h-1zM39 15h1v1h-1zM87 17h1v1h-1zM100 18h1v1h-1zM0 19h1v1h-1zM103 19h1v1h-1zM109 19h1v1h-1z"/>
<path fill="#f2c741" d="M163 0h1v1h-1zM268 2h1v1h-1zM120 3h1v1h-1zM163 4h1v1h-1zM178 5h1v1h-1zM154 6h1v1h-1zM147 7h1v1h-1zM249 7h1v1h-1zM125 8h1v1h-1zM47 11h1v1h-1zM28 12h1v1h-1zM69 12h1v1h-1zM87 12h1v1h-1zM28 13h1v1h-1zM74 15h1v1h-1zM113 15h1v1h-1zM113 16h1v1h-1zM30 17h1v1h-1zM104 17h1v1h-1z"/>
<path fill="#f1c232" d="M143 0h1v1h-1zM147 0h1v1h-1zM231 0h1v1h-1zM120 2h1v1h-1zM125 2h1v1h-1zM163 5h1v1h-1zM239 9h1v1h-1zM9 10h1v1h-1zM32 11h1v1h-1zM30 12h1v1h-1zM113 12h1v1h-1zM4 13h1v1h-1zM28 16h1v1h-1zM100 17h1v1h-1z"/>
</g>
<text x="1719.1" y="76" font-size="23.5" textLength="44.6" lengthAdjust="spacingAndGlyphs">HBB</text>
<text x="1719.1" y="109.2" font-size="23.5" textLength="47" lengthAdjust="spacingAndGlyphs">LUM</text>
<text x="1719.1" y="142.2" font-size="23.5" textLength="48.9" lengthAdjust="spacingAndGlyphs">OGN</text>
<text x="1719.1" y="175.4" font-size="23.5" textLength="59.1" lengthAdjust="spacingAndGlyphs">ASPN</text>
<text x="1719.1" y="208.5" font-size="23.5" textLength="52.6" lengthAdjust="spacingAndGlyphs">FRZB</text>
<text x="1719.1" y="241.6" font-size="23.5" textLength="99.8" lengthAdjust="spacingAndGlyphs">COL14A1</text>
<text x="1719.1" y="274.7" font-size="23.5" textLength="66.4" lengthAdjust="spacingAndGlyphs">SFRP4</text>
<text x="1719.1" y="307.8" font-size="23.5" textLength="79.2" lengthAdjust="spacingAndGlyphs">MXRA5</text>
<text x="1719.1" y="340.9" font-size="23.5" textLength="57.4" lengthAdjust="spacingAndGlyphs">NPPA</text>
<text x="1719.1" y="373.9" font-size="23.5" textLength="72.7" lengthAdjust="spacingAndGlyphs">EIF1AY</text>
<text x="1719.1" y="407.1" font-size="23.5" textLength="65.9" lengthAdjust="spacingAndGlyphs">MYH6</text>
<text x="1719.1" y="440.2" font-size="23.5" textLength="58.1" lengthAdjust="spacingAndGlyphs">FCN3</text>
<text x="1719.1" y="473.2" font-size="23.5" textLength="61.5" lengthAdjust="spacingAndGlyphs">LYVE1</text>
<text x="1719.1" y="506.4" font-size="23.5" textLength="71.5" lengthAdjust="spacingAndGlyphs">CD163</text>
<text x="1719.1" y="539.5" font-size="23.5" textLength="63.2" lengthAdjust="spacingAndGlyphs">VSIG4</text>
<text x="1719.1" y="572.6" font-size="23.5" textLength="101.6" lengthAdjust="spacingAndGlyphs">PLA2G2A</text>
<text x="1719.1" y="605.6" font-size="23.5" textLength="106.1" lengthAdjust="spacingAndGlyphs">SERPINA3</text>
<text x="1719.1" y="638.8" font-size="23.5" textLength="99.2" lengthAdjust="spacingAndGlyphs">SLCO4A1</text>
<text x="1719.1" y="671.9" font-size="23.5" textLength="68.4" lengthAdjust="spacingAndGlyphs">IL1RL1</text>
<text x="1719.1" y="705" font-size="23.5" textLength="101" lengthAdjust="spacingAndGlyphs">SERPINE1</text>
<path d="M1161 102.9H1146.2V135.9H1161M1161 235.2H1144V268.4H1161M1161 202.2H1141.2V251.8H1144M1161 169.1H1139.5V227H1141.2M1146.2 119.4H1138.4V198H1139.5M1138.4 158.7H1136.7V301.4H1161M1161 69.8H1125V230.1H1136.7M1125 149.9H1121V334.6H1161M1121 242.2H1118V367.6H1161M1161 400.8H1135.3V433.9H1161M1161 500.1H1146V533.2H1161M1161 466.9H1141.9V516.6H1146M1161 566.3H1141.9V599.4H1161M1141.9 491.8H1137.7V582.8H1141.9M1135.3 417.3H1127.9V537.3H1137.7M1161 632.5H1139.4V665.6H1161M1139.4 649H1133.6V698.7H1161M1127.9 477.3H1125.4V673.8H1133.6M1118 304.9H1100.7V575.6H1125.4" fill="none" stroke="#111" stroke-width="2.8" stroke-linejoin="miter" stroke-linecap="square"/>
<text x="1822.3" y="261.6" font-size="23" textLength="68" lengthAdjust="spacingAndGlyphs">Group</text>
<rect x="1822.5" y="275" width="19.2" height="19.3" fill="#e4281f"/>
<rect x="1822.5" y="296.7" width="19.2" height="19.3" fill="#1f4e9f"/>
<text x="1849.7" y="290.6" font-size="23" textLength="51" lengthAdjust="spacingAndGlyphs">Case</text>
<text x="1849.7" y="312.4" font-size="23" textLength="80" lengthAdjust="spacingAndGlyphs">Normal</text>
<text x="1822.3" y="352.4" font-size="23" textLength="118" lengthAdjust="spacingAndGlyphs">expression</text>
<defs><linearGradient id="hmg" x1="0" y1="0" x2="0" y2="1">
<stop offset="0.00" stop-color="#f1c335"/>
<stop offset="0.10" stop-color="#f4cf5d"/>
<stop offset="0.20" stop-color="#f7db86"/>
<stop offset="0.30" stop-color="#f9e7ae"/>
<stop offset="0.40" stop-color="#fcf3d7"/>
<stop offset="0.50" stop-color="#ffffff"/>
<stop offset="0.60" stop-color="#dceef3"/>
<stop offset="0.70" stop-color="#b9dde6"/>
<stop offset="0.80" stop-color="#96ccda"/>
<stop offset="0.90" stop-color="#73bacd"/>
<stop offset="1.00" stop-color="#50a9c1"/>
</linearGradient></defs>
<rect x="1819.8" y="364.2" width="24.5" height="117.6" fill="url(#hmg)"/>
<line x1="1819.8" y1="368.4" x2="1824.6" y2="368.4" stroke="#fff" stroke-width="1.6"/>
<line x1="1839.5" y1="368.4" x2="1844.3" y2="368.4" stroke="#fff" stroke-width="1.6"/>
<line x1="1819.8" y1="395.5" x2="1824.6" y2="395.5" stroke="#fff" stroke-width="1.6"/>
<line x1="1839.5" y1="395.5" x2="1844.3" y2="395.5" stroke="#fff" stroke-width="1.6"/>
<line x1="1819.8" y1="449.7" x2="1824.6" y2="449.7" stroke="#fff" stroke-width="1.6"/>
<line x1="1839.5" y1="449.7" x2="1844.3" y2="449.7" stroke="#fff" stroke-width="1.6"/>
<line x1="1819.8" y1="476.8" x2="1824.6" y2="476.8" stroke="#fff" stroke-width="1.6"/>
<line x1="1839.5" y1="476.8" x2="1844.3" y2="476.8" stroke="#fff" stroke-width="1.6"/>
<text x="1849.5" y="376.2" font-size="22.5">2</text>
<text x="1849.5" y="403.3" font-size="22.5">1</text>
<text x="1849.5" y="430.4" font-size="22.5">0</text>
<text x="1849.5" y="457.5" font-size="22.5">−1</text>
<text x="1849.5" y="484.6" font-size="22.5">−2</text>
</g>
<g id="pc">
<text x="11.4" y="858.3" font-size="64.3" fill="#231815" textLength="34.1" lengthAdjust="spacingAndGlyphs">C</text>
<line x1="305.2" y1="822.4" x2="305.2" y2="1340" stroke="#333" stroke-width="2.2"/>
<line x1="301" y1="1334.5" x2="305.2" y2="1334.5" stroke="#333" stroke-width="2.2"/>
<text x="282.1" y="1338.1" font-size="25.7" font-family="'Liberation Serif', 'Times New Roman', serif" fill="#6b6b6b">0</text>
<line x1="301" y1="1230" x2="305.2" y2="1230" stroke="#333" stroke-width="2.2"/>
<text x="256.4 269.3 282.1" y="1233.6" font-size="25.7" font-family="'Liberation Serif', 'Times New Roman', serif" fill="#6b6b6b">100</text>
<line x1="301" y1="1125.6" x2="305.2" y2="1125.6" stroke="#333" stroke-width="2.2"/>
<text x="256.4 269.3 282.1" y="1129.2" font-size="25.7" font-family="'Liberation Serif', 'Times New Roman', serif" fill="#6b6b6b">200</text>
<line x1="301" y1="1021.1" x2="305.2" y2="1021.1" stroke="#333" stroke-width="2.2"/>
<text x="256.4 269.3 282.1" y="1024.8" font-size="25.7" font-family="'Liberation Serif', 'Times New Roman', serif" fill="#6b6b6b">300</text>
<line x1="301" y1="916.7" x2="305.2" y2="916.7" stroke="#333" stroke-width="2.2"/>
<text x="256.4 269.3 282.1" y="920.3" font-size="25.7" font-family="'Liberation Serif', 'Times New Roman', serif" fill="#6b6b6b">400</text>
<g transform="translate(224 1093.4) rotate(-90)"><text x="-140.1 -126.1 -105.5 -91.5 -72.9 -57 -41.1 -24.3 -4.7 12.1 25.1 41.9 63 74.5 96.1 110.1 126.9" y="0" font-size="34" font-family="'Liberation Serif', 'Times New Roman', serif" fill="#3a3a3a">Intersection Size</text></g>
<rect x="389.9" y="890.6" width="72.7" height="443.9" fill="#3a3a3a"/>
<text x="410.7 423.5 436.3" y="876.4" font-size="26" font-family="'Liberation Serif', 'Times New Roman', serif" fill="#444">425</text>
<rect x="512" y="1280.2" width="72.6" height="54.3" fill="#3a3a3a"/>
<text x="537.1 549.9" y="1266" font-size="26" font-family="'Liberation Serif', 'Times New Roman', serif" fill="#444">52</text>
<rect x="633.1" y="1328.2" width="72.7" height="6.3" fill="#3a3a3a"/>
<text x="664.1" y="1314" font-size="26" font-family="'Liberation Serif', 'Times New Roman', serif" fill="#444">6</text>
<line x1="305.2" y1="1334.5" x2="791.3" y2="1334.5" stroke="#000" stroke-width="2.6"/>
<rect x="305.2" y="1430" width="486.1" height="86.6" fill="#f6f6f6"/>
<circle cx="426.2" cy="1386.6" r="4.4" fill="#e4e4e4"/>
<circle cx="426.2" cy="1474.4" r="4.4" fill="#3a3a3a"/>
<circle cx="548.3" cy="1386.6" r="4.4" fill="#3a3a3a"/>
<circle cx="548.3" cy="1474.4" r="4.4" fill="#e4e4e4"/>
<circle cx="669.5" cy="1386.6" r="4.4" fill="#3a3a3a"/>
<circle cx="669.5" cy="1474.4" r="4.4" fill="#3a3a3a"/>
<line x1="669.5" y1="1386.6" x2="669.5" y2="1474.4" stroke="#3a3a3a" stroke-width="5"/>
<text x="237.7" y="1394" font-size="26" font-family="'Liberation Serif', 'Times New Roman', serif" fill="#333" textLength="51.8" lengthAdjust="spacingAndGlyphs">LRGs</text>
<text x="237.7" y="1481.7" font-size="26" font-family="'Liberation Serif', 'Times New Roman', serif" fill="#333" textLength="51.8" lengthAdjust="spacingAndGlyphs">DEGs</text>
<rect x="164" y="1366.8" width="24.6" height="38.4" fill="#72a7da"/>
<rect x="30.1" y="1455" width="158.5" height="38.6" fill="#e17b74"/>
<line x1="24.1" y1="1517.9" x2="194.6" y2="1517.9" stroke="#111" stroke-width="2.4"/>
<line x1="44.6" y1="1517.9" x2="44.6" y2="1521.5" stroke="#111" stroke-width="2"/>
<text x="30.1 39.8 49.5" y="1537.5" font-size="19.4" font-family="'Liberation Serif', 'Times New Roman', serif" fill="#555">400</text>
<line x1="80" y1="1517.9" x2="80" y2="1521.5" stroke="#111" stroke-width="2"/>
<text x="65.5 75.2 84.8" y="1537.5" font-size="19.4" font-family="'Liberation Serif', 'Times New Roman', serif" fill="#555">300</text>
<line x1="116" y1="1517.9" x2="116" y2="1521.5" stroke="#111" stroke-width="2"/>
<text x="101.5 111.2 120.8" y="1537.5" font-size="19.4" font-family="'Liberation Serif', 'Times New Roman', serif" fill="#555">200</text>
<line x1="151.8" y1="1517.9" x2="151.8" y2="1521.5" stroke="#111" stroke-width="2"/>
<text x="137.2 146.9 156.7" y="1537.5" font-size="19.4" font-family="'Liberation Serif', 'Times New Roman', serif" fill="#555">100</text>
<line x1="186.4" y1="1517.9" x2="186.4" y2="1521.5" stroke="#111" stroke-width="2"/>
<text x="181.6" y="1537.5" font-size="19.4" font-family="'Liberation Serif', 'Times New Roman', serif" fill="#555">0</text>
<text x="48.4 63 78.2 91.7 100.8 117.5 128.5 141.6" y="1568" font-size="26" font-family="'Liberation Serif', 'Times New Roman', serif" fill="#222">Set Size</text>
</g>
<g id="pd">
<text x="985.1" y="866.4" font-size="65.3" fill="#231815" textLength="40.4" lengthAdjust="spacingAndGlyphs">D</text>
<path d="M1464.8 895.4V1494.7M1528.1 895.4V1494.7M1591.5 895.4V1494.7M1654.8 895.4V1494.7M1718.1 895.4V1494.7M1781.4 895.4V1494.7M1450.5 930.5H1796.5M1450.5 989.3H1796.5M1450.5 1048.1H1796.5M1450.5 1106.9H1796.5M1450.5 1165.7H1796.5M1450.5 1224.5H1796.5M1450.5 1283.3H1796.5M1450.5 1342.1H1796.5M1450.5 1400.9H1796.5M1450.5 1459.7H1796.5" stroke="#ebebeb" stroke-width="2" fill="none"/>
<circle cx="1781.4" cy="930.5" r="8.2" fill="#f1c535"/>
<circle cx="1528.1" cy="989.3" r="5.4" fill="#eec63e"/>
<circle cx="1528.1" cy="1048.1" r="5.4" fill="#eec63e"/>
<circle cx="1528.1" cy="1106.9" r="5.4" fill="#ebc443"/>
<circle cx="1528.1" cy="1165.7" r="5.4" fill="#e6c34a"/>
<circle cx="1464.8" cy="1224.5" r="2.6" fill="#b8ba78"/>
<circle cx="1464.8" cy="1283.3" r="2.6" fill="#b1b87e"/>
<circle cx="1464.8" cy="1342.1" r="2.6" fill="#8fb4a0"/>
<circle cx="1464.8" cy="1400.9" r="2.6" fill="#74b0b6"/>
<circle cx="1464.8" cy="1459.7" r="2.6" fill="#6eb0bc"/>
<rect x="1450.5" y="895.4" width="346" height="599.3" fill="none" stroke="#333" stroke-width="2.2"/>
<line x1="1446.3" y1="930.5" x2="1450.5" y2="930.5" stroke="#333" stroke-width="2.2"/>
<text x="1437.5" y="936.4" font-size="23" fill="#111" text-anchor="end" font-weight="bold" textLength="331" lengthAdjust="spacingAndGlyphs">Arachidonic acid metabolism</text>
<line x1="1446.3" y1="989.3" x2="1450.5" y2="989.3" stroke="#333" stroke-width="2.2"/>
<text x="1437.5" y="995.2" font-size="23" fill="#111" text-anchor="end" font-weight="bold" textLength="283.4" lengthAdjust="spacingAndGlyphs">Linoleic acid metabolism</text>
<line x1="1446.3" y1="1048.1" x2="1450.5" y2="1048.1" stroke="#333" stroke-width="2.2"/>
<text x="1437.5" y="1054" font-size="23" fill="#111" text-anchor="end" font-weight="bold" textLength="278.1" lengthAdjust="spacingAndGlyphs">Ovarian steroidogenesis</text>
<line x1="1446.3" y1="1106.9" x2="1450.5" y2="1106.9" stroke="#333" stroke-width="2.2"/>
<text x="1437.5" y="1112.8" font-size="23" fill="#111" text-anchor="end" font-weight="bold" textLength="271.4" lengthAdjust="spacingAndGlyphs">Glutathione metabolism</text>
<line x1="1446.3" y1="1165.7" x2="1450.5" y2="1165.7" stroke="#333" stroke-width="2.2"/>
<text x="1437.5" y="1171.6" font-size="23" fill="#111" text-anchor="end" font-weight="bold" textLength="249" lengthAdjust="spacingAndGlyphs">Serotonergic synapse</text>
<line x1="1446.3" y1="1224.5" x2="1450.5" y2="1224.5" stroke="#333" stroke-width="2.2"/>
<text x="1437.5" y="1230.4" font-size="23" fill="#111" text-anchor="end" font-weight="bold" textLength="415.3" lengthAdjust="spacingAndGlyphs">Taurine and hypotaurine metabolism</text>
<line x1="1446.3" y1="1283.3" x2="1450.5" y2="1283.3" stroke="#333" stroke-width="2.2"/>
<text x="1437.5" y="1289.2" font-size="23" fill="#111" text-anchor="end" font-weight="bold" textLength="374.1" lengthAdjust="spacingAndGlyphs">alpha−Linolenic acid metabolism</text>
<line x1="1446.3" y1="1342.1" x2="1450.5" y2="1342.1" stroke="#333" stroke-width="2.2"/>
<text x="1437.5" y="1348" font-size="23" fill="#111" text-anchor="end" font-weight="bold" textLength="327" lengthAdjust="spacingAndGlyphs">Fat digestion and absorption</text>
<line x1="1446.3" y1="1400.9" x2="1450.5" y2="1400.9" stroke="#333" stroke-width="2.2"/>
<text x="1437.5" y="1406.8" font-size="23" fill="#111" text-anchor="end" font-weight="bold" textLength="255.5" lengthAdjust="spacingAndGlyphs">Ether lipid metabolism</text>
<line x1="1446.3" y1="1459.7" x2="1450.5" y2="1459.7" stroke="#333" stroke-width="2.2"/>
<text x="1437.5" y="1465.6" font-size="23" fill="#111" text-anchor="end" font-weight="bold" textLength="361.5" lengthAdjust="spacingAndGlyphs">Fc epsilon RI signaling pathway</text>
<line x1="1528.1" y1="1494.7" x2="1528.1" y2="1498.7" stroke="#333" stroke-width="2.2"/>
<text x="1528.1" y="1514.3" font-size="21.6" fill="#111" text-anchor="middle" font-weight="bold">2</text>
<line x1="1654.8" y1="1494.7" x2="1654.8" y2="1498.7" stroke="#333" stroke-width="2.2"/>
<text x="1654.8" y="1514.3" font-size="21.6" fill="#111" text-anchor="middle" font-weight="bold">4</text>
<line x1="1781.4" y1="1494.7" x2="1781.4" y2="1498.7" stroke="#333" stroke-width="2.2"/>
<text x="1781.4" y="1514.3" font-size="21.6" fill="#111" text-anchor="middle" font-weight="bold">6</text>
<text x="1632.6" y="878.8" font-size="27.5" font-family="'Liberation Serif', 'Times New Roman', serif" fill="#111" text-anchor="middle" font-weight="bold" textLength="248" lengthAdjust="spacingAndGlyphs">KEGG Enrichment</text>
<text x="1649" y="1541.5" font-size="29" font-family="'Liberation Serif', 'Times New Roman', serif" fill="#111" text-anchor="middle" font-weight="bold" textLength="180" lengthAdjust="spacingAndGlyphs">Gene Number</text>
<text transform="translate(1005 1175) rotate(-90)" font-size="27.5" font-family="'Liberation Serif', 'Times New Roman', serif" font-weight="bold" fill="#111" text-anchor="middle" textLength="122" lengthAdjust="spacingAndGlyphs">Pathways</text>
<rect x="1810" y="1043" width="77.5" height="137" fill="#fff" stroke="#222" stroke-width="1.6"/>
<text x="1817" y="1060.4" font-size="13.5" font-family="'Liberation Serif', 'Times New Roman', serif" fill="#333" textLength="48" lengthAdjust="spacingAndGlyphs">p.Value</text>
<defs><linearGradient id="pvg" x1="0" y1="0" x2="0" y2="1"><stop offset="0" stop-color="#5aaec4"/><stop offset="0.5" stop-color="#b0b878"/><stop offset="1" stop-color="#f4c632"/></linearGradient></defs>
<rect x="1817" y="1071.9" width="20.2" height="101.1" fill="url(#pvg)"/>
<line x1="1817" y1="1095.2" x2="1820.5" y2="1095.2" stroke="#fff" stroke-width="1.2"/>
<line x1="1833.7" y1="1095.2" x2="1837.2" y2="1095.2" stroke="#fff" stroke-width="1.2"/>
<line x1="1817" y1="1121" x2="1820.5" y2="1121" stroke="#fff" stroke-width="1.2"/>
<line x1="1833.7" y1="1121" x2="1837.2" y2="1121" stroke="#fff" stroke-width="1.2"/>
<line x1="1817" y1="1147.5" x2="1820.5" y2="1147.5" stroke="#fff" stroke-width="1.2"/>
<line x1="1833.7" y1="1147.5" x2="1837.2" y2="1147.5" stroke="#fff" stroke-width="1.2"/>
<text x="1844" y="1100.2" font-size="15" font-family="'Liberation Serif', 'Times New Roman', serif" fill="#111" font-weight="bold" textLength="37" lengthAdjust="spacingAndGlyphs">0.075</text>
<text x="1844" y="1126" font-size="15" font-family="'Liberation Serif', 'Times New Roman', serif" fill="#111" font-weight="bold" textLength="37" lengthAdjust="spacingAndGlyphs">0.050</text>
<text x="1844" y="1152.5" font-size="15" font-family="'Liberation Serif', 'Times New Roman', serif" fill="#111" font-weight="bold" textLength="37" lengthAdjust="spacingAndGlyphs">0.025</text>
<rect x="1810" y="1192.7" width="48.3" height="154.5" fill="#fff" stroke="#222" stroke-width="1.6"/>
<text x="1817" y="1210.6" font-size="13.5" font-family="'Liberation Serif', 'Times New Roman', serif" fill="#333" textLength="36" lengthAdjust="spacingAndGlyphs">Count</text>
<circle cx="1826.8" cy="1229" r="2.5" fill="#000"/>
<text x="1847" y="1233.8" font-size="14.5" font-family="'Liberation Serif', 'Times New Roman', serif" fill="#111" text-anchor="middle" font-weight="bold">1</text>
<circle cx="1826.8" cy="1249.2" r="5.4" fill="#000"/>
<text x="1847" y="1254" font-size="14.5" font-family="'Liberation Serif', 'Times New Roman', serif" fill="#111" text-anchor="middle" font-weight="bold">2</text>
<circle cx="1826.8" cy="1269.2" r="6.5" fill="#000"/>
<text x="1847" y="1274" font-size="14.5" font-family="'Liberation Serif', 'Times New Roman', serif" fill="#111" text-anchor="middle" font-weight="bold">3</text>
<circle cx="1826.8" cy="1290" r="7.4" fill="#000"/>
<text x="1847" y="1294.8" font-size="14.5" font-family="'Liberation Serif', 'Times New Roman', serif" fill="#111" text-anchor="middle" font-weight="bold">4</text>
<circle cx="1826.8" cy="1310.4" r="8.2" fill="#000"/>
<text x="1847" y="1315.2" font-size="14.5" font-family="'Liberation Serif', 'Times New Roman', serif" fill="#111" text-anchor="middle" font-weight="bold">5</text>
<circle cx="1826.8" cy="1330.4" r="8.9" fill="#000"/>
<text x="1847" y="1335.2" font-size="14.5" font-family="'Liberation Serif', 'Times New Roman', serif" fill="#111" text-anchor="middle" font-weight="bold">6</text>
</g>
<g id="pe">
<text x="9.7" y="1690" font-size="63.4" fill="#231815" textLength="31" lengthAdjust="spacingAndGlyphs">E</text>
<path d="M474.3 1701.1V2173.1M534.5 1701.1V2173.1M594.6 1701.1V2173.1M654.8 1701.1V2173.1M715 1701.1V2173.1M775.2 1701.1V2173.1M835.3 1701.1V2173.1M895.5 1701.1V2173.1M955.7 1701.1V2173.1M451.8 1714.3H978.5M451.8 1737.8H978.5M451.8 1761.2H978.5M451.8 1784.6H978.5M451.8 1808.1H978.5M451.8 1831.5H978.5M451.8 1855H978.5M451.8 1878.5H978.5M451.8 1901.9H978.5M451.8 1925.3H978.5M451.8 1948.8H978.5M451.8 1972.2H978.5M451.8 1995.7H978.5M451.8 2019.1H978.5M451.8 2042.6H978.5M451.8 2066.1H978.5M451.8 2089.5H978.5M451.8 2112.9H978.5M451.8 2136.4H978.5M451.8 2159.8H978.5" stroke="#ebebeb" stroke-width="1.8" fill="none"/>
<rect x="474.3" y="1705" width="481.4" height="18.6" fill="#ecc862"/>
<rect x="474.3" y="1728.5" width="481.4" height="18.6" fill="#ecc862"/>
<rect x="474.3" y="1751.9" width="361" height="18.6" fill="#ecc862"/>
<rect x="474.3" y="1775.3" width="361" height="18.6" fill="#ecc862"/>
<rect x="474.3" y="1798.8" width="361" height="18.6" fill="#ecc862"/>
<rect x="474.3" y="1822.2" width="361" height="18.6" fill="#ecc862"/>
<rect x="474.3" y="1845.7" width="361" height="18.6" fill="#ecc862"/>
<rect x="474.3" y="1869.2" width="240.7" height="18.6" fill="#ecc862"/>
<rect x="474.3" y="1892.6" width="240.7" height="18.6" fill="#ecc862"/>
<rect x="474.3" y="1916" width="240.7" height="18.6" fill="#ecc862"/>
<rect x="474.3" y="1939.5" width="240.7" height="18.6" fill="#84c2d2"/>
<rect x="474.3" y="1963" width="240.7" height="18.6" fill="#84c2d2"/>
<rect x="474.3" y="1986.4" width="240.7" height="18.6" fill="#84c2d2"/>
<rect x="474.3" y="2009.8" width="120.3" height="18.6" fill="#84c2d2"/>
<rect x="474.3" y="2033.3" width="120.3" height="18.6" fill="#84c2d2"/>
<rect x="474.3" y="2056.8" width="120.3" height="18.6" fill="#84c2d2"/>
<rect x="474.3" y="2080.2" width="120.3" height="18.6" fill="#84c2d2"/>
<rect x="474.3" y="2103.6" width="120.3" height="18.6" fill="#84c2d2"/>
<rect x="474.3" y="2127.1" width="120.3" height="18.6" fill="#84c2d2"/>
<rect x="474.3" y="2150.5" width="120.3" height="18.6" fill="#84c2d2"/>
<rect x="451.8" y="1701.1" width="526.7" height="472" fill="none" stroke="#222" stroke-width="2"/>
<line x1="448" y1="1714.3" x2="451.8" y2="1714.3" stroke="#222" stroke-width="1.8"/>
<text x="445.3" y="1717" font-size="20.2" fill="#1a1a1a" text-anchor="end" textLength="261.1" lengthAdjust="spacingAndGlyphs">icosanoid metabolic process</text>
<line x1="448" y1="1737.8" x2="451.8" y2="1737.8" stroke="#222" stroke-width="1.8"/>
<text x="445.3" y="1740.5" font-size="20.2" fill="#1a1a1a" text-anchor="end" textLength="257.8" lengthAdjust="spacingAndGlyphs">fatty acid metabolic process</text>
<line x1="448" y1="1761.2" x2="451.8" y2="1761.2" stroke="#222" stroke-width="1.8"/>
<text x="445.3" y="1763.9" font-size="20.2" fill="#1a1a1a" text-anchor="end" textLength="282.6" lengthAdjust="spacingAndGlyphs">icosanoid biosynthetic process</text>
<line x1="448" y1="1784.6" x2="451.8" y2="1784.6" stroke="#222" stroke-width="1.8"/>
<text x="445.3" y="1787.3" font-size="20.2" fill="#1a1a1a" text-anchor="end" textLength="374.3" lengthAdjust="spacingAndGlyphs">unsaturated fatty acid metabolic process</text>
<line x1="448" y1="1808.1" x2="451.8" y2="1808.1" stroke="#222" stroke-width="1.8"/>
<text x="445.3" y="1810.8" font-size="20.2" fill="#1a1a1a" text-anchor="end" textLength="346.9" lengthAdjust="spacingAndGlyphs">olefinic compound metabolic process</text>
<line x1="448" y1="1831.5" x2="451.8" y2="1831.5" stroke="#222" stroke-width="1.8"/>
<text x="445.3" y="1834.2" font-size="20.2" fill="#1a1a1a" text-anchor="end" textLength="330.1" lengthAdjust="spacingAndGlyphs">carboxylic acid biosynthetic process</text>
<line x1="448" y1="1855" x2="451.8" y2="1855" stroke="#222" stroke-width="1.8"/>
<text x="445.3" y="1857.7" font-size="20.2" fill="#1a1a1a" text-anchor="end" textLength="306.7" lengthAdjust="spacingAndGlyphs">organic acid biosynthetic process</text>
<line x1="448" y1="1878.5" x2="451.8" y2="1878.5" stroke="#222" stroke-width="1.8"/>
<text x="445.3" y="1881.2" font-size="20.2" fill="#1a1a1a" text-anchor="end" textLength="299.3" lengthAdjust="spacingAndGlyphs">leukotriene biosynthetic process</text>
<line x1="448" y1="1901.9" x2="451.8" y2="1901.9" stroke="#222" stroke-width="1.8"/>
<text x="445.3" y="1904.6" font-size="20.2" fill="#1a1a1a" text-anchor="end" textLength="221" lengthAdjust="spacingAndGlyphs">ether metabolic process</text>
<line x1="448" y1="1925.3" x2="451.8" y2="1925.3" stroke="#222" stroke-width="1.8"/>
<text x="445.3" y="1928" font-size="20.2" fill="#1a1a1a" text-anchor="end" textLength="276.5" lengthAdjust="spacingAndGlyphs">leukotriene metabolic process</text>
<line x1="448" y1="1948.8" x2="451.8" y2="1948.8" stroke="#222" stroke-width="1.8"/>
<text x="445.3" y="1951.5" font-size="20.2" fill="#1a1a1a" text-anchor="end" textLength="147.3" lengthAdjust="spacingAndGlyphs">iron ion binding</text>
<line x1="448" y1="1972.2" x2="451.8" y2="1972.2" stroke="#222" stroke-width="1.8"/>
<text x="445.3" y="1975" font-size="20.2" fill="#1a1a1a" text-anchor="end" textLength="164" lengthAdjust="spacingAndGlyphs">isomerase activity</text>
<line x1="448" y1="1995.7" x2="451.8" y2="1995.7" stroke="#222" stroke-width="1.8"/>
<text x="445.3" y="1998.4" font-size="20.2" fill="#1a1a1a" text-anchor="end" textLength="220.3" lengthAdjust="spacingAndGlyphs">magnesium ion binding</text>
<line x1="448" y1="2019.1" x2="451.8" y2="2019.1" stroke="#222" stroke-width="1.8"/>
<text x="445.3" y="2021.8" font-size="20.2" fill="#1a1a1a" text-anchor="end" textLength="219" lengthAdjust="spacingAndGlyphs">toxic substance binding</text>
<line x1="448" y1="2042.6" x2="451.8" y2="2042.6" stroke="#222" stroke-width="1.8"/>
<text x="445.3" y="2045.3" font-size="20.2" fill="#1a1a1a" text-anchor="end" textLength="371.6" lengthAdjust="spacingAndGlyphs">hydrolase activity, acting on ether bonds</text>
<line x1="448" y1="2066.1" x2="451.8" y2="2066.1" stroke="#222" stroke-width="1.8"/>
<text x="445.3" y="2068.8" font-size="20.2" fill="#1a1a1a" text-anchor="end" textLength="214.3" lengthAdjust="spacingAndGlyphs">ether hydrolase activity</text>
<line x1="448" y1="2089.5" x2="451.8" y2="2089.5" stroke="#222" stroke-width="1.8"/>
<text x="445.3" y="2092.2" font-size="20.2" fill="#1a1a1a" text-anchor="end" textLength="232.3" lengthAdjust="spacingAndGlyphs">omega peptidase activity</text>
<line x1="448" y1="2112.9" x2="451.8" y2="2112.9" stroke="#222" stroke-width="1.8"/>
<text x="445.3" y="2115.6" font-size="20.2" fill="#1a1a1a" text-anchor="end" textLength="349.5" lengthAdjust="spacingAndGlyphs">arachidonic acid epoxygenase activity</text>
<line x1="448" y1="2136.4" x2="451.8" y2="2136.4" stroke="#222" stroke-width="1.8"/>
<text x="445.3" y="2139.1" font-size="20.2" fill="#1a1a1a" text-anchor="end" textLength="429.9" lengthAdjust="spacingAndGlyphs">calcium−dependent phospholipase A2 activity</text>
<line x1="448" y1="2159.8" x2="451.8" y2="2159.8" stroke="#222" stroke-width="1.8"/>
<text x="445.3" y="2162.5" font-size="20.2" fill="#1a1a1a" text-anchor="end" textLength="381" lengthAdjust="spacingAndGlyphs">arachidonic acid monooxygenase activity</text>
<line x1="474.3" y1="2173.1" x2="474.3" y2="2177.1" stroke="#222" stroke-width="1.8"/>
<text x="474.3" y="2196" font-size="20.2" fill="#222" text-anchor="middle">0</text>
<line x1="594.6" y1="2173.1" x2="594.6" y2="2177.1" stroke="#222" stroke-width="1.8"/>
<text x="594.6" y="2196" font-size="20.2" fill="#222" text-anchor="middle">1</text>
<line x1="715" y1="2173.1" x2="715" y2="2177.1" stroke="#222" stroke-width="1.8"/>
<text x="715" y="2196" font-size="20.2" fill="#222" text-anchor="middle">2</text>
<line x1="835.3" y1="2173.1" x2="835.3" y2="2177.1" stroke="#222" stroke-width="1.8"/>
<text x="835.3" y="2196" font-size="20.2" fill="#222" text-anchor="middle">3</text>
<line x1="955.7" y1="2173.1" x2="955.7" y2="2177.1" stroke="#222" stroke-width="1.8"/>
<text x="955.7" y="2196" font-size="20.2" fill="#222" text-anchor="middle">4</text>
<text x="711.2" y="1688.2" font-size="30.5" fill="#111" text-anchor="middle" textLength="126" lengthAdjust="spacingAndGlyphs">GO Terms</text>
<text x="729" y="2239.9" font-size="30.5" fill="#111" text-anchor="middle" textLength="184" lengthAdjust="spacingAndGlyphs">Gene Number</text>
<text transform="translate(51.5 1906.3) rotate(-90)" font-size="31.5" fill="#111" text-anchor="middle" textLength="110.5" lengthAdjust="spacingAndGlyphs">GO term</text>
<rect x="989.4" y="1905.8" width="185.1" height="60.1" fill="#fff" stroke="#222" stroke-width="1.6"/>
<text x="995.8" y="1923.1" font-size="14.5" fill="#222" textLength="28" lengthAdjust="spacingAndGlyphs">type</text>
<rect x="995" y="1930.2" width="15.7" height="13.1" fill="#ecc862"/>
<rect x="995" y="1945.4" width="15.7" height="14.6" fill="#84c2d2"/>
<text x="1016.6" y="1940.1" font-size="14.5" fill="#222" textLength="137.4" lengthAdjust="spacingAndGlyphs">BP:biological process</text>
<text x="1016.6" y="1956.5" font-size="14.5" fill="#222" textLength="147.4" lengthAdjust="spacingAndGlyphs">MF:molecular function</text>
</g>
</svg>
</body></html>
